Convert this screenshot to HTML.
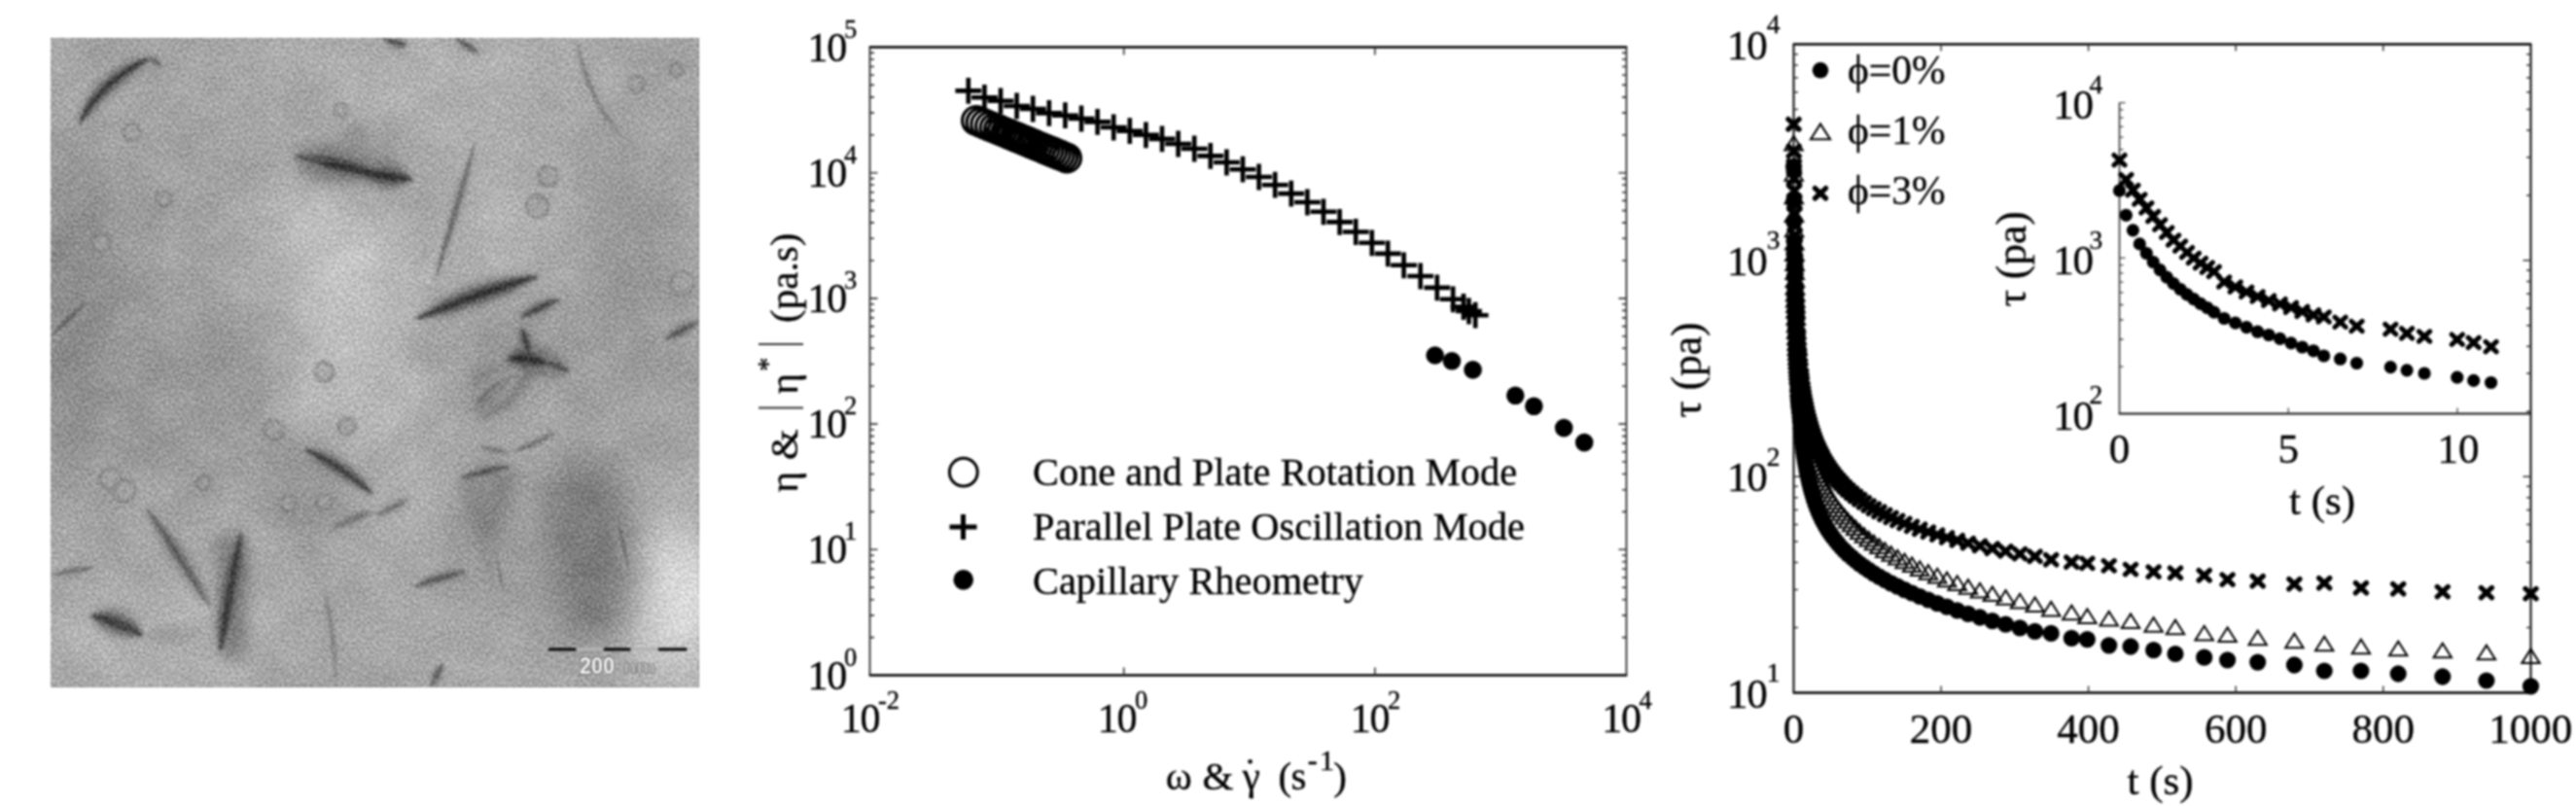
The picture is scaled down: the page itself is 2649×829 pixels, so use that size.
<!DOCTYPE html><html><head><meta charset="utf-8"><style>html,body{margin:0;padding:0;background:#fff;overflow:hidden}svg{display:block}text{font-family:"Liberation Serif",serif;fill:#000;stroke:#000;stroke-width:0.35px}</style></head><body><svg width="2649" height="829" viewBox="0 0 2649 829"><defs><filter id="soft" x="0" y="0" width="100%" height="100%" color-interpolation-filters="sRGB"><feGaussianBlur stdDeviation="0.85"/></filter></defs><rect width="100%" height="100%" fill="#fff"/><g filter="url(#soft)"><defs><clipPath id="temclip"><rect x="0" y="0" width="666" height="667"/></clipPath><filter id="b40" x="-50%" y="-50%" width="200%" height="200%"><feGaussianBlur stdDeviation="30"/></filter><filter id="b20" x="-50%" y="-50%" width="200%" height="200%"><feGaussianBlur stdDeviation="16"/></filter><filter id="b8" x="-50%" y="-50%" width="200%" height="200%"><feGaussianBlur stdDeviation="7"/></filter><filter id="b3" x="-50%" y="-50%" width="200%" height="200%"><feGaussianBlur stdDeviation="3"/></filter><filter id="b15" x="-50%" y="-50%" width="200%" height="200%"><feGaussianBlur stdDeviation="1.2"/></filter><filter id="temf" x="0" y="0" width="100%" height="100%" color-interpolation-filters="sRGB"><feTurbulence type="fractalNoise" baseFrequency="0.42" numOctaves="2" seed="7" result="n1"/><feColorMatrix in="n1" type="matrix" values="1 0 0 0 0  1 0 0 0 0  1 0 0 0 0  0 0 0 0 1" result="g1"/><feTurbulence type="fractalNoise" baseFrequency="0.025" numOctaves="2" seed="11" result="n2"/><feColorMatrix in="n2" type="matrix" values="1 0 0 0 0  1 0 0 0 0  1 0 0 0 0  0 0 0 0 1" result="g2"/><feComposite in="SourceGraphic" in2="g1" operator="arithmetic" k1="0" k2="1" k3="0.52" k4="-0.26" result="s1"/><feComposite in="s1" in2="g2" operator="arithmetic" k1="0" k2="1" k3="0.09" k4="-0.045" result="s2"/><feGaussianBlur in="s2" stdDeviation="0.45"/></filter></defs>
<g transform="translate(52.3,39.1) scale(1.0005,1.0012)"><g clip-path="url(#temclip)"><g filter="url(#temf)">
<rect x="0" y="0" width="666" height="667" fill="rgb(165,165,165)"/>
<ellipse cx="290" cy="235" rx="65" ry="100" transform="rotate(-15 290 235)" fill="rgb(205,205,205)" opacity="0.95" filter="url(#b40)"/>
<ellipse cx="330" cy="360" rx="70" ry="60" transform="rotate(0 330 360)" fill="rgb(188,188,188)" opacity="0.7" filter="url(#b40)"/>
<ellipse cx="290" cy="300" rx="90" ry="120" transform="rotate(0 290 300)" fill="rgb(190,190,190)" opacity="0.6" filter="url(#b40)"/>
<ellipse cx="640" cy="575" rx="55" ry="80" transform="rotate(0 640 575)" fill="rgb(222,222,222)" opacity="1.0" filter="url(#b40)"/>
<ellipse cx="110" cy="620" rx="130" ry="60" transform="rotate(0 110 620)" fill="rgb(182,182,182)" opacity="0.7" filter="url(#b40)"/>
<ellipse cx="380" cy="30" rx="220" ry="40" transform="rotate(0 380 30)" fill="rgb(180,180,180)" opacity="0.7" filter="url(#b40)"/>
<ellipse cx="470" cy="180" rx="70" ry="110" transform="rotate(0 470 180)" fill="rgb(182,182,182)" opacity="0.6" filter="url(#b40)"/>
<ellipse cx="370" cy="470" rx="60" ry="60" transform="rotate(0 370 470)" fill="rgb(180,180,180)" opacity="0.6" filter="url(#b40)"/>
<ellipse cx="400" cy="620" rx="90" ry="50" transform="rotate(0 400 620)" fill="rgb(176,176,176)" opacity="0.5" filter="url(#b40)"/>
<ellipse cx="640" cy="160" rx="40" ry="80" transform="rotate(0 640 160)" fill="rgb(176,176,176)" opacity="0.5" filter="url(#b40)"/>
<ellipse cx="200" cy="560" rx="60" ry="60" transform="rotate(0 200 560)" fill="rgb(178,178,178)" opacity="0.5" filter="url(#b40)"/>
<ellipse cx="25" cy="280" rx="45" ry="160" transform="rotate(0 25 280)" fill="rgb(132,132,132)" opacity="0.9" filter="url(#b40)"/>
<ellipse cx="170" cy="330" rx="60" ry="60" transform="rotate(0 170 330)" fill="rgb(142,142,142)" opacity="0.7" filter="url(#b40)"/>
<ellipse cx="120" cy="420" rx="90" ry="40" transform="rotate(0 120 420)" fill="rgb(150,150,150)" opacity="0.6" filter="url(#b40)"/>
<ellipse cx="555" cy="528" rx="46" ry="98" transform="rotate(-6 555 528)" fill="rgb(118,118,118)" opacity="0.9" filter="url(#b20)"/>
<ellipse cx="452" cy="510" rx="32" ry="75" transform="rotate(0 452 510)" fill="rgb(142,142,142)" opacity="0.7" filter="url(#b40)"/>
<ellipse cx="600" cy="250" rx="40" ry="150" transform="rotate(0 600 250)" fill="rgb(150,150,150)" opacity="0.6" filter="url(#b40)"/>
<ellipse cx="262" cy="465" rx="35" ry="40" transform="rotate(0 262 465)" fill="rgb(145,145,145)" opacity="0.7" filter="url(#b20)"/>
<ellipse cx="300" cy="150" rx="55" ry="35" transform="rotate(0 300 150)" fill="rgb(155,155,155)" opacity="0.5" filter="url(#b40)"/>
<ellipse cx="150" cy="160" rx="60" ry="50" transform="rotate(0 150 160)" fill="rgb(157,157,157)" opacity="0.4" filter="url(#b40)"/>
<ellipse cx="240" cy="250" rx="20" ry="60" transform="rotate(0 240 250)" fill="rgb(157,157,157)" opacity="0.5" filter="url(#b20)"/>
<ellipse cx="490" cy="320" rx="40" ry="40" transform="rotate(0 490 320)" fill="rgb(140,140,140)" opacity="0.6" filter="url(#b20)"/>
<ellipse cx="150" cy="20" rx="80" ry="25" transform="rotate(0 150 20)" fill="rgb(160,160,160)" opacity="0.5" filter="url(#b40)"/>
<ellipse cx="600" cy="220" rx="30" ry="130" transform="rotate(0 600 220)" fill="rgb(146,146,146)" opacity="0.6" filter="url(#b40)"/>
<ellipse cx="400" cy="50" rx="70" ry="50" transform="rotate(0 400 50)" fill="rgb(184,184,184)" opacity="0.6" filter="url(#b40)"/>
<ellipse cx="260" cy="455" rx="40" ry="45" transform="rotate(0 260 455)" fill="rgb(150,150,150)" opacity="0.6" filter="url(#b20)"/>
<ellipse cx="140" cy="370" rx="80" ry="40" transform="rotate(0 140 370)" fill="rgb(152,152,152)" opacity="0.5" filter="url(#b40)"/>
<ellipse cx="420" cy="320" rx="60" ry="30" transform="rotate(0 420 320)" fill="rgb(150,150,150)" opacity="0.5" filter="url(#b20)"/>
<path d="M250,112 C285,100 325,112 333,128 C325,150 290,150 255,135 Z" fill="rgb(140,140,140)" opacity="0.8" filter="url(#b3)"/>
<path d="M296,96 C305,88 322,88 328,100 C322,116 302,116 296,96 Z" fill="rgb(150,150,150)" opacity="0.8" filter="url(#b3)"/>
<path d="M378,250 L405,186 L418,190 L392,255 Z" fill="rgb(190,190,190)" opacity="0.6" filter="url(#b3)"/>
<path d="M97,482 C120,505 150,545 165,585 C150,580 120,540 97,482 Z" fill="rgb(150,150,150)" opacity="0.8" filter="url(#b3)"/>
<path d="M174,631 C180,590 185,550 196,507 C205,550 198,600 185,645 Z" fill="rgb(150,150,150)" opacity="0.8" filter="url(#b3)"/>
<path d="M95,614 C115,600 140,598 160,606 C140,625 115,628 95,614 Z" fill="rgb(160,160,160)" opacity="0.8" filter="url(#b3)"/>
<path d="M231,428 L289,430 L292,498 L235,494 Z" fill="rgb(150,150,150)" opacity="0.7" filter="url(#b8)"/>
<path d="M418,451 L476,442 L462,520 L455,571 L440,520 Z" fill="rgb(128,128,128)" opacity="0.8" filter="url(#b8)"/>
<path d="M430,335 L500,330 L480,360 L440,392 Z" fill="rgb(125,125,125)" opacity="0.8" filter="url(#b8)"/>
<path d="M168,515 L200,505 L205,560 L200,640 L180,640 Z" fill="rgb(125,125,125)" opacity="0.8" filter="url(#b8)"/>
<path d="M255,118 C290,100 340,110 372,138 C350,158 300,158 255,140 Z" fill="rgb(130,130,130)" opacity="0.7" filter="url(#b8)"/>
<path d="M470,470 C480,500 490,540 495,580 C485,560 472,520 470,470 Z" fill="rgb(150,150,150)" opacity="0.6" filter="url(#b8)"/>
<path d="M468,330 C478,318 495,312 512,318 C525,330 530,340 520,346 C500,350 485,348 468,330 Z" fill="rgb(95,95,95)" opacity="0.5" filter="url(#b3)"/>
<path d="M478,342 L505,338 L470,380 L440,392 Z" fill="rgb(115,115,115)" opacity="0.6" filter="url(#b3)"/>
<circle cx="52" cy="211" r="9" fill="rgb(160,160,160)" stroke="rgb(112,112,112)" stroke-width="2.3" opacity="0.7" filter="url(#b15)"/>
<circle cx="281" cy="343" r="10" fill="rgb(160,160,160)" stroke="rgb(112,112,112)" stroke-width="2.3" opacity="0.7" filter="url(#b15)"/>
<circle cx="304" cy="399" r="9" fill="rgb(160,160,160)" stroke="rgb(112,112,112)" stroke-width="2.3" opacity="0.7" filter="url(#b15)"/>
<circle cx="229" cy="403" r="10" fill="rgb(160,160,160)" stroke="rgb(112,112,112)" stroke-width="2.3" opacity="0.7" filter="url(#b15)"/>
<circle cx="62" cy="453" r="11" fill="rgb(160,160,160)" stroke="rgb(112,112,112)" stroke-width="2.3" opacity="0.7" filter="url(#b15)"/>
<circle cx="76" cy="465" r="11" fill="rgb(160,160,160)" stroke="rgb(112,112,112)" stroke-width="2.3" opacity="0.7" filter="url(#b15)"/>
<circle cx="157" cy="457" r="7" fill="rgb(160,160,160)" stroke="rgb(112,112,112)" stroke-width="2.3" opacity="0.7" filter="url(#b15)"/>
<circle cx="511" cy="142" r="10" fill="rgb(160,160,160)" stroke="rgb(112,112,112)" stroke-width="2.3" opacity="0.7" filter="url(#b15)"/>
<circle cx="500" cy="173" r="11.5" fill="rgb(160,160,160)" stroke="rgb(112,112,112)" stroke-width="2.3" opacity="0.7" filter="url(#b15)"/>
<circle cx="649" cy="252" r="12" fill="rgb(160,160,160)" stroke="rgb(112,112,112)" stroke-width="2.3" opacity="0.7" filter="url(#b15)"/>
<circle cx="83" cy="97" r="9" fill="rgb(160,160,160)" stroke="rgb(112,112,112)" stroke-width="2.3" opacity="0.7" filter="url(#b15)"/>
<circle cx="298" cy="74" r="7" fill="rgb(160,160,160)" stroke="rgb(112,112,112)" stroke-width="2.3" opacity="0.7" filter="url(#b15)"/>
<circle cx="602" cy="47" r="8" fill="rgb(160,160,160)" stroke="rgb(112,112,112)" stroke-width="2.3" opacity="0.7" filter="url(#b15)"/>
<circle cx="643" cy="33" r="7" fill="rgb(160,160,160)" stroke="rgb(112,112,112)" stroke-width="2.3" opacity="0.7" filter="url(#b15)"/>
<circle cx="244" cy="478" r="8" fill="rgb(160,160,160)" stroke="rgb(112,112,112)" stroke-width="2.3" opacity="0.7" filter="url(#b15)"/>
<circle cx="281" cy="476" r="8" fill="rgb(160,160,160)" stroke="rgb(112,112,112)" stroke-width="2.3" opacity="0.7" filter="url(#b15)"/>
<circle cx="116" cy="165" r="8" fill="rgb(160,160,160)" stroke="rgb(112,112,112)" stroke-width="2.3" opacity="0.7" filter="url(#b15)"/>
<path d="M29.0,89.0 L33.8,86.9 L37.2,84.3 L40.3,81.7 L43.3,79.0 L46.2,76.4 L49.1,73.8 L51.9,71.2 L54.7,68.6 L57.5,66.0 L60.3,63.5 L63.1,60.9 L65.9,58.2 L68.8,55.6 L71.6,52.9 L74.6,50.1 L77.6,47.3 L80.6,44.5 L83.7,41.5 L86.9,38.5 L90.1,35.4 L93.4,32.2 L96.8,28.9 L100.2,25.2 L103.0,20.0 L103.0,20.0 L97.1,19.1 L92.0,19.7 L87.1,20.9 L82.3,22.3 L77.7,23.9 L73.3,25.8 L69.0,27.9 L64.9,30.2 L60.9,32.7 L57.1,35.4 L53.5,38.2 L50.1,41.3 L46.9,44.5 L43.8,47.8 L41.0,51.3 L38.4,54.9 L36.0,58.7 L33.9,62.6 L32.1,66.6 L30.5,70.7 L29.2,74.9 L28.2,79.3 L27.8,83.8 L29.0,89.0 Z" fill="rgb(115,115,115)" opacity="0.5" filter="url(#b3)"/>
<path d="M100.0,21.0 L100.4,23.0 L100.8,24.0 L101.1,24.9 L101.5,25.6 L101.8,26.2 L102.1,26.8 L102.4,27.3 L102.7,27.8 L103.0,28.2 L103.3,28.5 L103.7,28.9 L104.0,29.1 L104.5,29.4 L104.9,29.6 L105.4,29.8 L106.0,29.9 L106.6,30.1 L107.3,30.2 L108.0,30.3 L108.8,30.4 L109.8,30.5 L110.8,30.5 L112.0,30.5 L114.0,30.0 L114.0,30.0 L115.0,28.2 L115.2,26.9 L115.2,25.7 L115.0,24.7 L114.8,23.6 L114.5,22.7 L114.1,21.8 L113.6,21.0 L113.0,20.2 L112.4,19.5 L111.7,18.9 L111.0,18.4 L110.2,17.9 L109.3,17.5 L108.4,17.3 L107.5,17.1 L106.6,17.0 L105.7,17.1 L104.7,17.2 L103.8,17.5 L102.8,17.9 L101.9,18.4 L101.0,19.2 L100.0,21.0 Z" fill="rgb(150,150,150)" opacity="0.5" filter="url(#b3)"/>
<path d="M250.0,122.0 L252.8,128.0 L255.8,131.2 L258.8,133.8 L261.8,136.0 L264.9,138.0 L267.9,139.8 L270.9,141.4 L274.0,142.9 L277.1,144.1 L280.2,145.2 L283.4,146.2 L286.6,147.0 L289.9,147.6 L293.3,148.1 L296.7,148.4 L300.2,148.5 L303.7,148.6 L307.4,148.4 L311.1,148.1 L315.0,147.6 L319.0,146.8 L323.2,145.8 L327.6,144.2 L333.0,140.0 L333.0,140.0 L331.3,133.4 L328.5,129.4 L325.6,126.0 L322.5,123.1 L319.3,120.5 L316.0,118.1 L312.6,116.0 L309.2,114.1 L305.7,112.5 L302.1,111.1 L298.5,110.0 L294.9,109.0 L291.2,108.4 L287.5,107.9 L283.7,107.7 L280.0,107.8 L276.2,108.1 L272.5,108.7 L268.7,109.5 L265.0,110.6 L261.3,112.1 L257.5,114.0 L253.8,116.6 L250.0,122.0 Z" fill="rgb(140,140,140)" opacity="0.5" filter="url(#b3)"/>
<path d="M275.0,128.0 L277.4,131.8 L280.0,134.0 L282.6,135.7 L285.3,137.3 L287.9,138.7 L290.5,140.0 L293.2,141.2 L295.8,142.2 L298.4,143.2 L301.0,144.0 L303.7,144.7 L306.3,145.3 L308.9,145.9 L311.6,146.3 L314.3,146.6 L316.9,146.8 L319.6,146.9 L322.4,146.9 L325.1,146.8 L327.9,146.5 L330.7,146.1 L333.6,145.5 L336.5,144.5 L340.0,142.0 L340.0,142.0 L338.5,138.0 L336.4,135.6 L334.2,133.5 L331.9,131.7 L329.5,130.1 L327.0,128.6 L324.5,127.3 L321.9,126.1 L319.3,125.0 L316.7,124.1 L314.0,123.3 L311.2,122.7 L308.4,122.1 L305.6,121.7 L302.7,121.5 L299.8,121.3 L296.8,121.3 L293.8,121.5 L290.8,121.8 L287.8,122.2 L284.7,122.9 L281.6,123.8 L278.4,125.0 L275.0,128.0 Z" fill="rgb(105,105,105)" opacity="0.5" filter="url(#b3)"/>
<path d="M320.0,138.0 L321.3,142.5 L323.0,145.0 L324.8,147.1 L326.8,148.8 L328.7,150.3 L330.7,151.7 L332.8,152.9 L334.9,153.9 L337.0,154.7 L339.2,155.4 L341.4,155.9 L343.6,156.3 L345.9,156.5 L348.1,156.6 L350.4,156.5 L352.7,156.3 L355.1,155.9 L357.4,155.3 L359.8,154.5 L362.2,153.6 L364.6,152.4 L367.0,150.9 L369.4,149.0 L372.0,145.0 L372.0,145.0 L370.1,140.7 L368.0,138.4 L366.0,136.5 L363.9,134.9 L361.9,133.5 L359.8,132.3 L357.8,131.3 L355.7,130.4 L353.6,129.6 L351.6,129.0 L349.5,128.5 L347.4,128.2 L345.3,128.0 L343.2,127.9 L341.0,127.9 L338.9,128.1 L336.7,128.5 L334.5,128.9 L332.3,129.6 L330.0,130.4 L327.7,131.4 L325.4,132.6 L322.9,134.3 L320.0,138.0 Z" fill="rgb(105,105,105)" opacity="0.5" filter="url(#b3)"/>
<path d="M436.0,107.0 L432.1,112.3 L429.4,117.9 L426.8,123.6 L424.4,129.2 L422.1,135.0 L419.9,140.7 L417.8,146.5 L415.8,152.3 L413.8,158.1 L411.9,163.9 L410.1,169.7 L408.4,175.6 L406.7,181.5 L405.1,187.4 L403.6,193.3 L402.1,199.2 L400.7,205.2 L399.4,211.2 L398.2,217.2 L397.1,223.2 L396.1,229.2 L395.2,235.3 L394.6,241.5 L395.0,248.0 L395.0,248.0 L398.9,242.8 L401.8,237.3 L404.4,231.7 L406.8,226.1 L409.2,220.4 L411.4,214.7 L413.6,209.0 L415.7,203.2 L417.7,197.4 L419.6,191.6 L421.4,185.8 L423.1,179.9 L424.8,174.0 L426.4,168.1 L427.9,162.1 L429.3,156.2 L430.7,150.2 L432.0,144.2 L433.1,138.1 L434.2,132.0 L435.1,125.9 L436.0,119.8 L436.5,113.5 L436.0,107.0 Z" fill="rgb(155,155,155)" opacity="0.5" filter="url(#b3)"/>
<path d="M374.0,289.0 L381.1,290.6 L387.3,290.4 L393.4,289.8 L399.3,289.0 L405.1,288.0 L410.9,286.8 L416.5,285.6 L422.1,284.2 L427.6,282.7 L433.0,281.1 L438.4,279.4 L443.7,277.6 L449.0,275.7 L454.1,273.7 L459.3,271.6 L464.3,269.4 L469.3,267.0 L474.3,264.5 L479.2,261.9 L484.0,259.2 L488.8,256.3 L493.5,253.1 L498.0,249.5 L502.0,244.0 L502.0,244.0 L495.6,241.5 L489.8,241.0 L484.1,241.0 L478.4,241.3 L472.8,241.8 L467.2,242.6 L461.7,243.5 L456.1,244.6 L450.6,245.9 L445.1,247.4 L439.7,249.0 L434.3,250.9 L428.9,252.8 L423.6,255.0 L418.3,257.3 L413.0,259.8 L407.8,262.4 L402.6,265.3 L397.5,268.3 L392.5,271.5 L387.5,275.0 L382.6,278.7 L377.9,282.9 L374.0,289.0 Z" fill="rgb(115,115,115)" opacity="0.5" filter="url(#b3)"/>
<path d="M436.0,378.0 L439.2,378.2 L441.4,377.6 L443.4,376.9 L445.2,376.2 L447.0,375.4 L448.6,374.5 L450.2,373.7 L451.7,372.8 L453.1,371.9 L454.5,370.9 L455.8,369.9 L457.1,368.9 L458.3,367.8 L459.5,366.6 L460.6,365.5 L461.8,364.2 L462.8,362.9 L463.9,361.6 L464.9,360.1 L465.9,358.6 L466.9,357.0 L467.9,355.2 L468.7,353.2 L469.0,350.0 L469.0,350.0 L466.1,348.5 L463.9,348.3 L461.7,348.3 L459.7,348.5 L457.7,348.9 L455.7,349.4 L453.8,350.1 L452.0,350.9 L450.3,351.8 L448.6,352.8 L447.0,353.9 L445.4,355.1 L444.0,356.5 L442.6,357.9 L441.3,359.4 L440.1,361.0 L439.0,362.7 L438.0,364.5 L437.1,366.3 L436.4,368.3 L435.7,370.3 L435.3,372.5 L435.1,374.9 L436.0,378.0 Z" fill="rgb(160,160,160)" opacity="0.5" filter="url(#b3)"/>
<path d="M482.0,287.0 L484.8,288.5 L487.1,288.9 L489.2,289.1 L491.3,289.0 L493.3,288.9 L495.2,288.6 L497.1,288.3 L499.0,287.9 L500.8,287.4 L502.6,286.8 L504.3,286.2 L506.0,285.4 L507.7,284.6 L509.3,283.7 L510.9,282.7 L512.5,281.6 L514.0,280.5 L515.5,279.2 L517.0,277.9 L518.4,276.5 L519.8,274.9 L521.1,273.2 L522.3,271.2 L523.0,268.0 L523.0,268.0 L520.2,266.3 L517.9,265.8 L515.7,265.6 L513.6,265.6 L511.6,265.7 L509.6,265.9 L507.6,266.2 L505.7,266.6 L503.8,267.1 L502.0,267.7 L500.2,268.3 L498.5,269.1 L496.8,269.9 L495.1,270.9 L493.5,271.9 L491.9,273.0 L490.4,274.2 L488.9,275.5 L487.5,276.9 L486.1,278.4 L484.8,280.0 L483.6,281.8 L482.5,283.8 L482.0,287.0 Z" fill="rgb(125,125,125)" opacity="0.5" filter="url(#b3)"/>
<path d="M469.0,330.0 L471.3,333.9 L473.1,335.9 L474.9,337.4 L476.5,338.7 L478.1,339.8 L479.6,340.7 L481.1,341.5 L482.6,342.2 L484.0,342.8 L485.5,343.3 L486.9,343.6 L488.3,343.9 L489.8,344.0 L491.3,344.0 L492.8,343.9 L494.4,343.6 L496.0,343.3 L497.7,342.9 L499.5,342.3 L501.4,341.6 L503.3,340.8 L505.5,339.7 L507.8,338.3 L511.0,335.0 L511.0,335.0 L510.7,330.4 L509.5,327.8 L508.2,325.6 L506.6,323.6 L505.0,322.0 L503.3,320.5 L501.5,319.2 L499.6,318.1 L497.7,317.2 L495.7,316.5 L493.7,316.0 L491.7,315.6 L489.6,315.5 L487.5,315.5 L485.5,315.8 L483.4,316.2 L481.4,316.8 L479.4,317.7 L477.4,318.7 L475.5,320.0 L473.6,321.5 L471.9,323.3 L470.2,325.6 L469.0,330.0 Z" fill="rgb(105,105,105)" opacity="0.5" filter="url(#b3)"/>
<path d="M484.0,297.0 L481.8,298.9 L480.8,300.5 L480.1,302.0 L479.6,303.5 L479.2,305.0 L478.9,306.4 L478.8,307.7 L478.7,309.1 L478.7,310.4 L478.8,311.7 L479.0,312.9 L479.3,314.1 L479.7,315.3 L480.2,316.5 L480.7,317.7 L481.4,318.8 L482.1,319.9 L483.0,320.9 L483.9,321.9 L485.0,322.9 L486.1,323.9 L487.5,324.8 L489.1,325.6 L492.0,326.0 L492.0,326.0 L494.2,324.1 L495.2,322.6 L495.9,321.1 L496.4,319.7 L496.8,318.3 L497.0,317.0 L497.2,315.6 L497.3,314.3 L497.3,313.1 L497.2,311.8 L497.0,310.6 L496.7,309.4 L496.3,308.2 L495.8,307.0 L495.3,305.8 L494.6,304.7 L493.9,303.6 L493.1,302.5 L492.1,301.5 L491.1,300.4 L489.9,299.4 L488.5,298.5 L486.9,297.6 L484.0,297.0 Z" fill="rgb(120,120,120)" opacity="0.5" filter="url(#b3)"/>
<path d="M506.0,332.0 L506.5,334.5 L507.3,336.0 L508.2,337.2 L509.1,338.2 L510.0,339.2 L510.9,340.1 L511.8,340.9 L512.8,341.6 L513.8,342.3 L514.8,342.9 L515.8,343.4 L516.8,343.9 L517.9,344.3 L519.0,344.6 L520.2,344.9 L521.3,345.1 L522.5,345.3 L523.8,345.3 L525.1,345.4 L526.4,345.3 L527.8,345.2 L529.3,344.9 L530.9,344.4 L533.0,343.0 L533.0,343.0 L533.0,340.4 L532.4,338.8 L531.7,337.4 L530.9,336.2 L530.0,335.1 L529.1,334.0 L528.1,333.1 L527.1,332.2 L526.1,331.4 L525.0,330.8 L523.8,330.1 L522.7,329.6 L521.4,329.2 L520.2,328.8 L518.9,328.5 L517.6,328.4 L516.3,328.3 L515.0,328.3 L513.6,328.4 L512.2,328.6 L510.8,328.9 L509.3,329.4 L507.8,330.2 L506.0,332.0 Z" fill="rgb(130,130,130)" opacity="0.5" filter="url(#b3)"/>
<path d="M482.0,339.0 L477.3,337.7 L474.0,338.0 L470.9,338.5 L468.1,339.3 L465.4,340.3 L462.9,341.4 L460.4,342.6 L458.0,344.0 L455.8,345.5 L453.6,347.1 L451.5,348.8 L449.6,350.6 L447.7,352.5 L445.9,354.6 L444.2,356.8 L442.6,359.1 L441.1,361.5 L439.8,364.0 L438.5,366.6 L437.3,369.4 L436.3,372.4 L435.5,375.6 L435.0,379.0 L436.0,384.0 L436.0,384.0 L441.0,385.0 L444.4,384.5 L447.6,383.7 L450.5,382.7 L453.3,381.6 L456.0,380.4 L458.5,379.0 L460.9,377.6 L463.2,376.1 L465.4,374.4 L467.5,372.7 L469.4,370.9 L471.3,369.0 L473.0,367.0 L474.7,364.9 L476.2,362.7 L477.6,360.4 L478.9,358.0 L480.1,355.5 L481.1,352.8 L482.0,350.1 L482.7,347.1 L483.1,343.8 L482.0,339.0 Z" fill="rgb(165,165,165)" opacity="0.5" filter="url(#b3)"/>
<path d="M0.0,306.0 L3.3,306.6 L5.7,306.3 L7.9,305.6 L10.1,304.9 L12.1,304.0 L14.1,303.0 L16.0,301.9 L17.8,300.7 L19.6,299.4 L21.3,298.1 L23.0,296.6 L24.6,295.1 L26.2,293.5 L27.6,291.8 L29.0,290.0 L30.4,288.2 L31.7,286.2 L32.9,284.2 L34.0,282.1 L35.0,279.9 L36.0,277.6 L36.8,275.2 L37.4,272.5 L37.0,269.0 L37.0,269.0 L33.5,269.0 L30.9,269.8 L28.6,270.7 L26.4,271.8 L24.3,273.0 L22.3,274.2 L20.3,275.4 L18.5,276.7 L16.7,278.1 L15.1,279.5 L13.4,280.9 L11.9,282.4 L10.4,283.9 L9.0,285.5 L7.7,287.1 L6.4,288.8 L5.2,290.6 L4.0,292.4 L3.0,294.2 L2.0,296.2 L1.1,298.2 L0.3,300.3 L-0.3,302.7 L0.0,306.0 Z" fill="rgb(155,155,155)" opacity="0.5" filter="url(#b3)"/>
<path d="M37.0,269.0 L39.7,269.3 L41.8,268.9 L43.7,268.3 L45.6,267.6 L47.5,266.9 L49.3,266.0 L51.0,265.1 L52.7,264.2 L54.4,263.2 L56.0,262.1 L57.6,261.0 L59.2,259.8 L60.7,258.6 L62.2,257.3 L63.7,255.9 L65.1,254.5 L66.4,253.0 L67.8,251.5 L69.1,249.9 L70.3,248.3 L71.5,246.6 L72.6,244.7 L73.6,242.7 L74.0,240.0 L74.0,240.0 L71.3,239.8 L69.1,240.3 L67.0,240.9 L65.1,241.7 L63.2,242.5 L61.3,243.4 L59.6,244.3 L57.8,245.3 L56.1,246.3 L54.5,247.4 L52.9,248.5 L51.3,249.7 L49.8,250.9 L48.3,252.2 L46.9,253.6 L45.5,254.9 L44.2,256.4 L42.9,257.8 L41.6,259.4 L40.4,261.0 L39.3,262.6 L38.3,264.4 L37.3,266.3 L37.0,269.0 Z" fill="rgb(165,165,165)" opacity="0.5" filter="url(#b3)"/>
<path d="M631.0,310.0 L633.8,311.5 L635.8,311.8 L637.8,311.9 L639.6,311.8 L641.4,311.7 L643.2,311.4 L644.8,311.1 L646.5,310.7 L648.0,310.1 L649.6,309.6 L651.1,308.9 L652.5,308.2 L654.0,307.3 L655.3,306.4 L656.7,305.5 L658.0,304.4 L659.2,303.3 L660.4,302.0 L661.6,300.7 L662.7,299.3 L663.8,297.8 L664.8,296.1 L665.7,294.1 L666.0,291.0 L666.0,291.0 L663.3,289.4 L661.2,288.9 L659.2,288.8 L657.3,288.7 L655.5,288.9 L653.7,289.1 L651.9,289.4 L650.3,289.8 L648.6,290.3 L647.0,290.9 L645.5,291.6 L644.0,292.3 L642.5,293.2 L641.1,294.1 L639.7,295.1 L638.4,296.2 L637.2,297.4 L636.0,298.7 L634.8,300.1 L633.7,301.5 L632.7,303.1 L631.8,304.9 L631.1,306.9 L631.0,310.0 Z" fill="rgb(135,135,135)" opacity="0.5" filter="url(#b3)"/>
<path d="M540.0,0.0 L539.2,5.7 L539.4,11.3 L539.9,16.7 L540.6,22.0 L541.5,27.2 L542.6,32.4 L543.8,37.4 L545.3,42.3 L546.8,47.2 L548.6,51.9 L550.4,56.5 L552.5,61.0 L554.7,65.4 L557.0,69.6 L559.5,73.7 L562.1,77.7 L564.9,81.6 L567.8,85.3 L570.8,88.8 L574.0,92.2 L577.4,95.4 L580.9,98.3 L584.6,101.1 L589.0,103.0 L589.0,103.0 L587.3,98.5 L585.2,94.6 L582.9,90.8 L580.7,87.0 L578.5,83.2 L576.3,79.4 L574.2,75.5 L572.1,71.6 L570.1,67.7 L568.0,63.7 L566.0,59.6 L564.0,55.5 L562.1,51.3 L560.1,47.1 L558.2,42.7 L556.3,38.3 L554.4,33.8 L552.5,29.3 L550.6,24.6 L548.8,19.8 L546.9,15.0 L544.9,10.0 L542.9,5.0 L540.0,0.0 Z" fill="rgb(165,165,165)" opacity="0.5" filter="url(#b3)"/>
<path d="M341.0,0.0 L341.3,2.9 L342.0,4.6 L342.8,6.0 L343.6,7.2 L344.5,8.3 L345.5,9.3 L346.4,10.2 L347.4,10.9 L348.4,11.6 L349.4,12.2 L350.4,12.7 L351.5,13.1 L352.6,13.4 L353.7,13.6 L354.8,13.7 L355.9,13.7 L357.1,13.6 L358.2,13.4 L359.4,13.1 L360.6,12.6 L361.8,12.1 L363.1,11.3 L364.4,10.3 L366.0,8.0 L366.0,8.0 L365.8,5.2 L365.2,3.6 L364.6,2.4 L363.9,1.2 L363.2,0.3 L362.4,-0.6 L361.6,-1.4 L360.7,-2.1 L359.9,-2.7 L358.9,-3.3 L358.0,-3.7 L357.0,-4.1 L356.0,-4.4 L354.9,-4.6 L353.8,-4.7 L352.6,-4.7 L351.4,-4.7 L350.2,-4.5 L348.9,-4.3 L347.5,-4.0 L346.1,-3.6 L344.6,-3.0 L343.0,-2.1 L341.0,0.0 Z" fill="rgb(140,140,140)" opacity="0.5" filter="url(#b3)"/>
<path d="M416.0,0.0 L415.7,2.6 L416.1,4.2 L416.6,5.6 L417.2,6.9 L417.8,8.1 L418.5,9.2 L419.3,10.2 L420.1,11.2 L420.9,12.1 L421.8,12.9 L422.8,13.7 L423.7,14.4 L424.8,15.0 L425.8,15.6 L426.9,16.1 L428.1,16.5 L429.3,16.9 L430.5,17.2 L431.8,17.4 L433.2,17.6 L434.6,17.6 L436.1,17.5 L437.7,17.2 L440.0,16.0 L440.0,16.0 L440.3,13.4 L439.9,11.8 L439.4,10.4 L438.8,9.1 L438.2,7.9 L437.5,6.8 L436.7,5.8 L435.9,4.8 L435.1,3.9 L434.2,3.1 L433.2,2.3 L432.3,1.6 L431.2,1.0 L430.2,0.4 L429.1,-0.1 L427.9,-0.5 L426.7,-0.9 L425.5,-1.2 L424.2,-1.4 L422.8,-1.6 L421.4,-1.6 L419.9,-1.5 L418.3,-1.2 L416.0,0.0 Z" fill="rgb(150,150,150)" opacity="0.5" filter="url(#b3)"/>
<path d="M260.0,422.0 L261.9,426.6 L264.4,429.7 L267.0,432.5 L269.6,435.1 L272.2,437.6 L274.9,439.9 L277.6,442.2 L280.3,444.4 L283.0,446.5 L285.8,448.6 L288.5,450.5 L291.3,452.4 L294.2,454.3 L297.1,456.0 L300.0,457.8 L303.0,459.4 L306.0,461.0 L309.1,462.6 L312.3,464.1 L315.5,465.5 L318.9,466.9 L322.4,468.1 L326.1,469.1 L331.0,469.0 L331.0,469.0 L330.7,464.1 L329.2,460.4 L327.4,457.0 L325.3,453.8 L323.1,450.7 L320.8,447.8 L318.3,445.0 L315.7,442.4 L313.0,439.8 L310.1,437.4 L307.2,435.2 L304.2,433.1 L301.0,431.1 L297.8,429.3 L294.5,427.6 L291.0,426.0 L287.6,424.7 L284.0,423.4 L280.3,422.4 L276.6,421.5 L272.8,420.8 L268.8,420.4 L264.8,420.4 L260.0,422.0 Z" fill="rgb(120,120,120)" opacity="0.5" filter="url(#b3)"/>
<path d="M97.0,482.0 L95.3,489.4 L95.8,495.1 L96.8,500.4 L98.2,505.6 L99.7,510.6 L101.4,515.4 L103.3,520.2 L105.4,524.8 L107.6,529.4 L110.0,533.8 L112.6,538.2 L115.3,542.4 L118.2,546.6 L121.2,550.7 L124.4,554.8 L127.8,558.7 L131.3,562.6 L135.0,566.3 L138.9,570.0 L143.1,573.6 L147.4,577.1 L152.1,580.4 L157.4,583.4 L165.0,585.0 L165.0,585.0 L167.1,577.5 L166.8,571.4 L166.0,565.7 L164.8,560.1 L163.4,554.8 L161.7,549.5 L159.8,544.5 L157.8,539.5 L155.5,534.7 L153.1,530.0 L150.5,525.5 L147.7,521.1 L144.7,516.8 L141.6,512.6 L138.3,508.6 L134.8,504.7 L131.2,501.0 L127.3,497.5 L123.3,494.0 L119.1,490.8 L114.6,487.8 L109.8,485.0 L104.5,482.7 L97.0,482.0 Z" fill="rgb(165,165,165)" opacity="0.5" filter="url(#b3)"/>
<path d="M99.0,484.0 L99.7,489.0 L101.3,493.3 L103.2,497.6 L105.1,501.7 L107.1,505.9 L109.2,510.0 L111.4,514.0 L113.7,518.1 L116.0,522.1 L118.3,526.1 L120.8,530.1 L123.3,534.1 L125.8,538.1 L128.4,542.1 L131.1,546.0 L133.9,549.9 L136.7,553.8 L139.6,557.7 L142.6,561.6 L145.6,565.5 L148.8,569.3 L152.0,573.1 L155.5,576.8 L160.0,580.0 L160.0,580.0 L159.5,574.5 L157.9,569.7 L156.2,564.9 L154.3,560.3 L152.4,555.7 L150.3,551.3 L148.1,546.9 L145.9,542.5 L143.6,538.3 L141.2,534.1 L138.8,529.9 L136.2,525.9 L133.7,521.9 L131.0,518.0 L128.3,514.1 L125.5,510.3 L122.6,506.6 L119.6,503.0 L116.6,499.5 L113.5,496.0 L110.3,492.7 L107.0,489.4 L103.4,486.4 L99.0,484.0 Z" fill="rgb(140,140,140)" opacity="0.5" filter="url(#b3)"/>
<path d="M196.0,507.0 L190.8,511.4 L187.7,516.2 L185.0,521.2 L182.6,526.1 L180.4,531.2 L178.4,536.2 L176.6,541.3 L175.0,546.4 L173.5,551.5 L172.2,556.7 L171.0,561.8 L170.0,567.0 L169.2,572.2 L168.5,577.5 L168.0,582.7 L167.6,588.0 L167.4,593.2 L167.4,598.5 L167.5,603.8 L167.9,609.2 L168.4,614.5 L169.3,619.9 L170.6,625.3 L174.0,631.0 L174.0,631.0 L178.9,626.5 L181.8,621.8 L184.2,616.9 L186.4,612.1 L188.3,607.2 L190.1,602.2 L191.8,597.3 L193.3,592.3 L194.7,587.2 L195.9,582.2 L197.0,577.1 L198.0,572.0 L198.8,566.8 L199.5,561.6 L200.1,556.4 L200.6,551.2 L200.9,545.9 L201.1,540.5 L201.1,535.2 L201.0,529.8 L200.6,524.3 L200.0,518.7 L199.0,513.1 L196.0,507.0 Z" fill="rgb(120,120,120)" opacity="0.5" filter="url(#b3)"/>
<path d="M41.0,593.0 L42.2,598.4 L43.9,601.4 L45.7,604.0 L47.5,606.2 L49.3,608.2 L51.2,610.0 L53.1,611.6 L55.0,613.0 L56.9,614.4 L58.9,615.5 L60.9,616.5 L62.9,617.4 L65.0,618.1 L67.2,618.7 L69.4,619.2 L71.6,619.5 L74.0,619.7 L76.4,619.8 L79.0,619.7 L81.6,619.4 L84.4,619.0 L87.3,618.3 L90.5,617.2 L95.0,614.0 L95.0,614.0 L95.3,608.5 L94.3,605.1 L93.0,602.2 L91.5,599.6 L89.9,597.2 L88.1,595.1 L86.2,593.1 L84.1,591.4 L82.0,589.8 L79.8,588.4 L77.5,587.1 L75.1,586.1 L72.6,585.2 L70.1,584.6 L67.5,584.1 L64.8,583.8 L62.1,583.8 L59.3,583.9 L56.5,584.3 L53.6,584.9 L50.7,585.8 L47.7,587.0 L44.6,588.8 L41.0,593.0 Z" fill="rgb(125,125,125)" opacity="0.5" filter="url(#b3)"/>
<path d="M0.0,552.0 L2.5,554.5 L4.7,555.7 L6.7,556.4 L8.8,557.0 L10.8,557.5 L12.7,557.8 L14.7,558.0 L16.6,558.2 L18.5,558.2 L20.4,558.1 L22.2,557.9 L24.1,557.6 L25.9,557.3 L27.7,556.8 L29.5,556.2 L31.3,555.5 L33.1,554.8 L34.8,553.9 L36.6,552.9 L38.3,551.8 L40.1,550.5 L41.8,549.0 L43.5,547.3 L45.0,544.0 L45.0,544.0 L42.7,541.2 L40.5,540.0 L38.5,539.1 L36.4,538.3 L34.3,537.8 L32.3,537.4 L30.3,537.1 L28.3,536.9 L26.3,536.8 L24.3,536.9 L22.4,537.1 L20.4,537.4 L18.5,537.8 L16.7,538.3 L14.8,538.9 L13.0,539.6 L11.2,540.5 L9.4,541.4 L7.7,542.5 L6.0,543.7 L4.3,545.1 L2.7,546.7 L1.2,548.6 L0.0,552.0 Z" fill="rgb(165,165,165)" opacity="0.5" filter="url(#b3)"/>
<path d="M281.0,564.0 L280.0,568.2 L279.8,572.3 L279.8,576.3 L280.0,580.3 L280.1,584.3 L280.4,588.3 L280.7,592.3 L281.0,596.3 L281.3,600.4 L281.7,604.4 L282.2,608.4 L282.6,612.5 L283.2,616.6 L283.7,620.7 L284.3,624.8 L284.9,629.0 L285.6,633.2 L286.3,637.3 L287.1,641.6 L287.9,645.8 L288.8,650.1 L289.8,654.4 L290.9,658.7 L293.0,663.0 L293.0,663.0 L294.7,658.5 L295.5,654.1 L296.0,649.7 L296.3,645.3 L296.6,640.9 L296.7,636.5 L296.7,632.2 L296.6,627.9 L296.4,623.6 L296.2,619.4 L295.8,615.2 L295.4,611.0 L294.8,606.8 L294.2,602.7 L293.4,598.6 L292.6,594.6 L291.7,590.6 L290.6,586.6 L289.5,582.6 L288.3,578.8 L286.9,574.9 L285.4,571.2 L283.7,567.5 L281.0,564.0 Z" fill="rgb(165,165,165)" opacity="0.5" filter="url(#b3)"/>
<path d="M285.0,507.0 L288.7,508.8 L291.6,509.2 L294.3,509.4 L296.8,509.3 L299.2,509.1 L301.5,508.8 L303.8,508.5 L305.9,508.0 L308.0,507.4 L310.0,506.8 L311.9,506.1 L313.8,505.3 L315.6,504.4 L317.4,503.5 L319.0,502.4 L320.7,501.3 L322.2,500.0 L323.7,498.7 L325.2,497.3 L326.6,495.7 L327.9,494.0 L329.2,492.1 L330.4,489.8 L331.0,486.0 L331.0,486.0 L328.1,483.4 L325.7,482.4 L323.4,481.7 L321.2,481.4 L319.0,481.2 L316.8,481.2 L314.6,481.3 L312.5,481.6 L310.3,482.1 L308.3,482.6 L306.2,483.4 L304.2,484.2 L302.2,485.2 L300.3,486.3 L298.4,487.5 L296.5,488.9 L294.7,490.4 L293.0,492.0 L291.3,493.8 L289.7,495.8 L288.1,497.9 L286.7,500.2 L285.4,502.9 L285.0,507.0 Z" fill="rgb(165,165,165)" opacity="0.5" filter="url(#b3)"/>
<path d="M333.0,492.0 L336.2,494.0 L338.6,494.6 L340.6,494.9 L342.6,495.1 L344.4,495.1 L346.2,495.0 L347.9,494.8 L349.5,494.6 L351.0,494.2 L352.5,493.8 L353.9,493.3 L355.3,492.7 L356.6,492.0 L357.9,491.2 L359.2,490.3 L360.3,489.3 L361.5,488.2 L362.6,487.0 L363.7,485.7 L364.8,484.3 L365.8,482.7 L366.7,480.9 L367.6,478.7 L368.0,475.0 L368.0,475.0 L365.4,472.3 L363.3,471.2 L361.3,470.5 L359.3,470.0 L357.4,469.7 L355.5,469.6 L353.7,469.6 L351.9,469.8 L350.1,470.1 L348.4,470.5 L346.8,471.1 L345.2,471.8 L343.6,472.6 L342.2,473.6 L340.7,474.7 L339.4,475.9 L338.1,477.2 L336.9,478.6 L335.8,480.2 L334.8,481.9 L333.9,483.8 L333.1,485.8 L332.6,488.2 L333.0,492.0 Z" fill="rgb(165,165,165)" opacity="0.5" filter="url(#b3)"/>
<path d="M440.0,420.0 L440.8,422.5 L441.9,424.0 L443.0,425.2 L444.2,426.2 L445.5,427.2 L446.7,428.0 L448.0,428.7 L449.4,429.4 L450.7,429.9 L452.1,430.4 L453.5,430.8 L454.9,431.1 L456.3,431.3 L457.7,431.4 L459.2,431.5 L460.7,431.4 L462.1,431.3 L463.6,431.1 L465.1,430.7 L466.7,430.3 L468.2,429.8 L469.7,429.0 L471.3,428.1 L473.0,426.0 L473.0,426.0 L471.9,423.6 L470.6,422.3 L469.3,421.2 L468.1,420.2 L466.8,419.4 L465.5,418.7 L464.2,418.0 L462.9,417.5 L461.6,417.0 L460.3,416.6 L459.0,416.2 L457.6,415.9 L456.3,415.7 L454.9,415.6 L453.6,415.5 L452.2,415.5 L450.8,415.6 L449.4,415.8 L447.9,416.0 L446.5,416.3 L445.0,416.8 L443.5,417.3 L441.9,418.1 L440.0,420.0 Z" fill="rgb(165,165,165)" opacity="0.5" filter="url(#b3)"/>
<path d="M473.0,426.0 L475.9,427.5 L478.3,427.9 L480.7,428.1 L483.0,428.0 L485.3,427.9 L487.5,427.6 L489.7,427.2 L491.8,426.7 L493.9,426.1 L496.0,425.5 L498.0,424.7 L500.0,423.8 L501.9,422.9 L503.8,421.9 L505.7,420.8 L507.5,419.6 L509.2,418.3 L510.9,416.9 L512.6,415.4 L514.1,413.8 L515.6,412.1 L517.1,410.3 L518.3,408.2 L519.0,405.0 L519.0,405.0 L516.0,403.8 L513.6,403.7 L511.3,403.8 L509.1,404.0 L506.9,404.3 L504.8,404.7 L502.8,405.2 L500.8,405.8 L498.8,406.4 L496.8,407.1 L494.9,407.8 L493.0,408.7 L491.2,409.5 L489.3,410.5 L487.5,411.5 L485.8,412.6 L484.0,413.8 L482.3,415.0 L480.6,416.4 L478.9,417.8 L477.2,419.3 L475.6,421.0 L474.1,422.9 L473.0,426.0 Z" fill="rgb(165,165,165)" opacity="0.5" filter="url(#b3)"/>
<path d="M420.0,453.0 L422.9,454.9 L425.4,455.5 L427.8,455.9 L430.1,456.1 L432.4,456.2 L434.7,456.2 L436.9,456.1 L439.1,456.0 L441.4,455.7 L443.5,455.4 L445.7,455.0 L447.9,454.5 L450.0,453.9 L452.2,453.3 L454.3,452.5 L456.5,451.7 L458.6,450.8 L460.7,449.8 L462.8,448.8 L464.9,447.6 L467.0,446.3 L469.1,444.8 L471.2,443.0 L473.0,440.0 L473.0,440.0 L470.2,437.8 L467.6,436.9 L465.1,436.3 L462.6,435.9 L460.1,435.7 L457.7,435.5 L455.3,435.5 L452.9,435.6 L450.5,435.8 L448.2,436.1 L445.9,436.5 L443.6,437.0 L441.4,437.6 L439.2,438.3 L437.0,439.1 L434.9,440.0 L432.8,441.0 L430.7,442.2 L428.7,443.4 L426.7,444.7 L424.8,446.2 L423.0,447.9 L421.3,449.8 L420.0,453.0 Z" fill="rgb(140,140,140)" opacity="0.5" filter="url(#b3)"/>
<path d="M374.0,564.0 L377.2,565.5 L379.8,565.9 L382.4,566.1 L384.8,566.1 L387.2,565.9 L389.6,565.8 L391.9,565.5 L394.2,565.2 L396.4,564.8 L398.7,564.3 L400.9,563.7 L403.1,563.1 L405.2,562.5 L407.4,561.7 L409.5,560.9 L411.6,560.0 L413.7,559.0 L415.8,558.0 L417.9,556.9 L420.0,555.6 L422.1,554.3 L424.1,552.8 L426.2,551.0 L428.0,548.0 L428.0,548.0 L425.2,545.8 L422.6,545.0 L420.0,544.4 L417.5,544.0 L414.9,543.8 L412.4,543.8 L410.0,543.8 L407.5,544.0 L405.1,544.3 L402.7,544.7 L400.3,545.2 L397.9,545.9 L395.6,546.6 L393.4,547.5 L391.1,548.4 L388.9,549.5 L386.8,550.7 L384.7,552.0 L382.6,553.4 L380.6,554.9 L378.7,556.6 L376.9,558.5 L375.2,560.6 L374.0,564.0 Z" fill="rgb(140,140,140)" opacity="0.5" filter="url(#b3)"/>
<path d="M453.0,511.0 L451.7,513.9 L451.4,516.5 L451.2,519.1 L451.2,521.6 L451.2,524.1 L451.3,526.6 L451.5,529.1 L451.7,531.6 L452.0,534.0 L452.4,536.5 L452.8,538.9 L453.2,541.3 L453.8,543.7 L454.3,546.1 L455.0,548.4 L455.7,550.8 L456.4,553.1 L457.3,555.5 L458.2,557.8 L459.1,560.1 L460.2,562.4 L461.4,564.7 L462.7,566.9 L465.0,569.0 L465.0,569.0 L466.4,566.3 L467.0,563.7 L467.3,561.1 L467.4,558.6 L467.5,556.0 L467.5,553.5 L467.4,551.0 L467.2,548.5 L467.0,546.1 L466.6,543.6 L466.2,541.1 L465.8,538.7 L465.2,536.3 L464.6,533.9 L463.9,531.5 L463.2,529.1 L462.4,526.7 L461.4,524.4 L460.5,522.0 L459.4,519.7 L458.2,517.4 L456.9,515.2 L455.4,513.0 L453.0,511.0 Z" fill="rgb(165,165,165)" opacity="0.5" filter="url(#b3)"/>
<path d="M581.0,490.0 L579.6,493.1 L579.2,495.9 L579.0,498.6 L578.9,501.3 L579.0,503.9 L579.1,506.4 L579.2,508.9 L579.5,511.4 L579.8,513.9 L580.1,516.3 L580.5,518.7 L581.0,521.1 L581.5,523.4 L582.1,525.7 L582.7,528.0 L583.4,530.3 L584.1,532.6 L584.9,534.9 L585.8,537.1 L586.8,539.3 L587.9,541.5 L589.1,543.7 L590.5,545.9 L593.0,548.0 L593.0,548.0 L595.0,545.4 L595.9,542.9 L596.4,540.4 L596.9,537.9 L597.1,535.4 L597.3,532.9 L597.4,530.4 L597.3,527.9 L597.1,525.4 L596.9,522.9 L596.5,520.4 L596.0,517.9 L595.5,515.5 L594.8,513.0 L594.1,510.6 L593.2,508.1 L592.2,505.7 L591.2,503.3 L590.0,501.0 L588.7,498.6 L587.3,496.3 L585.7,494.0 L583.9,491.9 L581.0,490.0 Z" fill="rgb(165,165,165)" opacity="0.5" filter="url(#b3)"/>
<path d="M391.0,667.0 L393.9,667.0 L395.5,666.6 L396.9,666.0 L398.1,665.4 L399.3,664.7 L400.3,664.0 L401.2,663.3 L402.0,662.5 L402.8,661.7 L403.4,660.9 L404.0,660.0 L404.5,659.0 L405.0,658.0 L405.4,657.0 L405.6,656.0 L405.9,654.9 L406.0,653.7 L406.1,652.5 L406.0,651.2 L405.9,649.9 L405.7,648.5 L405.3,647.0 L404.7,645.3 L403.0,643.0 L403.0,643.0 L400.1,642.7 L398.4,643.0 L396.9,643.5 L395.5,644.1 L394.3,644.8 L393.2,645.5 L392.2,646.3 L391.3,647.1 L390.4,648.0 L389.7,649.0 L389.0,650.0 L388.5,651.0 L388.0,652.0 L387.6,653.1 L387.3,654.3 L387.1,655.5 L387.0,656.7 L387.0,658.0 L387.1,659.3 L387.3,660.6 L387.6,662.0 L388.2,663.4 L389.0,665.0 L391.0,667.0 Z" fill="rgb(150,150,150)" opacity="0.5" filter="url(#b3)"/>
<path d="M29.0,89.0 L32.3,86.2 L35.2,83.2 L37.9,80.2 L40.6,77.3 L43.3,74.4 L46.0,71.5 L48.8,68.7 L51.5,66.0 L54.3,63.2 L57.1,60.5 L60.0,57.7 L62.9,55.0 L65.9,52.3 L68.9,49.5 L72.0,46.8 L75.1,44.0 L78.3,41.2 L81.6,38.4 L85.0,35.6 L88.5,32.7 L92.0,29.8 L95.7,26.8 L99.4,23.7 L103.0,20.0 L103.0,20.0 L97.9,20.6 L93.1,21.8 L88.5,23.3 L84.0,25.0 L79.6,26.9 L75.4,29.0 L71.3,31.2 L67.3,33.5 L63.5,36.1 L59.9,38.7 L56.4,41.5 L53.1,44.5 L49.9,47.6 L47.0,50.8 L44.2,54.1 L41.6,57.6 L39.2,61.2 L37.0,64.8 L35.0,68.6 L33.2,72.5 L31.6,76.4 L30.3,80.4 L29.3,84.6 L29.0,89.0 Z" fill="rgb(95,95,95)" opacity="0.75" filter="url(#b15)"/>
<path d="M100.0,21.0 L100.5,22.0 L101.0,22.7 L101.5,23.2 L102.0,23.8 L102.4,24.3 L102.8,24.7 L103.3,25.2 L103.7,25.6 L104.1,25.9 L104.5,26.3 L105.0,26.6 L105.4,26.9 L105.9,27.2 L106.4,27.5 L107.0,27.8 L107.6,28.1 L108.2,28.3 L108.8,28.6 L109.5,28.9 L110.2,29.1 L111.0,29.4 L111.9,29.7 L112.8,29.9 L114.0,30.0 L114.0,30.0 L114.2,28.8 L114.1,27.8 L113.9,26.8 L113.7,25.9 L113.3,25.1 L112.9,24.3 L112.5,23.5 L112.0,22.8 L111.5,22.2 L110.9,21.6 L110.2,21.0 L109.6,20.6 L108.8,20.1 L108.1,19.8 L107.3,19.5 L106.5,19.3 L105.7,19.2 L104.9,19.1 L104.1,19.2 L103.2,19.3 L102.4,19.5 L101.6,19.8 L100.8,20.2 L100.0,21.0 Z" fill="rgb(130,130,130)" opacity="0.75" filter="url(#b15)"/>
<path d="M250.0,122.0 L253.1,125.2 L256.2,127.3 L259.4,129.2 L262.5,130.8 L265.6,132.4 L268.8,133.8 L271.9,135.1 L275.1,136.3 L278.3,137.4 L281.6,138.4 L284.8,139.2 L288.1,140.0 L291.5,140.7 L294.9,141.3 L298.3,141.7 L301.8,142.1 L305.4,142.4 L309.1,142.5 L312.8,142.6 L316.5,142.6 L320.4,142.4 L324.4,142.1 L328.5,141.6 L333.0,140.0 L333.0,140.0 L330.4,136.0 L327.3,133.0 L324.2,130.5 L321.0,128.1 L317.7,125.9 L314.3,124.0 L310.9,122.2 L307.5,120.6 L304.0,119.2 L300.5,117.9 L296.9,116.9 L293.4,116.0 L289.8,115.3 L286.1,114.8 L282.5,114.5 L278.9,114.4 L275.2,114.4 L271.6,114.7 L268.0,115.2 L264.3,115.8 L260.7,116.7 L257.2,117.8 L253.6,119.3 L250.0,122.0 Z" fill="rgb(120,120,120)" opacity="0.75" filter="url(#b15)"/>
<path d="M275.0,128.0 L277.7,130.1 L280.4,131.6 L283.1,132.9 L285.8,134.2 L288.5,135.3 L291.2,136.3 L293.9,137.3 L296.6,138.2 L299.2,139.0 L301.9,139.7 L304.6,140.4 L307.2,141.0 L309.9,141.6 L312.6,142.0 L315.2,142.4 L317.9,142.8 L320.6,143.0 L323.3,143.2 L326.0,143.3 L328.7,143.4 L331.4,143.4 L334.2,143.2 L337.0,142.9 L340.0,142.0 L340.0,142.0 L338.0,139.6 L335.7,137.8 L333.4,136.3 L331.0,134.8 L328.6,133.5 L326.1,132.3 L323.6,131.1 L321.0,130.1 L318.4,129.2 L315.7,128.3 L313.0,127.6 L310.3,127.0 L307.5,126.4 L304.7,126.0 L301.9,125.6 L299.0,125.4 L296.1,125.2 L293.2,125.2 L290.2,125.2 L287.3,125.4 L284.3,125.7 L281.2,126.1 L278.2,126.7 L275.0,128.0 Z" fill="rgb(85,85,85)" opacity="0.75" filter="url(#b15)"/>
<path d="M320.0,138.0 L321.7,140.5 L323.5,142.2 L325.5,143.7 L327.4,145.0 L329.4,146.1 L331.5,147.2 L333.5,148.1 L335.6,149.0 L337.8,149.7 L339.9,150.2 L342.1,150.7 L344.3,151.1 L346.5,151.3 L348.8,151.4 L351.0,151.4 L353.3,151.3 L355.6,151.1 L357.9,150.8 L360.2,150.3 L362.5,149.7 L364.9,149.0 L367.2,148.1 L369.6,147.0 L372.0,145.0 L372.0,145.0 L369.9,142.7 L367.8,141.2 L365.7,139.9 L363.6,138.8 L361.5,137.8 L359.3,136.9 L357.2,136.1 L355.1,135.3 L353.0,134.7 L350.9,134.2 L348.8,133.8 L346.7,133.4 L344.6,133.2 L342.4,133.0 L340.3,133.0 L338.1,133.0 L336.0,133.2 L333.8,133.4 L331.6,133.8 L329.3,134.2 L327.1,134.7 L324.8,135.4 L322.5,136.3 L320.0,138.0 Z" fill="rgb(85,85,85)" opacity="0.75" filter="url(#b15)"/>
<path d="M436.0,107.0 L433.3,112.6 L430.9,118.3 L428.7,124.1 L426.6,129.9 L424.5,135.6 L422.4,141.4 L420.4,147.2 L418.5,153.1 L416.6,158.9 L414.8,164.7 L413.0,170.6 L411.3,176.5 L409.6,182.3 L408.0,188.2 L406.4,194.1 L404.9,200.0 L403.4,206.0 L401.9,211.9 L400.6,217.9 L399.2,223.8 L398.0,229.8 L396.8,235.8 L395.7,241.8 L395.0,248.0 L395.0,248.0 L397.8,242.5 L400.2,236.8 L402.5,231.2 L404.7,225.5 L406.9,219.7 L408.9,214.0 L411.0,208.2 L412.9,202.4 L414.8,196.6 L416.7,190.8 L418.5,184.9 L420.2,179.0 L421.9,173.2 L423.5,167.3 L425.1,161.3 L426.6,155.4 L428.0,149.4 L429.4,143.4 L430.8,137.4 L432.1,131.4 L433.3,125.4 L434.4,119.3 L435.4,113.2 L436.0,107.0 Z" fill="rgb(135,135,135)" opacity="0.75" filter="url(#b15)"/>
<path d="M374.0,289.0 L380.3,288.7 L386.3,287.8 L392.1,286.6 L397.9,285.4 L403.6,284.0 L409.2,282.6 L414.8,281.1 L420.4,279.5 L425.8,277.9 L431.3,276.2 L436.6,274.5 L442.0,272.6 L447.2,270.7 L452.4,268.8 L457.6,266.7 L462.8,264.6 L467.8,262.5 L472.9,260.2 L477.9,257.9 L482.9,255.5 L487.8,253.0 L492.6,250.4 L497.4,247.6 L502.0,244.0 L502.0,244.0 L496.2,243.5 L490.6,243.8 L485.1,244.3 L479.6,245.0 L474.1,245.9 L468.6,246.9 L463.1,248.1 L457.7,249.4 L452.3,250.8 L446.8,252.3 L441.4,254.0 L436.0,255.9 L430.7,257.8 L425.4,259.9 L420.0,262.1 L414.8,264.5 L409.5,266.9 L404.3,269.5 L399.1,272.3 L393.9,275.1 L388.8,278.2 L383.7,281.4 L378.7,284.8 L374.0,289.0 Z" fill="rgb(95,95,95)" opacity="0.75" filter="url(#b15)"/>
<path d="M436.0,378.0 L438.2,377.3 L440.0,376.4 L441.7,375.5 L443.3,374.5 L444.9,373.5 L446.4,372.5 L447.9,371.5 L449.4,370.4 L450.8,369.4 L452.2,368.4 L453.5,367.3 L454.8,366.2 L456.1,365.1 L457.4,363.9 L458.6,362.8 L459.8,361.6 L461.0,360.3 L462.2,359.1 L463.4,357.8 L464.6,356.4 L465.8,355.0 L466.9,353.6 L468.1,352.0 L469.0,350.0 L469.0,350.0 L466.8,349.7 L464.8,349.9 L462.9,350.2 L461.0,350.7 L459.2,351.3 L457.4,351.9 L455.7,352.7 L454.0,353.5 L452.3,354.5 L450.7,355.5 L449.2,356.6 L447.7,357.8 L446.3,359.1 L444.9,360.4 L443.6,361.8 L442.4,363.3 L441.3,364.9 L440.2,366.5 L439.2,368.2 L438.3,370.0 L437.4,371.8 L436.7,373.7 L436.1,375.7 L436.0,378.0 Z" fill="rgb(140,140,140)" opacity="0.75" filter="url(#b15)"/>
<path d="M482.0,287.0 L484.3,287.4 L486.3,287.3 L488.3,287.0 L490.2,286.7 L492.1,286.4 L493.9,286.0 L495.8,285.5 L497.6,284.9 L499.4,284.3 L501.1,283.7 L502.9,283.0 L504.6,282.2 L506.2,281.4 L507.9,280.6 L509.5,279.6 L511.2,278.6 L512.7,277.6 L514.3,276.5 L515.9,275.3 L517.4,274.1 L518.9,272.8 L520.4,271.5 L521.8,270.0 L523.0,268.0 L523.0,268.0 L520.7,267.5 L518.7,267.5 L516.6,267.7 L514.7,267.9 L512.7,268.2 L510.8,268.6 L508.9,269.1 L507.1,269.6 L505.2,270.2 L503.4,270.8 L501.7,271.5 L499.9,272.3 L498.2,273.1 L496.6,274.0 L494.9,274.9 L493.3,276.0 L491.7,277.0 L490.2,278.2 L488.7,279.4 L487.2,280.7 L485.8,282.0 L484.4,283.4 L483.1,285.0 L482.0,287.0 Z" fill="rgb(105,105,105)" opacity="0.75" filter="url(#b15)"/>
<path d="M469.0,330.0 L471.0,331.9 L472.8,333.0 L474.6,334.0 L476.3,334.8 L478.0,335.5 L479.6,336.2 L481.2,336.8 L482.7,337.3 L484.3,337.7 L485.8,338.1 L487.4,338.4 L488.9,338.6 L490.5,338.7 L492.1,338.8 L493.7,338.8 L495.4,338.8 L497.1,338.6 L498.8,338.5 L500.6,338.2 L502.5,337.9 L504.4,337.5 L506.4,337.0 L508.5,336.4 L511.0,335.0 L511.0,335.0 L510.0,332.3 L508.6,330.5 L507.1,328.8 L505.5,327.4 L503.9,326.1 L502.2,324.9 L500.4,323.9 L498.6,323.0 L496.8,322.3 L494.9,321.7 L493.0,321.2 L491.1,320.9 L489.1,320.8 L487.2,320.7 L485.2,320.9 L483.3,321.2 L481.3,321.6 L479.4,322.2 L477.5,322.9 L475.7,323.8 L473.9,324.9 L472.2,326.1 L470.5,327.6 L469.0,330.0 Z" fill="rgb(85,85,85)" opacity="0.75" filter="url(#b15)"/>
<path d="M484.0,297.0 L483.1,298.6 L482.6,300.0 L482.3,301.5 L482.1,302.9 L481.9,304.2 L481.8,305.6 L481.8,306.9 L481.9,308.2 L482.0,309.5 L482.2,310.7 L482.4,312.0 L482.7,313.2 L483.1,314.4 L483.5,315.6 L484.0,316.8 L484.5,317.9 L485.2,319.0 L485.8,320.1 L486.6,321.2 L487.4,322.2 L488.3,323.2 L489.3,324.2 L490.4,325.2 L492.0,326.0 L492.0,326.0 L492.9,324.5 L493.4,323.1 L493.7,321.7 L493.9,320.4 L494.1,319.1 L494.2,317.8 L494.2,316.5 L494.1,315.2 L494.0,314.0 L493.8,312.7 L493.6,311.5 L493.3,310.3 L492.9,309.1 L492.5,307.9 L492.0,306.7 L491.5,305.6 L490.8,304.4 L490.2,303.3 L489.4,302.2 L488.6,301.1 L487.7,300.0 L486.7,298.9 L485.6,297.9 L484.0,297.0 Z" fill="rgb(100,100,100)" opacity="0.75" filter="url(#b15)"/>
<path d="M506.0,332.0 L506.8,333.4 L507.8,334.4 L508.8,335.3 L509.8,336.1 L510.7,336.9 L511.7,337.6 L512.8,338.3 L513.8,338.9 L514.8,339.5 L515.9,340.1 L516.9,340.6 L518.0,341.1 L519.1,341.5 L520.2,341.9 L521.3,342.2 L522.5,342.5 L523.7,342.8 L524.9,343.0 L526.1,343.2 L527.4,343.3 L528.7,343.4 L530.0,343.5 L531.4,343.4 L533.0,343.0 L533.0,343.0 L532.4,341.4 L531.7,340.2 L530.8,339.2 L529.9,338.2 L529.0,337.3 L528.0,336.4 L527.0,335.6 L525.9,334.8 L524.9,334.1 L523.8,333.5 L522.7,332.9 L521.5,332.4 L520.3,332.0 L519.1,331.6 L517.9,331.3 L516.7,331.1 L515.4,330.9 L514.1,330.7 L512.8,330.7 L511.5,330.7 L510.2,330.8 L508.9,331.0 L507.5,331.3 L506.0,332.0 Z" fill="rgb(110,110,110)" opacity="0.75" filter="url(#b15)"/>
<path d="M482.0,339.0 L478.7,339.2 L475.9,340.0 L473.3,341.0 L470.8,342.1 L468.4,343.4 L466.0,344.7 L463.7,346.1 L461.5,347.6 L459.3,349.1 L457.3,350.8 L455.2,352.6 L453.3,354.4 L451.4,356.3 L449.6,358.3 L447.8,360.4 L446.1,362.6 L444.5,364.9 L443.0,367.2 L441.5,369.7 L440.1,372.2 L438.8,374.8 L437.5,377.6 L436.5,380.5 L436.0,384.0 L436.0,384.0 L439.5,383.5 L442.4,382.5 L445.2,381.3 L447.8,380.0 L450.3,378.6 L452.8,377.2 L455.1,375.6 L457.4,374.1 L459.6,372.4 L461.7,370.7 L463.8,368.9 L465.7,367.1 L467.6,365.2 L469.4,363.2 L471.1,361.2 L472.7,359.1 L474.3,356.9 L475.7,354.7 L477.1,352.4 L478.4,350.0 L479.6,347.6 L480.7,345.0 L481.6,342.3 L482.0,339.0 Z" fill="rgb(150,150,150)" opacity="0.75" filter="url(#b15)"/>
<path d="M0.0,306.0 L2.4,305.6 L4.4,304.9 L6.4,304.0 L8.3,303.0 L10.2,302.0 L12.0,300.8 L13.8,299.6 L15.6,298.4 L17.3,297.0 L18.9,295.6 L20.6,294.2 L22.1,292.6 L23.7,291.0 L25.2,289.4 L26.6,287.7 L28.0,285.9 L29.4,284.1 L30.7,282.2 L32.0,280.2 L33.2,278.2 L34.3,276.1 L35.4,273.9 L36.4,271.6 L37.0,269.0 L37.0,269.0 L34.4,269.9 L32.3,271.0 L30.2,272.3 L28.2,273.6 L26.3,274.9 L24.4,276.2 L22.6,277.6 L20.9,279.0 L19.2,280.4 L17.5,281.9 L15.9,283.4 L14.4,284.9 L12.9,286.4 L11.4,288.0 L10.0,289.6 L8.7,291.2 L7.4,292.9 L6.1,294.6 L4.9,296.3 L3.7,298.0 L2.6,299.9 L1.6,301.7 L0.6,303.7 L0.0,306.0 Z" fill="rgb(135,135,135)" opacity="0.75" filter="url(#b15)"/>
<path d="M37.0,269.0 L39.1,268.6 L40.9,267.8 L42.7,267.0 L44.5,266.2 L46.2,265.2 L47.9,264.3 L49.6,263.3 L51.2,262.3 L52.9,261.2 L54.5,260.1 L56.0,258.9 L57.6,257.7 L59.1,256.5 L60.6,255.2 L62.1,253.9 L63.6,252.6 L65.0,251.2 L66.4,249.8 L67.8,248.3 L69.1,246.8 L70.5,245.3 L71.8,243.7 L73.0,242.0 L74.0,240.0 L74.0,240.0 L71.9,240.5 L69.9,241.3 L68.1,242.2 L66.2,243.1 L64.5,244.1 L62.7,245.1 L61.0,246.1 L59.3,247.2 L57.7,248.3 L56.1,249.4 L54.5,250.6 L52.9,251.8 L51.4,253.0 L49.9,254.2 L48.4,255.5 L47.0,256.8 L45.6,258.2 L44.2,259.6 L42.9,261.0 L41.6,262.5 L40.3,264.0 L39.1,265.5 L37.9,267.1 L37.0,269.0 Z" fill="rgb(150,150,150)" opacity="0.75" filter="url(#b15)"/>
<path d="M631.0,310.0 L633.1,310.3 L634.9,310.2 L636.7,309.9 L638.4,309.6 L640.0,309.3 L641.7,308.8 L643.3,308.3 L644.9,307.8 L646.4,307.2 L647.9,306.5 L649.4,305.8 L650.9,305.1 L652.3,304.3 L653.7,303.4 L655.1,302.5 L656.4,301.5 L657.8,300.5 L659.1,299.4 L660.3,298.2 L661.6,297.0 L662.8,295.8 L664.0,294.4 L665.1,292.9 L666.0,291.0 L666.0,291.0 L663.9,290.6 L662.0,290.6 L660.2,290.8 L658.5,291.0 L656.8,291.3 L655.1,291.7 L653.4,292.2 L651.8,292.7 L650.2,293.3 L648.6,293.9 L647.1,294.6 L645.6,295.4 L644.2,296.2 L642.8,297.1 L641.4,298.1 L640.0,299.1 L638.7,300.2 L637.4,301.3 L636.2,302.5 L635.0,303.8 L633.9,305.1 L632.8,306.5 L631.8,308.0 L631.0,310.0 Z" fill="rgb(115,115,115)" opacity="0.75" filter="url(#b15)"/>
<path d="M540.0,0.0 L540.1,5.6 L540.7,11.0 L541.5,16.3 L542.4,21.5 L543.5,26.7 L544.7,31.7 L546.1,36.7 L547.5,41.5 L549.2,46.3 L550.9,50.9 L552.8,55.4 L554.8,59.9 L557.0,64.2 L559.2,68.4 L561.6,72.5 L564.2,76.5 L566.8,80.3 L569.6,84.0 L572.5,87.6 L575.5,91.0 L578.6,94.3 L581.9,97.4 L585.3,100.4 L589.0,103.0 L589.0,103.0 L586.6,99.2 L584.1,95.5 L581.6,91.8 L579.2,88.2 L576.8,84.4 L574.5,80.6 L572.3,76.8 L570.0,72.9 L567.9,68.9 L565.8,64.9 L563.7,60.8 L561.7,56.6 L559.7,52.4 L557.8,48.1 L555.9,43.6 L554.0,39.2 L552.2,34.6 L550.4,29.9 L548.7,25.2 L547.0,20.3 L545.3,15.4 L543.6,10.3 L541.9,5.2 L540.0,0.0 Z" fill="rgb(150,150,150)" opacity="0.75" filter="url(#b15)"/>
<path d="M341.0,0.0 L341.7,1.7 L342.6,2.8 L343.5,3.9 L344.5,4.8 L345.4,5.7 L346.4,6.5 L347.4,7.2 L348.4,7.8 L349.4,8.4 L350.5,8.9 L351.5,9.4 L352.6,9.7 L353.6,10.0 L354.7,10.3 L355.8,10.4 L356.9,10.5 L358.0,10.6 L359.1,10.5 L360.2,10.4 L361.3,10.2 L362.4,9.9 L363.6,9.5 L364.7,9.0 L366.0,8.0 L366.0,8.0 L365.4,6.5 L364.7,5.4 L364.0,4.5 L363.2,3.7 L362.4,2.9 L361.5,2.2 L360.7,1.6 L359.8,1.0 L358.9,0.5 L357.9,0.0 L356.9,-0.4 L355.9,-0.7 L354.9,-1.0 L353.8,-1.3 L352.7,-1.5 L351.6,-1.6 L350.4,-1.7 L349.2,-1.7 L348.0,-1.7 L346.7,-1.6 L345.4,-1.4 L344.0,-1.2 L342.6,-0.8 L341.0,0.0 Z" fill="rgb(120,120,120)" opacity="0.75" filter="url(#b15)"/>
<path d="M416.0,0.0 L416.4,1.6 L417.0,2.8 L417.7,4.0 L418.4,5.0 L419.2,6.1 L420.0,7.0 L420.8,8.0 L421.7,8.8 L422.6,9.7 L423.5,10.4 L424.4,11.2 L425.4,11.9 L426.4,12.5 L427.5,13.1 L428.6,13.7 L429.7,14.2 L430.8,14.6 L432.0,15.0 L433.2,15.4 L434.4,15.7 L435.7,16.0 L437.0,16.2 L438.4,16.3 L440.0,16.0 L440.0,16.0 L439.6,14.4 L439.0,13.2 L438.3,12.0 L437.6,11.0 L436.8,9.9 L436.0,9.0 L435.2,8.0 L434.3,7.2 L433.4,6.3 L432.5,5.6 L431.6,4.8 L430.6,4.1 L429.6,3.5 L428.5,2.9 L427.4,2.3 L426.3,1.8 L425.2,1.4 L424.0,1.0 L422.8,0.6 L421.6,0.3 L420.3,0.0 L419.0,-0.2 L417.6,-0.3 L416.0,0.0 Z" fill="rgb(130,130,130)" opacity="0.75" filter="url(#b15)"/>
<path d="M260.0,422.0 L262.6,425.1 L265.4,427.6 L268.2,430.0 L271.1,432.2 L273.9,434.5 L276.7,436.6 L279.5,438.8 L282.4,440.8 L285.2,442.9 L288.1,444.9 L290.9,446.8 L293.8,448.8 L296.7,450.6 L299.6,452.5 L302.5,454.3 L305.4,456.1 L308.4,457.9 L311.4,459.6 L314.5,461.3 L317.6,463.0 L320.7,464.7 L323.9,466.3 L327.2,467.9 L331.0,469.0 L331.0,469.0 L329.6,465.3 L327.6,462.1 L325.5,459.1 L323.3,456.2 L320.9,453.4 L318.4,450.8 L315.9,448.2 L313.2,445.7 L310.5,443.3 L307.6,441.0 L304.7,438.8 L301.7,436.7 L298.6,434.8 L295.5,432.9 L292.3,431.2 L289.0,429.6 L285.6,428.1 L282.2,426.7 L278.7,425.5 L275.1,424.4 L271.5,423.4 L267.8,422.6 L264.0,421.9 L260.0,422.0 Z" fill="rgb(100,100,100)" opacity="0.75" filter="url(#b15)"/>
<path d="M97.0,482.0 L97.5,487.7 L98.9,492.8 L100.6,497.7 L102.4,502.6 L104.4,507.3 L106.4,511.9 L108.6,516.5 L110.9,521.0 L113.3,525.5 L115.9,529.9 L118.5,534.2 L121.2,538.5 L124.1,542.8 L127.1,546.9 L130.2,551.0 L133.4,555.1 L136.7,559.1 L140.2,563.1 L143.8,567.0 L147.5,570.8 L151.4,574.6 L155.4,578.4 L159.7,582.0 L165.0,585.0 L165.0,585.0 L164.8,578.9 L163.6,573.4 L162.1,568.1 L160.4,562.9 L158.5,557.8 L156.5,552.8 L154.4,547.9 L152.1,543.1 L149.8,538.4 L147.2,533.8 L144.6,529.4 L141.8,525.0 L138.8,520.7 L135.8,516.5 L132.6,512.5 L129.3,508.5 L125.9,504.7 L122.3,500.9 L118.6,497.3 L114.8,493.8 L110.8,490.5 L106.7,487.3 L102.3,484.3 L97.0,482.0 Z" fill="rgb(150,150,150)" opacity="0.75" filter="url(#b15)"/>
<path d="M99.0,484.0 L100.7,488.3 L102.7,492.4 L104.8,496.5 L106.9,500.5 L109.1,504.5 L111.4,508.5 L113.7,512.5 L116.0,516.5 L118.4,520.5 L120.8,524.5 L123.3,528.5 L125.8,532.5 L128.4,536.5 L131.0,540.5 L133.6,544.4 L136.3,548.4 L139.0,552.4 L141.8,556.4 L144.6,560.4 L147.5,564.4 L150.4,568.3 L153.4,572.3 L156.5,576.2 L160.0,580.0 L160.0,580.0 L158.5,575.1 L156.6,570.5 L154.5,565.9 L152.4,561.4 L150.3,557.0 L148.1,552.6 L145.8,548.3 L143.5,544.0 L141.1,539.8 L138.7,535.7 L136.2,531.5 L133.7,527.5 L131.1,523.5 L128.5,519.6 L125.8,515.7 L123.1,511.9 L120.3,508.2 L117.5,504.5 L114.6,500.8 L111.7,497.3 L108.7,493.8 L105.6,490.4 L102.5,487.0 L99.0,484.0 Z" fill="rgb(120,120,120)" opacity="0.75" filter="url(#b15)"/>
<path d="M196.0,507.0 L192.8,511.8 L190.5,516.8 L188.4,521.8 L186.4,526.9 L184.6,532.0 L182.9,537.1 L181.3,542.2 L179.9,547.3 L178.5,552.4 L177.3,557.6 L176.2,562.8 L175.2,567.9 L174.4,573.1 L173.6,578.3 L173.0,583.6 L172.5,588.8 L172.1,594.0 L171.9,599.3 L171.7,604.5 L171.7,609.8 L171.8,615.0 L172.1,620.3 L172.6,625.6 L174.0,631.0 L174.0,631.0 L176.9,626.2 L178.9,621.3 L180.8,616.4 L182.5,611.5 L184.1,606.5 L185.6,601.5 L187.1,596.5 L188.4,591.4 L189.6,586.4 L190.8,581.3 L191.8,576.2 L192.8,571.1 L193.6,565.9 L194.4,560.7 L195.1,555.5 L195.7,550.3 L196.2,545.0 L196.6,539.7 L196.9,534.4 L197.2,529.0 L197.3,523.6 L197.2,518.2 L197.0,512.7 L196.0,507.0 Z" fill="rgb(100,100,100)" opacity="0.75" filter="url(#b15)"/>
<path d="M41.0,593.0 L42.8,596.1 L44.8,598.2 L46.7,600.1 L48.7,601.8 L50.8,603.4 L52.8,604.9 L54.8,606.3 L56.8,607.5 L58.9,608.7 L60.9,609.8 L63.0,610.8 L65.2,611.6 L67.3,612.4 L69.5,613.1 L71.7,613.7 L74.0,614.2 L76.3,614.6 L78.7,615.0 L81.1,615.2 L83.6,615.4 L86.2,615.4 L88.9,615.4 L91.7,615.1 L95.0,614.0 L95.0,614.0 L94.1,610.6 L92.7,608.1 L91.2,605.8 L89.5,603.7 L87.7,601.7 L85.8,599.9 L83.8,598.2 L81.8,596.7 L79.6,595.3 L77.4,594.0 L75.2,592.9 L72.8,591.9 L70.4,591.0 L68.0,590.3 L65.5,589.8 L63.0,589.4 L60.4,589.1 L57.7,589.0 L55.1,589.0 L52.4,589.3 L49.6,589.6 L46.9,590.2 L44.0,591.1 L41.0,593.0 Z" fill="rgb(105,105,105)" opacity="0.75" filter="url(#b15)"/>
<path d="M0.0,552.0 L2.2,553.1 L4.2,553.6 L6.2,554.0 L8.2,554.2 L10.1,554.4 L12.1,554.5 L14.0,554.6 L15.9,554.5 L17.8,554.4 L19.6,554.3 L21.5,554.0 L23.4,553.8 L25.2,553.4 L27.0,553.0 L28.9,552.5 L30.7,551.9 L32.5,551.3 L34.3,550.5 L36.1,549.8 L37.9,548.9 L39.7,548.0 L41.5,547.0 L43.3,545.8 L45.0,544.0 L45.0,544.0 L42.9,542.7 L40.8,542.1 L38.8,541.6 L36.8,541.2 L34.8,540.9 L32.8,540.7 L30.8,540.6 L28.9,540.6 L26.9,540.6 L25.0,540.7 L23.0,541.0 L21.1,541.2 L19.2,541.6 L17.4,542.1 L15.5,542.6 L13.7,543.3 L11.9,544.0 L10.1,544.7 L8.3,545.6 L6.6,546.6 L4.8,547.6 L3.1,548.8 L1.5,550.1 L0.0,552.0 Z" fill="rgb(150,150,150)" opacity="0.75" filter="url(#b15)"/>
<path d="M281.0,564.0 L280.9,568.0 L281.2,572.0 L281.5,576.0 L281.8,580.0 L282.2,583.9 L282.6,587.9 L283.0,591.9 L283.4,596.0 L283.8,600.0 L284.3,604.0 L284.7,608.1 L285.2,612.2 L285.7,616.3 L286.3,620.4 L286.8,624.6 L287.4,628.8 L287.9,633.0 L288.5,637.2 L289.1,641.4 L289.8,645.7 L290.4,650.0 L291.1,654.3 L291.9,658.6 L293.0,663.0 L293.0,663.0 L293.7,658.6 L294.1,654.1 L294.3,649.7 L294.4,645.4 L294.5,641.0 L294.5,636.7 L294.4,632.4 L294.2,628.1 L294.0,623.9 L293.6,619.7 L293.2,615.5 L292.8,611.3 L292.2,607.2 L291.6,603.0 L290.9,599.0 L290.2,594.9 L289.3,590.9 L288.4,586.9 L287.5,583.0 L286.4,579.1 L285.3,575.2 L284.1,571.4 L282.7,567.7 L281.0,564.0 Z" fill="rgb(150,150,150)" opacity="0.75" filter="url(#b15)"/>
<path d="M285.0,507.0 L287.9,507.4 L290.5,507.2 L292.9,506.8 L295.3,506.4 L297.6,506.0 L299.8,505.5 L302.0,504.9 L304.1,504.3 L306.2,503.6 L308.2,502.9 L310.1,502.1 L312.0,501.3 L313.8,500.4 L315.6,499.5 L317.4,498.5 L319.1,497.5 L320.7,496.3 L322.3,495.2 L323.9,494.0 L325.5,492.7 L327.0,491.3 L328.4,489.8 L329.8,488.2 L331.0,486.0 L331.0,486.0 L328.7,485.0 L326.5,484.6 L324.4,484.4 L322.3,484.4 L320.2,484.5 L318.2,484.7 L316.1,485.0 L314.0,485.4 L312.0,486.0 L310.0,486.6 L308.0,487.4 L306.0,488.2 L304.1,489.1 L302.1,490.2 L300.2,491.4 L298.3,492.6 L296.5,494.0 L294.7,495.4 L292.9,497.0 L291.2,498.6 L289.5,500.4 L287.8,502.3 L286.2,504.3 L285.0,507.0 Z" fill="rgb(150,150,150)" opacity="0.75" filter="url(#b15)"/>
<path d="M333.0,492.0 L335.3,492.6 L337.3,492.6 L339.2,492.5 L341.0,492.3 L342.7,492.0 L344.3,491.7 L346.0,491.4 L347.5,491.0 L349.1,490.5 L350.5,490.0 L352.0,489.4 L353.4,488.7 L354.8,488.0 L356.1,487.3 L357.4,486.4 L358.7,485.5 L360.0,484.6 L361.2,483.5 L362.4,482.4 L363.6,481.3 L364.8,480.0 L365.9,478.7 L367.1,477.1 L368.0,475.0 L368.0,475.0 L365.9,473.9 L364.1,473.4 L362.2,473.1 L360.4,473.0 L358.7,473.0 L356.9,473.1 L355.2,473.3 L353.5,473.6 L351.9,474.0 L350.2,474.5 L348.7,475.1 L347.1,475.8 L345.6,476.6 L344.1,477.4 L342.7,478.4 L341.4,479.5 L340.0,480.6 L338.8,481.9 L337.6,483.2 L336.4,484.7 L335.4,486.2 L334.4,487.8 L333.5,489.6 L333.0,492.0 Z" fill="rgb(150,150,150)" opacity="0.75" filter="url(#b15)"/>
<path d="M440.0,420.0 L441.1,421.4 L442.3,422.4 L443.5,423.3 L444.7,424.1 L446.0,424.8 L447.3,425.4 L448.6,426.0 L449.9,426.6 L451.3,427.0 L452.6,427.4 L454.0,427.8 L455.4,428.1 L456.8,428.3 L458.2,428.5 L459.7,428.6 L461.1,428.6 L462.6,428.6 L464.0,428.5 L465.5,428.3 L467.0,428.1 L468.5,427.8 L469.9,427.4 L471.4,426.9 L473.0,426.0 L473.0,426.0 L471.7,424.7 L470.4,423.9 L469.1,423.1 L467.8,422.4 L466.4,421.8 L465.1,421.3 L463.8,420.8 L462.4,420.3 L461.1,419.9 L459.8,419.5 L458.4,419.2 L457.1,418.9 L455.7,418.7 L454.4,418.5 L453.0,418.4 L451.6,418.3 L450.2,418.3 L448.8,418.3 L447.4,418.4 L446.0,418.5 L444.6,418.7 L443.1,418.9 L441.6,419.2 L440.0,420.0 Z" fill="rgb(150,150,150)" opacity="0.75" filter="url(#b15)"/>
<path d="M473.0,426.0 L475.4,426.4 L477.7,426.3 L479.9,426.1 L482.1,425.8 L484.3,425.4 L486.4,425.0 L488.5,424.5 L490.6,423.9 L492.6,423.2 L494.7,422.5 L496.6,421.7 L498.6,420.9 L500.5,419.9 L502.4,419.0 L504.3,417.9 L506.1,416.8 L507.9,415.6 L509.7,414.4 L511.4,413.1 L513.0,411.7 L514.7,410.2 L516.2,408.7 L517.7,407.1 L519.0,405.0 L519.0,405.0 L516.6,404.9 L514.4,405.2 L512.3,405.7 L510.2,406.1 L508.1,406.7 L506.1,407.3 L504.1,407.9 L502.1,408.5 L500.1,409.2 L498.2,410.0 L496.3,410.8 L494.4,411.6 L492.5,412.5 L490.6,413.4 L488.8,414.4 L487.0,415.4 L485.2,416.5 L483.3,417.6 L481.6,418.8 L479.8,420.0 L478.0,421.3 L476.3,422.6 L474.6,424.1 L473.0,426.0 Z" fill="rgb(145,145,145)" opacity="0.75" filter="url(#b15)"/>
<path d="M420.0,453.0 L422.5,453.6 L424.8,453.7 L427.1,453.7 L429.4,453.7 L431.6,453.5 L433.9,453.3 L436.1,453.1 L438.3,452.8 L440.5,452.5 L442.7,452.1 L444.9,451.6 L447.1,451.1 L449.2,450.5 L451.4,449.9 L453.6,449.2 L455.7,448.5 L457.9,447.7 L460.1,446.9 L462.2,446.0 L464.4,445.1 L466.6,444.1 L468.8,443.0 L470.9,441.7 L473.0,440.0 L473.0,440.0 L470.4,439.1 L468.0,438.8 L465.5,438.5 L463.1,438.4 L460.7,438.4 L458.3,438.5 L455.9,438.6 L453.6,438.8 L451.3,439.1 L449.0,439.5 L446.7,439.9 L444.4,440.4 L442.2,441.0 L440.0,441.7 L437.8,442.4 L435.7,443.2 L433.6,444.1 L431.5,445.0 L429.5,446.1 L427.5,447.2 L425.5,448.4 L423.6,449.6 L421.7,451.1 L420.0,453.0 Z" fill="rgb(120,120,120)" opacity="0.75" filter="url(#b15)"/>
<path d="M374.0,564.0 L376.7,564.3 L379.1,564.2 L381.6,564.0 L383.9,563.7 L386.3,563.3 L388.6,562.9 L390.9,562.5 L393.1,562.0 L395.4,561.5 L397.6,561.0 L399.9,560.4 L402.1,559.8 L404.3,559.1 L406.4,558.4 L408.6,557.6 L410.8,556.8 L413.0,556.0 L415.1,555.1 L417.3,554.1 L419.4,553.1 L421.6,552.1 L423.8,551.0 L425.9,549.7 L428.0,548.0 L428.0,548.0 L425.4,547.1 L422.9,546.8 L420.5,546.6 L418.0,546.5 L415.6,546.6 L413.1,546.7 L410.7,546.9 L408.3,547.2 L405.9,547.6 L403.6,548.0 L401.2,548.6 L398.9,549.2 L396.7,550.0 L394.4,550.8 L392.2,551.6 L390.0,552.6 L387.8,553.7 L385.7,554.8 L383.6,556.0 L381.5,557.3 L379.5,558.7 L377.6,560.2 L375.7,561.9 L374.0,564.0 Z" fill="rgb(120,120,120)" opacity="0.75" filter="url(#b15)"/>
<path d="M453.0,511.0 L452.7,513.6 L452.7,516.2 L452.8,518.7 L453.0,521.2 L453.2,523.7 L453.5,526.2 L453.8,528.6 L454.1,531.1 L454.5,533.5 L454.9,535.9 L455.3,538.4 L455.8,540.8 L456.3,543.2 L456.9,545.6 L457.4,547.9 L458.1,550.3 L458.7,552.7 L459.4,555.1 L460.2,557.4 L461.0,559.8 L461.8,562.1 L462.7,564.4 L463.7,566.7 L465.0,569.0 L465.0,569.0 L465.5,566.4 L465.6,563.9 L465.6,561.4 L465.6,558.9 L465.5,556.4 L465.3,553.9 L465.1,551.5 L464.8,549.0 L464.5,546.6 L464.1,544.1 L463.7,541.7 L463.2,539.2 L462.7,536.8 L462.1,534.4 L461.5,532.0 L460.8,529.6 L460.1,527.2 L459.3,524.8 L458.4,522.5 L457.6,520.1 L456.6,517.8 L455.6,515.5 L454.5,513.2 L453.0,511.0 Z" fill="rgb(150,150,150)" opacity="0.75" filter="url(#b15)"/>
<path d="M581.0,490.0 L580.7,492.8 L580.7,495.5 L580.9,498.1 L581.1,500.7 L581.3,503.2 L581.6,505.8 L581.9,508.3 L582.2,510.8 L582.6,513.2 L583.0,515.6 L583.5,518.1 L583.9,520.4 L584.5,522.8 L585.0,525.2 L585.6,527.5 L586.2,529.8 L586.8,532.1 L587.5,534.4 L588.2,536.7 L589.0,539.0 L589.8,541.3 L590.7,543.5 L591.6,545.8 L593.0,548.0 L593.0,548.0 L593.9,545.5 L594.2,543.1 L594.5,540.7 L594.7,538.2 L594.7,535.8 L594.7,533.3 L594.6,530.8 L594.5,528.4 L594.2,525.9 L593.9,523.5 L593.5,521.0 L593.1,518.6 L592.5,516.1 L591.9,513.7 L591.2,511.2 L590.4,508.8 L589.6,506.4 L588.7,504.0 L587.7,501.6 L586.6,499.2 L585.4,496.8 L584.2,494.5 L582.8,492.2 L581.0,490.0 Z" fill="rgb(145,145,145)" opacity="0.75" filter="url(#b15)"/>
<path d="M391.0,667.0 L392.6,666.5 L393.8,665.8 L394.9,665.1 L395.8,664.4 L396.7,663.6 L397.5,662.8 L398.3,662.0 L399.1,661.1 L399.7,660.2 L400.3,659.3 L400.9,658.4 L401.4,657.5 L401.9,656.5 L402.3,655.5 L402.6,654.4 L403.0,653.3 L403.2,652.2 L403.4,651.1 L403.6,649.9 L403.7,648.6 L403.7,647.4 L403.7,646.1 L403.6,644.7 L403.0,643.0 L403.0,643.0 L401.3,643.3 L400.0,643.9 L398.8,644.6 L397.8,645.4 L396.8,646.1 L395.8,646.9 L395.0,647.8 L394.2,648.7 L393.4,649.6 L392.7,650.5 L392.1,651.5 L391.6,652.5 L391.1,653.6 L390.7,654.7 L390.3,655.8 L390.1,656.9 L389.8,658.0 L389.7,659.2 L389.6,660.4 L389.6,661.6 L389.7,662.9 L389.9,664.2 L390.2,665.5 L391.0,667.0 Z" fill="rgb(130,130,130)" opacity="0.75" filter="url(#b15)"/>
<path d="M29.0,89.0 L31.3,85.6 L33.6,82.3 L35.9,79.0 L38.3,75.8 L40.8,72.6 L43.3,69.5 L45.9,66.5 L48.6,63.5 L51.3,60.5 L54.2,57.6 L57.1,54.8 L60.0,51.9 L63.1,49.1 L66.2,46.4 L69.5,43.6 L72.8,40.9 L76.2,38.2 L79.7,35.6 L83.4,32.9 L87.1,30.3 L90.9,27.8 L94.9,25.2 L98.9,22.6 L103.0,20.0 L103.0,20.0 L98.4,21.6 L93.9,23.4 L89.6,25.3 L85.4,27.4 L81.2,29.5 L77.3,31.8 L73.4,34.2 L69.6,36.6 L66.0,39.2 L62.5,41.9 L59.2,44.7 L56.0,47.6 L52.9,50.6 L50.0,53.6 L47.2,56.8 L44.5,60.1 L42.0,63.4 L39.7,66.8 L37.5,70.4 L35.5,73.9 L33.6,77.6 L31.8,81.3 L30.3,85.1 L29.0,89.0 Z" fill="rgb(57,57,57)" filter="url(#b15)"/>
<path d="M100.0,21.0 L100.6,21.3 L101.2,21.6 L101.8,21.9 L102.4,22.2 L103.0,22.5 L103.5,22.8 L104.1,23.2 L104.6,23.5 L105.2,23.8 L105.7,24.1 L106.3,24.5 L106.8,24.8 L107.4,25.2 L107.9,25.5 L108.5,25.9 L109.0,26.3 L109.6,26.7 L110.2,27.1 L110.8,27.6 L111.4,28.0 L112.0,28.5 L112.7,29.0 L113.3,29.5 L114.0,30.0 L114.0,30.0 L113.7,29.2 L113.3,28.4 L112.9,27.7 L112.5,27.0 L112.0,26.4 L111.5,25.7 L111.0,25.1 L110.5,24.6 L110.0,24.0 L109.4,23.6 L108.8,23.1 L108.2,22.7 L107.6,22.3 L106.9,22.0 L106.3,21.7 L105.6,21.4 L104.9,21.2 L104.2,21.0 L103.5,20.9 L102.8,20.8 L102.1,20.8 L101.4,20.8 L100.7,20.8 L100.0,21.0 Z" fill="rgb(92,92,92)" filter="url(#b15)"/>
<path d="M250.0,122.0 L253.2,123.4 L256.5,124.4 L259.8,125.5 L263.0,126.5 L266.3,127.5 L269.6,128.4 L272.9,129.3 L276.2,130.2 L279.5,131.0 L282.8,131.9 L286.2,132.6 L289.6,133.4 L293.0,134.1 L296.4,134.8 L299.9,135.5 L303.4,136.1 L307.0,136.7 L310.5,137.3 L314.2,137.8 L317.8,138.4 L321.5,138.9 L325.3,139.4 L329.1,139.8 L333.0,140.0 L333.0,140.0 L329.8,137.7 L326.4,135.8 L323.1,134.0 L319.7,132.3 L316.3,130.7 L312.8,129.2 L309.4,127.8 L305.9,126.6 L302.4,125.4 L298.9,124.4 L295.4,123.4 L291.9,122.6 L288.4,121.9 L284.9,121.3 L281.4,120.8 L277.8,120.5 L274.3,120.2 L270.8,120.1 L267.3,120.1 L263.8,120.2 L260.3,120.4 L256.9,120.7 L253.4,121.2 L250.0,122.0 Z" fill="rgb(82,82,82)" filter="url(#b15)"/>
<path d="M275.0,128.0 L277.8,129.0 L280.6,129.9 L283.5,130.7 L286.2,131.5 L289.0,132.2 L291.8,133.0 L294.5,133.7 L297.3,134.4 L300.0,135.1 L302.7,135.7 L305.4,136.3 L308.1,136.9 L310.8,137.5 L313.5,138.0 L316.2,138.5 L318.8,139.0 L321.5,139.5 L324.1,139.9 L326.8,140.4 L329.4,140.8 L332.1,141.1 L334.7,141.5 L337.3,141.8 L340.0,142.0 L340.0,142.0 L337.7,140.7 L335.2,139.6 L332.8,138.5 L330.3,137.5 L327.8,136.5 L325.2,135.6 L322.7,134.7 L320.1,133.9 L317.4,133.1 L314.8,132.4 L312.1,131.7 L309.4,131.1 L306.6,130.5 L303.9,130.0 L301.1,129.6 L298.3,129.2 L295.4,128.8 L292.6,128.5 L289.7,128.3 L286.8,128.1 L283.9,128.0 L281.0,127.9 L278.0,127.8 L275.0,128.0 Z" fill="rgb(47,47,47)" filter="url(#b15)"/>
<path d="M320.0,138.0 L321.9,139.1 L323.9,140.1 L326.0,140.9 L328.0,141.7 L330.1,142.5 L332.1,143.2 L334.2,143.8 L336.4,144.4 L338.5,144.9 L340.6,145.3 L342.8,145.7 L345.0,146.0 L347.2,146.3 L349.4,146.5 L351.6,146.6 L353.8,146.7 L356.1,146.7 L358.3,146.7 L360.6,146.6 L362.9,146.4 L365.1,146.2 L367.4,145.9 L369.7,145.6 L372.0,145.0 L372.0,145.0 L369.8,144.1 L367.6,143.4 L365.4,142.7 L363.3,142.1 L361.1,141.5 L358.9,140.9 L356.8,140.4 L354.6,139.9 L352.5,139.5 L350.3,139.1 L348.2,138.8 L346.0,138.5 L343.9,138.2 L341.7,138.0 L339.6,137.8 L337.4,137.6 L335.3,137.5 L333.1,137.5 L330.9,137.4 L328.8,137.4 L326.6,137.5 L324.4,137.5 L322.2,137.7 L320.0,138.0 Z" fill="rgb(47,47,47)" filter="url(#b15)"/>
<path d="M436.0,107.0 L434.0,112.8 L432.1,118.7 L430.2,124.5 L428.4,130.4 L426.5,136.2 L424.7,142.1 L422.9,147.9 L421.1,153.8 L419.3,159.7 L417.6,165.5 L415.8,171.4 L414.1,177.3 L412.4,183.2 L410.7,189.0 L409.1,194.9 L407.4,200.8 L405.8,206.7 L404.2,212.6 L402.6,218.5 L401.0,224.4 L399.5,230.3 L397.9,236.2 L396.4,242.1 L395.0,248.0 L395.0,248.0 L397.1,242.3 L399.0,236.5 L401.0,230.7 L402.9,224.9 L404.8,219.1 L406.7,213.3 L408.5,207.5 L410.3,201.6 L412.1,195.8 L413.9,190.0 L415.7,184.1 L417.4,178.2 L419.1,172.3 L420.7,166.5 L422.4,160.6 L424.0,154.6 L425.6,148.7 L427.2,142.8 L428.7,136.9 L430.2,130.9 L431.7,124.9 L433.2,119.0 L434.7,113.0 L436.0,107.0 Z" fill="rgb(97,97,97)" filter="url(#b15)"/>
<path d="M374.0,289.0 L379.8,287.5 L385.5,285.8 L391.1,284.0 L396.7,282.3 L402.3,280.5 L407.8,278.8 L413.3,277.0 L418.7,275.2 L424.2,273.4 L429.6,271.6 L434.9,269.7 L440.3,267.9 L445.6,266.0 L450.8,264.1 L456.1,262.2 L461.3,260.2 L466.5,258.3 L471.6,256.3 L476.8,254.3 L481.9,252.3 L487.0,250.3 L492.0,248.3 L497.0,246.2 L502.0,244.0 L502.0,244.0 L496.6,244.8 L491.3,245.8 L485.9,246.9 L480.6,248.2 L475.2,249.4 L469.9,250.8 L464.5,252.2 L459.1,253.8 L453.8,255.4 L448.4,257.0 L443.1,258.8 L437.7,260.6 L432.4,262.6 L427.0,264.6 L421.7,266.6 L416.4,268.8 L411.0,271.0 L405.7,273.4 L400.4,275.7 L395.1,278.2 L389.8,280.7 L384.5,283.4 L379.2,286.1 L374.0,289.0 Z" fill="rgb(57,57,57)" filter="url(#b15)"/>
<path d="M436.0,378.0 L437.5,376.8 L438.9,375.5 L440.3,374.3 L441.7,373.0 L443.1,371.8 L444.5,370.6 L445.8,369.4 L447.2,368.2 L448.6,367.1 L449.9,365.9 L451.3,364.8 L452.6,363.6 L454.0,362.5 L455.3,361.3 L456.7,360.2 L458.0,359.1 L459.4,358.0 L460.7,356.8 L462.1,355.7 L463.5,354.6 L464.8,353.5 L466.2,352.3 L467.6,351.2 L469.0,350.0 L469.0,350.0 L467.2,350.5 L465.5,351.1 L463.8,351.8 L462.2,352.5 L460.5,353.3 L458.9,354.2 L457.3,355.1 L455.8,356.0 L454.2,357.0 L452.8,358.1 L451.3,359.2 L449.9,360.4 L448.5,361.6 L447.1,362.9 L445.8,364.2 L444.6,365.5 L443.3,366.9 L442.1,368.4 L441.0,369.9 L439.9,371.4 L438.8,373.0 L437.8,374.6 L436.9,376.3 L436.0,378.0 Z" fill="rgb(102,102,102)" filter="url(#b15)"/>
<path d="M482.0,287.0 L483.9,286.5 L485.7,286.0 L487.4,285.4 L489.2,284.8 L491.0,284.2 L492.8,283.5 L494.5,282.8 L496.3,282.2 L498.0,281.4 L499.7,280.7 L501.4,280.0 L503.1,279.2 L504.8,278.4 L506.5,277.6 L508.2,276.7 L509.9,275.8 L511.6,274.9 L513.2,274.0 L514.9,273.1 L516.5,272.1 L518.2,271.2 L519.8,270.2 L521.4,269.1 L523.0,268.0 L523.0,268.0 L521.1,268.4 L519.2,268.8 L517.4,269.4 L515.5,269.9 L513.7,270.5 L511.9,271.1 L510.1,271.7 L508.3,272.4 L506.6,273.1 L504.8,273.8 L503.1,274.5 L501.4,275.3 L499.7,276.1 L498.0,277.0 L496.3,277.8 L494.6,278.7 L493.0,279.7 L491.4,280.6 L489.8,281.6 L488.2,282.6 L486.6,283.6 L485.0,284.7 L483.5,285.8 L482.0,287.0 Z" fill="rgb(67,67,67)" filter="url(#b15)"/>
<path d="M469.0,330.0 L470.8,330.5 L472.6,330.9 L474.4,331.2 L476.1,331.5 L477.8,331.8 L479.5,332.1 L481.2,332.4 L482.9,332.6 L484.6,332.9 L486.2,333.1 L487.9,333.3 L489.5,333.5 L491.2,333.7 L492.9,333.9 L494.6,334.1 L496.3,334.2 L498.0,334.4 L499.8,334.5 L501.6,334.6 L503.4,334.7 L505.2,334.9 L507.1,335.0 L509.0,335.1 L511.0,335.0 L511.0,335.0 L509.5,333.6 L507.9,332.5 L506.3,331.5 L504.6,330.5 L502.9,329.7 L501.2,328.9 L499.5,328.2 L497.7,327.6 L495.9,327.0 L494.1,326.6 L492.3,326.2 L490.5,326.0 L488.6,325.8 L486.8,325.7 L484.9,325.7 L483.1,325.8 L481.3,326.0 L479.5,326.3 L477.7,326.7 L475.9,327.1 L474.1,327.7 L472.4,328.3 L470.7,329.0 L469.0,330.0 Z" fill="rgb(47,47,47)" filter="url(#b15)"/>
<path d="M484.0,297.0 L483.9,298.4 L484.0,299.7 L484.0,301.0 L484.2,302.3 L484.3,303.6 L484.4,304.9 L484.6,306.1 L484.8,307.4 L485.1,308.6 L485.3,309.9 L485.6,311.1 L486.0,312.3 L486.3,313.5 L486.7,314.7 L487.1,315.9 L487.5,317.1 L488.0,318.2 L488.4,319.4 L489.0,320.5 L489.5,321.6 L490.1,322.8 L490.6,323.9 L491.3,324.9 L492.0,326.0 L492.0,326.0 L492.1,324.7 L492.0,323.5 L491.9,322.2 L491.8,321.0 L491.7,319.7 L491.6,318.5 L491.4,317.3 L491.2,316.0 L490.9,314.8 L490.7,313.6 L490.4,312.4 L490.0,311.2 L489.7,310.0 L489.3,308.8 L488.9,307.6 L488.5,306.4 L488.0,305.2 L487.6,304.0 L487.0,302.8 L486.5,301.7 L486.0,300.5 L485.4,299.3 L484.7,298.1 L484.0,297.0 Z" fill="rgb(62,62,62)" filter="url(#b15)"/>
<path d="M506.0,332.0 L507.1,332.7 L508.2,333.2 L509.2,333.8 L510.3,334.3 L511.4,334.9 L512.5,335.4 L513.6,335.9 L514.7,336.4 L515.8,336.9 L516.9,337.4 L518.0,337.9 L519.1,338.3 L520.2,338.8 L521.3,339.2 L522.5,339.6 L523.6,340.0 L524.7,340.5 L525.9,340.9 L527.0,341.2 L528.2,341.6 L529.4,342.0 L530.6,342.4 L531.8,342.7 L533.0,343.0 L533.0,343.0 L532.1,342.1 L531.1,341.3 L530.1,340.6 L529.1,339.9 L528.0,339.2 L527.0,338.5 L525.9,337.9 L524.8,337.3 L523.8,336.7 L522.6,336.2 L521.5,335.7 L520.4,335.2 L519.2,334.7 L518.1,334.3 L516.9,333.9 L515.7,333.6 L514.6,333.3 L513.4,333.0 L512.2,332.7 L510.9,332.5 L509.7,332.3 L508.5,332.1 L507.3,332.0 L506.0,332.0 Z" fill="rgb(72,72,72)" filter="url(#b15)"/>
<path d="M482.0,339.0 L479.6,340.2 L477.4,341.6 L475.2,343.0 L473.1,344.5 L471.0,346.0 L468.9,347.6 L466.8,349.2 L464.7,350.9 L462.7,352.6 L460.7,354.4 L458.8,356.2 L456.8,358.0 L454.9,359.9 L453.0,361.9 L451.2,363.9 L449.4,365.9 L447.6,368.0 L445.8,370.1 L444.1,372.3 L442.4,374.5 L440.7,376.8 L439.1,379.1 L437.5,381.5 L436.0,384.0 L436.0,384.0 L438.5,382.5 L440.9,380.9 L443.2,379.3 L445.5,377.6 L447.7,376.0 L449.9,374.2 L452.1,372.5 L454.2,370.8 L456.2,369.0 L458.3,367.2 L460.2,365.3 L462.2,363.5 L464.1,361.6 L465.9,359.7 L467.7,357.7 L469.5,355.8 L471.2,353.8 L472.9,351.8 L474.5,349.7 L476.1,347.7 L477.7,345.6 L479.2,343.5 L480.7,341.3 L482.0,339.0 Z" fill="rgb(132,132,132)" filter="url(#b15)"/>
<path d="M0.0,306.0 L1.8,305.0 L3.5,303.8 L5.2,302.6 L6.9,301.4 L8.5,300.2 L10.2,298.9 L11.8,297.5 L13.4,296.1 L15.0,294.7 L16.6,293.3 L18.2,291.8 L19.8,290.3 L21.3,288.7 L22.8,287.1 L24.3,285.4 L25.8,283.8 L27.3,282.0 L28.7,280.3 L30.2,278.5 L31.6,276.7 L33.0,274.8 L34.4,273.0 L35.7,271.0 L37.0,269.0 L37.0,269.0 L35.1,270.5 L33.3,272.0 L31.5,273.5 L29.8,275.0 L28.1,276.6 L26.4,278.1 L24.7,279.6 L23.1,281.1 L21.5,282.7 L19.9,284.2 L18.3,285.7 L16.7,287.2 L15.2,288.8 L13.7,290.3 L12.2,291.9 L10.8,293.4 L9.4,295.0 L8.0,296.5 L6.6,298.1 L5.2,299.6 L3.8,301.2 L2.5,302.8 L1.2,304.3 L0.0,306.0 Z" fill="rgb(97,97,97)" filter="url(#b15)"/>
<path d="M37.0,269.0 L38.7,268.0 L40.3,267.0 L41.9,266.0 L43.5,264.9 L45.1,263.8 L46.7,262.7 L48.2,261.6 L49.8,260.5 L51.4,259.3 L52.9,258.1 L54.5,257.0 L56.0,255.8 L57.6,254.5 L59.1,253.3 L60.6,252.1 L62.1,250.8 L63.7,249.5 L65.2,248.2 L66.7,246.9 L68.1,245.5 L69.6,244.2 L71.1,242.8 L72.6,241.4 L74.0,240.0 L74.0,240.0 L72.3,241.1 L70.6,242.2 L68.9,243.3 L67.2,244.4 L65.6,245.5 L64.0,246.7 L62.3,247.8 L60.7,249.0 L59.2,250.2 L57.6,251.4 L56.0,252.5 L54.5,253.7 L52.9,255.0 L51.4,256.2 L49.9,257.4 L48.4,258.7 L46.9,259.9 L45.5,261.2 L44.0,262.4 L42.6,263.7 L41.2,265.0 L39.7,266.3 L38.3,267.6 L37.0,269.0 Z" fill="rgb(137,137,137)" filter="url(#b15)"/>
<path d="M631.0,310.0 L632.6,309.5 L634.2,309.0 L635.8,308.4 L637.3,307.8 L638.8,307.1 L640.4,306.5 L641.9,305.8 L643.4,305.1 L644.9,304.4 L646.3,303.7 L647.8,302.9 L649.3,302.1 L650.7,301.3 L652.1,300.5 L653.6,299.7 L655.0,298.8 L656.4,297.9 L657.8,297.0 L659.2,296.1 L660.6,295.1 L662.0,294.1 L663.3,293.1 L664.7,292.1 L666.0,291.0 L666.0,291.0 L664.3,291.4 L662.7,291.9 L661.1,292.4 L659.5,292.9 L657.9,293.5 L656.3,294.1 L654.8,294.8 L653.2,295.4 L651.7,296.1 L650.2,296.9 L648.7,297.6 L647.2,298.4 L645.8,299.2 L644.3,300.0 L642.9,300.9 L641.5,301.8 L640.1,302.7 L638.8,303.7 L637.4,304.6 L636.1,305.6 L634.8,306.7 L633.5,307.7 L632.2,308.8 L631.0,310.0 Z" fill="rgb(77,77,77)" filter="url(#b15)"/>
<path d="M540.0,0.0 L540.8,5.4 L541.8,10.7 L542.8,16.0 L544.0,21.1 L545.3,26.2 L546.6,31.1 L548.1,36.0 L549.7,40.7 L551.4,45.4 L553.2,50.0 L555.1,54.4 L557.1,58.8 L559.2,63.1 L561.4,67.2 L563.7,71.3 L566.1,75.3 L568.7,79.1 L571.3,82.9 L574.0,86.5 L576.8,90.0 L579.7,93.5 L582.7,96.8 L585.8,100.0 L589.0,103.0 L589.0,103.0 L586.1,99.6 L583.3,96.2 L580.6,92.7 L577.9,89.1 L575.4,85.5 L572.9,81.8 L570.4,78.0 L568.1,74.1 L565.8,70.1 L563.6,66.1 L561.5,61.9 L559.4,57.7 L557.4,53.4 L555.5,49.0 L553.6,44.5 L551.8,39.9 L550.1,35.3 L548.5,30.5 L546.9,25.7 L545.4,20.7 L544.0,15.7 L542.6,10.6 L541.3,5.3 L540.0,0.0 Z" fill="rgb(117,117,117)" filter="url(#b15)"/>
<path d="M341.0,0.0 L342.0,0.8 L343.1,1.5 L344.1,2.1 L345.2,2.8 L346.2,3.3 L347.3,3.9 L348.3,4.4 L349.4,4.9 L350.5,5.4 L351.5,5.8 L352.6,6.2 L353.6,6.5 L354.6,6.8 L355.7,7.1 L356.7,7.4 L357.8,7.6 L358.8,7.8 L359.9,7.9 L360.9,8.0 L361.9,8.1 L362.9,8.2 L364.0,8.2 L365.0,8.1 L366.0,8.0 L366.0,8.0 L365.2,7.3 L364.3,6.8 L363.5,6.3 L362.6,5.8 L361.7,5.3 L360.8,4.8 L359.8,4.4 L358.9,4.0 L357.9,3.6 L356.9,3.2 L355.9,2.8 L354.9,2.5 L353.9,2.2 L352.8,1.9 L351.7,1.6 L350.6,1.3 L349.5,1.1 L348.3,0.9 L347.2,0.6 L346.0,0.5 L344.8,0.3 L343.6,0.1 L342.3,0.0 L341.0,0.0 Z" fill="rgb(82,82,82)" filter="url(#b15)"/>
<path d="M416.0,0.0 L416.8,0.9 L417.7,1.8 L418.6,2.7 L419.5,3.5 L420.4,4.3 L421.3,5.1 L422.2,5.8 L423.2,6.6 L424.1,7.3 L425.1,8.0 L426.1,8.7 L427.1,9.4 L428.1,10.1 L429.1,10.7 L430.1,11.3 L431.2,11.9 L432.2,12.5 L433.3,13.1 L434.4,13.6 L435.5,14.1 L436.6,14.7 L437.7,15.1 L438.8,15.6 L440.0,16.0 L440.0,16.0 L439.2,15.1 L438.3,14.2 L437.4,13.3 L436.5,12.5 L435.6,11.7 L434.7,10.9 L433.8,10.2 L432.8,9.4 L431.9,8.7 L430.9,8.0 L429.9,7.3 L428.9,6.6 L427.9,5.9 L426.9,5.3 L425.9,4.7 L424.8,4.1 L423.8,3.5 L422.7,2.9 L421.6,2.4 L420.5,1.9 L419.4,1.3 L418.3,0.9 L417.2,0.4 L416.0,0.0 Z" fill="rgb(92,92,92)" filter="url(#b15)"/>
<path d="M260.0,422.0 L263.1,424.0 L266.2,426.0 L269.2,427.9 L272.3,429.8 L275.3,431.7 L278.4,433.7 L281.3,435.6 L284.3,437.5 L287.3,439.4 L290.2,441.4 L293.2,443.3 L296.1,445.2 L299.0,447.2 L301.9,449.1 L304.8,451.1 L307.7,453.0 L310.6,455.0 L313.5,457.0 L316.4,458.9 L319.3,460.9 L322.2,463.0 L325.1,465.0 L328.0,467.0 L331.0,469.0 L331.0,469.0 L328.8,466.2 L326.4,463.5 L324.0,460.9 L321.5,458.3 L319.0,455.8 L316.3,453.4 L313.7,451.1 L310.9,448.8 L308.1,446.5 L305.3,444.4 L302.4,442.3 L299.4,440.3 L296.4,438.3 L293.3,436.5 L290.2,434.7 L287.0,432.9 L283.8,431.3 L280.5,429.7 L277.2,428.2 L273.9,426.8 L270.5,425.4 L267.0,424.2 L263.6,423.0 L260.0,422.0 Z" fill="rgb(62,62,62)" filter="url(#b15)"/>
<path d="M97.0,482.0 L99.0,486.6 L101.3,491.1 L103.6,495.6 L106.0,500.0 L108.5,504.4 L110.9,508.8 L113.5,513.2 L116.0,517.6 L118.7,521.9 L121.4,526.2 L124.1,530.5 L126.9,534.8 L129.7,539.1 L132.6,543.3 L135.6,547.5 L138.6,551.8 L141.7,556.0 L144.8,560.2 L148.0,564.4 L151.2,568.5 L154.5,572.7 L157.9,576.9 L161.3,581.0 L165.0,585.0 L165.0,585.0 L163.2,579.9 L161.1,574.9 L158.9,570.0 L156.6,565.2 L154.3,560.4 L151.9,555.7 L149.5,551.1 L146.9,546.5 L144.3,541.9 L141.7,537.5 L138.9,533.0 L136.1,528.7 L133.2,524.4 L130.3,520.2 L127.3,516.1 L124.2,512.0 L121.0,508.0 L117.8,504.1 L114.5,500.2 L111.2,496.4 L107.8,492.6 L104.3,489.0 L100.8,485.4 L97.0,482.0 Z" fill="rgb(122,122,122)" filter="url(#b15)"/>
<path d="M99.0,484.0 L101.3,487.9 L103.7,491.7 L106.1,495.6 L108.5,499.4 L110.9,503.3 L113.4,507.2 L115.8,511.1 L118.3,515.1 L120.8,519.0 L123.3,523.0 L125.8,526.9 L128.3,530.9 L130.9,534.9 L133.4,538.9 L136.0,543.0 L138.6,547.0 L141.2,551.1 L143.8,555.2 L146.5,559.3 L149.1,563.4 L151.8,567.5 L154.5,571.7 L157.2,575.8 L160.0,580.0 L160.0,580.0 L157.8,575.5 L155.5,571.1 L153.2,566.7 L150.8,562.4 L148.4,558.1 L146.0,553.8 L143.6,549.6 L141.2,545.4 L138.7,541.3 L136.2,537.2 L133.7,533.1 L131.2,529.1 L128.6,525.1 L126.0,521.2 L123.4,517.3 L120.8,513.4 L118.2,509.6 L115.5,505.8 L112.8,502.0 L110.1,498.3 L107.4,494.7 L104.6,491.1 L101.9,487.5 L99.0,484.0 Z" fill="rgb(82,82,82)" filter="url(#b15)"/>
<path d="M196.0,507.0 L194.2,512.1 L192.6,517.2 L191.1,522.4 L189.6,527.5 L188.2,532.7 L186.9,537.8 L185.6,543.0 L184.4,548.2 L183.3,553.3 L182.2,558.5 L181.2,563.7 L180.2,568.8 L179.3,574.0 L178.5,579.2 L177.8,584.4 L177.1,589.5 L176.5,594.7 L175.9,599.9 L175.4,605.1 L174.9,610.3 L174.6,615.4 L174.2,620.6 L174.0,625.8 L174.0,631.0 L174.0,631.0 L175.5,626.0 L176.8,621.0 L178.1,616.0 L179.3,611.0 L180.5,605.9 L181.6,600.8 L182.7,595.8 L183.8,590.7 L184.9,585.6 L185.9,580.5 L186.8,575.3 L187.8,570.2 L188.7,565.0 L189.5,559.8 L190.3,554.6 L191.1,549.4 L191.9,544.2 L192.6,538.9 L193.3,533.7 L193.9,528.4 L194.6,523.1 L195.1,517.7 L195.7,512.4 L196.0,507.0 Z" fill="rgb(62,62,62)" filter="url(#b15)"/>
<path d="M41.0,593.0 L43.2,594.5 L45.4,595.7 L47.6,596.9 L49.8,598.1 L52.0,599.2 L54.2,600.3 L56.4,601.4 L58.6,602.4 L60.7,603.4 L62.9,604.3 L65.1,605.2 L67.3,606.1 L69.5,606.9 L71.7,607.7 L74.0,608.5 L76.2,609.3 L78.5,610.0 L80.7,610.6 L83.0,611.3 L85.4,611.9 L87.7,612.5 L90.1,613.1 L92.5,613.7 L95.0,614.0 L95.0,614.0 L93.3,612.0 L91.5,610.3 L89.7,608.7 L87.8,607.1 L85.8,605.6 L83.8,604.2 L81.7,602.9 L79.6,601.6 L77.4,600.5 L75.2,599.3 L73.0,598.3 L70.7,597.4 L68.4,596.5 L66.0,595.8 L63.6,595.1 L61.2,594.5 L58.8,594.0 L56.3,593.6 L53.8,593.2 L51.3,592.9 L48.8,592.8 L46.2,592.7 L43.6,592.7 L41.0,593.0 Z" fill="rgb(67,67,67)" filter="url(#b15)"/>
<path d="M0.0,552.0 L1.9,552.1 L3.9,552.0 L5.8,551.9 L7.7,551.8 L9.6,551.7 L11.4,551.5 L13.3,551.3 L15.2,551.1 L17.1,550.9 L19.0,550.6 L20.8,550.3 L22.7,550.0 L24.6,549.7 L26.4,549.3 L28.3,548.9 L30.1,548.5 L32.0,548.0 L33.9,547.5 L35.7,547.0 L37.6,546.5 L39.4,546.0 L41.3,545.4 L43.2,544.7 L45.0,544.0 L45.0,544.0 L43.0,543.8 L41.1,543.7 L39.1,543.6 L37.1,543.6 L35.2,543.6 L33.3,543.7 L31.3,543.8 L29.4,544.0 L27.5,544.2 L25.6,544.4 L23.7,544.7 L21.8,545.0 L19.9,545.3 L18.1,545.7 L16.2,546.2 L14.3,546.7 L12.5,547.2 L10.7,547.7 L8.9,548.3 L7.1,549.0 L5.3,549.6 L3.5,550.3 L1.7,551.1 L0.0,552.0 Z" fill="rgb(117,117,117)" filter="url(#b15)"/>
<path d="M281.0,564.0 L281.6,567.9 L282.2,571.8 L282.8,575.7 L283.4,579.7 L284.0,583.6 L284.5,587.6 L285.1,591.6 L285.7,595.6 L286.2,599.7 L286.7,603.7 L287.2,607.8 L287.7,611.9 L288.2,616.0 L288.7,620.2 L289.2,624.4 L289.6,628.5 L290.1,632.8 L290.5,637.0 L291.0,641.3 L291.4,645.6 L291.8,649.9 L292.2,654.2 L292.6,658.6 L293.0,663.0 L293.0,663.0 L293.1,658.6 L293.0,654.2 L293.0,649.8 L292.8,645.5 L292.7,641.2 L292.5,636.9 L292.2,632.6 L291.9,628.3 L291.6,624.1 L291.2,619.9 L290.7,615.7 L290.3,611.6 L289.7,607.5 L289.2,603.4 L288.6,599.3 L287.9,595.3 L287.2,591.3 L286.5,587.3 L285.7,583.3 L284.8,579.4 L284.0,575.5 L283.0,571.6 L282.1,567.8 L281.0,564.0 Z" fill="rgb(122,122,122)" filter="url(#b15)"/>
<path d="M285.0,507.0 L287.4,506.4 L289.6,505.6 L291.8,504.8 L294.0,504.0 L296.2,503.2 L298.3,502.4 L300.4,501.6 L302.4,500.8 L304.4,500.0 L306.4,499.2 L308.3,498.3 L310.2,497.5 L312.1,496.6 L314.0,495.7 L315.8,494.8 L317.6,493.9 L319.3,493.0 L321.1,492.0 L322.8,491.1 L324.5,490.1 L326.2,489.2 L327.8,488.2 L329.4,487.1 L331.0,486.0 L331.0,486.0 L329.1,486.0 L327.1,486.3 L325.2,486.6 L323.3,486.9 L321.4,487.4 L319.4,487.8 L317.5,488.4 L315.5,489.0 L313.6,489.7 L311.6,490.4 L309.7,491.2 L307.8,492.0 L305.8,493.0 L303.9,493.9 L302.0,495.0 L300.0,496.1 L298.1,497.2 L296.2,498.4 L294.3,499.7 L292.4,501.0 L290.5,502.4 L288.7,503.8 L286.8,505.3 L285.0,507.0 Z" fill="rgb(122,122,122)" filter="url(#b15)"/>
<path d="M333.0,492.0 L334.7,491.6 L336.4,491.1 L338.0,490.5 L339.6,489.9 L341.1,489.4 L342.7,488.8 L344.2,488.2 L345.7,487.6 L347.2,486.9 L348.7,486.3 L350.1,485.6 L351.5,484.9 L353.0,484.2 L354.4,483.5 L355.8,482.8 L357.2,482.0 L358.5,481.2 L359.9,480.4 L361.3,479.6 L362.6,478.7 L364.0,477.9 L365.3,477.0 L366.7,476.1 L368.0,475.0 L368.0,475.0 L366.3,475.0 L364.7,475.1 L363.0,475.3 L361.4,475.5 L359.8,475.9 L358.2,476.2 L356.6,476.6 L355.1,477.1 L353.5,477.7 L352.0,478.2 L350.4,478.9 L349.0,479.6 L347.5,480.3 L346.0,481.1 L344.6,482.0 L343.2,482.9 L341.8,483.8 L340.5,484.8 L339.1,485.9 L337.8,487.0 L336.6,488.1 L335.3,489.3 L334.1,490.6 L333.0,492.0 Z" fill="rgb(117,117,117)" filter="url(#b15)"/>
<path d="M440.0,420.0 L441.3,420.7 L442.5,421.2 L443.8,421.7 L445.1,422.2 L446.5,422.7 L447.8,423.1 L449.1,423.5 L450.5,423.9 L451.8,424.3 L453.2,424.6 L454.6,424.9 L455.9,425.2 L457.3,425.4 L458.7,425.6 L460.1,425.8 L461.5,425.9 L463.0,426.1 L464.4,426.1 L465.8,426.2 L467.2,426.2 L468.7,426.3 L470.1,426.2 L471.5,426.2 L473.0,426.0 L473.0,426.0 L471.6,425.5 L470.2,425.1 L468.9,424.7 L467.5,424.3 L466.1,423.9 L464.8,423.6 L463.4,423.3 L462.0,422.9 L460.7,422.6 L459.3,422.4 L457.9,422.1 L456.6,421.8 L455.2,421.6 L453.8,421.4 L452.5,421.2 L451.1,421.0 L449.7,420.8 L448.3,420.6 L447.0,420.5 L445.6,420.3 L444.2,420.2 L442.8,420.1 L441.4,420.0 L440.0,420.0 Z" fill="rgb(112,112,112)" filter="url(#b15)"/>
<path d="M473.0,426.0 L475.1,425.6 L477.2,425.1 L479.3,424.5 L481.4,423.9 L483.4,423.3 L485.4,422.7 L487.4,422.0 L489.4,421.2 L491.4,420.5 L493.4,419.7 L495.4,418.9 L497.3,418.0 L499.2,417.1 L501.1,416.2 L503.0,415.2 L504.9,414.2 L506.7,413.2 L508.5,412.1 L510.3,411.0 L512.1,409.9 L513.9,408.7 L515.6,407.6 L517.3,406.3 L519.0,405.0 L519.0,405.0 L517.0,405.7 L515.0,406.4 L513.1,407.2 L511.1,407.9 L509.2,408.7 L507.2,409.5 L505.3,410.3 L503.4,411.1 L501.4,412.0 L499.5,412.8 L497.6,413.6 L495.7,414.5 L493.8,415.4 L491.9,416.3 L490.0,417.2 L488.1,418.1 L486.2,419.0 L484.3,420.0 L482.4,420.9 L480.5,421.9 L478.6,422.9 L476.8,423.9 L474.9,424.9 L473.0,426.0 Z" fill="rgb(107,107,107)" filter="url(#b15)"/>
<path d="M420.0,453.0 L422.2,452.7 L424.4,452.4 L426.6,452.0 L428.8,451.6 L430.9,451.2 L433.1,450.7 L435.3,450.3 L437.5,449.8 L439.7,449.4 L441.9,448.9 L444.1,448.3 L446.3,447.8 L448.5,447.3 L450.7,446.7 L452.9,446.1 L455.1,445.5 L457.3,444.9 L459.5,444.3 L461.8,443.6 L464.0,442.9 L466.2,442.3 L468.5,441.6 L470.7,440.8 L473.0,440.0 L473.0,440.0 L470.6,440.0 L468.2,440.1 L465.9,440.3 L463.5,440.6 L461.2,440.8 L458.9,441.1 L456.5,441.4 L454.3,441.8 L452.0,442.2 L449.7,442.7 L447.5,443.2 L445.2,443.7 L443.0,444.3 L440.8,444.9 L438.7,445.5 L436.5,446.2 L434.4,446.9 L432.3,447.6 L430.2,448.4 L428.1,449.2 L426.0,450.1 L424.0,451.0 L422.0,451.9 L420.0,453.0 Z" fill="rgb(82,82,82)" filter="url(#b15)"/>
<path d="M374.0,564.0 L376.3,563.5 L378.6,562.9 L380.9,562.3 L383.2,561.6 L385.4,561.0 L387.7,560.4 L389.9,559.8 L392.2,559.1 L394.4,558.5 L396.6,557.8 L398.9,557.2 L401.1,556.5 L403.3,555.9 L405.6,555.2 L407.8,554.5 L410.0,553.8 L412.3,553.1 L414.5,552.4 L416.7,551.7 L419.0,551.0 L421.2,550.3 L423.5,549.6 L425.7,548.8 L428.0,548.0 L428.0,548.0 L425.6,548.0 L423.2,548.2 L420.8,548.4 L418.5,548.6 L416.1,549.0 L413.8,549.3 L411.4,549.7 L409.1,550.2 L406.8,550.7 L404.5,551.2 L402.2,551.8 L399.9,552.5 L397.6,553.2 L395.4,553.9 L393.2,554.7 L390.9,555.5 L388.8,556.4 L386.6,557.4 L384.4,558.3 L382.3,559.4 L380.2,560.4 L378.1,561.5 L376.0,562.7 L374.0,564.0 Z" fill="rgb(82,82,82)" filter="url(#b15)"/>
<path d="M453.0,511.0 L453.3,513.5 L453.7,515.9 L454.1,518.4 L454.6,520.8 L455.0,523.3 L455.4,525.7 L455.9,528.1 L456.3,530.6 L456.8,533.0 L457.3,535.4 L457.8,537.8 L458.3,540.3 L458.8,542.7 L459.3,545.1 L459.8,547.5 L460.3,549.9 L460.9,552.3 L461.4,554.7 L462.0,557.1 L462.6,559.5 L463.1,561.9 L463.7,564.2 L464.3,566.6 L465.0,569.0 L465.0,569.0 L464.8,566.5 L464.6,564.1 L464.3,561.6 L464.0,559.2 L463.7,556.8 L463.3,554.3 L463.0,551.9 L462.6,549.4 L462.1,547.0 L461.7,544.6 L461.2,542.2 L460.7,539.7 L460.2,537.3 L459.7,534.9 L459.1,532.5 L458.6,530.1 L457.9,527.7 L457.3,525.3 L456.7,522.9 L456.0,520.5 L455.3,518.1 L454.6,515.7 L453.8,513.4 L453.0,511.0 Z" fill="rgb(117,117,117)" filter="url(#b15)"/>
<path d="M581.0,490.0 L581.4,492.6 L581.9,495.1 L582.4,497.7 L582.9,500.2 L583.4,502.7 L583.9,505.2 L584.4,507.7 L584.9,510.1 L585.4,512.6 L585.8,515.0 L586.3,517.4 L586.8,519.8 L587.3,522.2 L587.8,524.6 L588.3,527.0 L588.8,529.4 L589.3,531.7 L589.9,534.1 L590.4,536.4 L590.9,538.7 L591.4,541.1 L591.9,543.4 L592.4,545.7 L593.0,548.0 L593.0,548.0 L593.1,545.6 L593.0,543.2 L592.9,540.9 L592.8,538.5 L592.6,536.1 L592.4,533.7 L592.1,531.3 L591.8,528.9 L591.5,526.4 L591.1,524.0 L590.6,521.6 L590.2,519.2 L589.6,516.7 L589.1,514.3 L588.5,511.9 L587.8,509.4 L587.1,507.0 L586.4,504.6 L585.6,502.1 L584.8,499.7 L583.9,497.3 L583.0,494.8 L582.1,492.4 L581.0,490.0 Z" fill="rgb(107,107,107)" filter="url(#b15)"/>
<path d="M391.0,667.0 L391.8,666.2 L392.5,665.3 L393.2,664.4 L393.8,663.5 L394.5,662.6 L395.1,661.7 L395.7,660.7 L396.3,659.8 L396.8,658.9 L397.4,657.9 L397.9,656.9 L398.4,656.0 L398.9,655.0 L399.4,653.9 L399.8,652.9 L400.2,651.9 L400.6,650.8 L401.0,649.8 L401.4,648.7 L401.8,647.6 L402.1,646.5 L402.5,645.4 L402.8,644.2 L403.0,643.0 L403.0,643.0 L402.1,643.8 L401.2,644.6 L400.4,645.5 L399.7,646.4 L398.9,647.3 L398.2,648.2 L397.5,649.2 L396.9,650.1 L396.3,651.1 L395.7,652.1 L395.1,653.0 L394.6,654.0 L394.1,655.1 L393.7,656.1 L393.2,657.1 L392.8,658.2 L392.5,659.3 L392.2,660.3 L391.9,661.4 L391.6,662.5 L391.4,663.6 L391.2,664.7 L391.0,665.8 L391.0,667.0 Z" fill="rgb(92,92,92)" filter="url(#b15)"/>
</g>
<rect x="540" y="626.1" width="28" height="3.6" fill="rgb(178,178,178)"/>
<rect x="596" y="626.1" width="28" height="3.6" fill="rgb(178,178,178)"/>
<rect x="511" y="626.3" width="29" height="3.4" fill="#111" rx="1.5"/>
<rect x="568" y="626.3" width="28" height="3.4" fill="#111" rx="1.5"/>
<rect x="624" y="626.3" width="30" height="3.4" fill="#111" rx="1.5"/>
<text x="543.5" y="652.8" style="font-family:'Liberation Sans',sans-serif;font-weight:bold;fill:#f6f6f6;stroke:#505050;stroke-width:1.3px;paint-order:stroke" font-size="24" textLength="36" lengthAdjust="spacingAndGlyphs">200</text>
<text x="588.5" y="652.5" style="font-family:'Liberation Sans',sans-serif;font-weight:bold;fill:#bdbdbd;stroke:#5a5a5a;stroke-width:1.2px;paint-order:stroke" font-size="18" textLength="33" lengthAdjust="spacingAndGlyphs">nm</text>
</g></g>
<path d="M893.7,48.5H1673.3M893.7,694.5H1673.3" fill="none" stroke="#000" stroke-width="2.5"/>
<path d="M894.5,48.5V694.5M1672.5,48.5V694.5" fill="none" stroke="#222" stroke-width="1.7"/>
<path d="M894.5,655.6h4.5M1672.5,655.6h-4.5M894.5,632.9h4.5M1672.5,632.9h-4.5M894.5,616.7h4.5M1672.5,616.7h-4.5M894.5,604.2h4.5M1672.5,604.2h-4.5M894.5,594.0h4.5M1672.5,594.0h-4.5M894.5,585.3h4.5M1672.5,585.3h-4.5M894.5,577.8h4.5M1672.5,577.8h-4.5M894.5,571.2h4.5M1672.5,571.2h-4.5M894.5,565.3h8M1672.5,565.3h-8M894.5,526.4h4.5M1672.5,526.4h-4.5M894.5,503.7h4.5M1672.5,503.7h-4.5M894.5,487.5h4.5M1672.5,487.5h-4.5M894.5,475.0h4.5M1672.5,475.0h-4.5M894.5,464.8h4.5M1672.5,464.8h-4.5M894.5,456.1h4.5M1672.5,456.1h-4.5M894.5,448.6h4.5M1672.5,448.6h-4.5M894.5,442.0h4.5M1672.5,442.0h-4.5M894.5,436.1h8M1672.5,436.1h-8M894.5,397.2h4.5M1672.5,397.2h-4.5M894.5,374.5h4.5M1672.5,374.5h-4.5M894.5,358.3h4.5M1672.5,358.3h-4.5M894.5,345.8h4.5M1672.5,345.8h-4.5M894.5,335.6h4.5M1672.5,335.6h-4.5M894.5,326.9h4.5M1672.5,326.9h-4.5M894.5,319.4h4.5M1672.5,319.4h-4.5M894.5,312.8h4.5M1672.5,312.8h-4.5M894.5,306.9h8M1672.5,306.9h-8M894.5,268.0h4.5M1672.5,268.0h-4.5M894.5,245.3h4.5M1672.5,245.3h-4.5M894.5,229.1h4.5M1672.5,229.1h-4.5M894.5,216.6h4.5M1672.5,216.6h-4.5M894.5,206.4h4.5M1672.5,206.4h-4.5M894.5,197.7h4.5M1672.5,197.7h-4.5M894.5,190.2h4.5M1672.5,190.2h-4.5M894.5,183.6h4.5M1672.5,183.6h-4.5M894.5,177.7h8M1672.5,177.7h-8M894.5,138.8h4.5M1672.5,138.8h-4.5M894.5,116.1h4.5M1672.5,116.1h-4.5M894.5,99.9h4.5M1672.5,99.9h-4.5M894.5,87.4h4.5M1672.5,87.4h-4.5M894.5,77.2h4.5M1672.5,77.2h-4.5M894.5,68.5h4.5M1672.5,68.5h-4.5M894.5,61.0h4.5M1672.5,61.0h-4.5M894.5,54.4h4.5M1672.5,54.4h-4.5M1155.7,694.5v-8M1155.7,48.5v8M1413.9,694.5v-8M1413.9,48.5v8" stroke="#333" stroke-width="1.6" fill="none"/>
<text x="830.5" y="708.5" font-size="42" letter-spacing="-1.3" >10</text>
<text x="868.1" y="684.5" font-size="26.5" >0</text>
<text x="830.5" y="579.3" font-size="42" letter-spacing="-1.3" >10</text>
<text x="868.1" y="555.3" font-size="26.5" >1</text>
<text x="830.5" y="450.1" font-size="42" letter-spacing="-1.3" >10</text>
<text x="868.1" y="426.1" font-size="26.5" >2</text>
<text x="830.5" y="320.9" font-size="42" letter-spacing="-1.3" >10</text>
<text x="868.1" y="296.9" font-size="26.5" >3</text>
<text x="830.5" y="191.7" font-size="42" letter-spacing="-1.3" >10</text>
<text x="868.1" y="167.7" font-size="26.5" >4</text>
<text x="830.5" y="62.5" font-size="42" letter-spacing="-1.3" >10</text>
<text x="868.1" y="38.5" font-size="26.5" >5</text>
<text x="864.8" y="753.3" font-size="42" letter-spacing="-1.3" >10</text>
<text x="903.0" y="729.3" font-size="26.5" >-2</text>
<text x="1128.8" y="753.3" font-size="42" letter-spacing="-1.3" >10</text>
<text x="1167.0" y="729.3" font-size="26.5" >0</text>
<text x="1388.8" y="753.3" font-size="42" letter-spacing="-1.3" >10</text>
<text x="1427.0" y="729.3" font-size="26.5" >2</text>
<text x="1647.2" y="753.3" font-size="42" letter-spacing="-1.3" >10</text>
<text x="1685.4" y="729.3" font-size="26.5" >4</text>
<text x="1198.7" y="812" font-size="41">ω</text>
<text x="1236.4" y="812" font-size="41">&amp;</text>
<text x="1277.7" y="812" font-size="41">γ</text>
<text x="1314.4" y="812" font-size="41">(</text>
<text x="1327.6" y="812" font-size="41">s</text>
<text x="1371.2" y="812" font-size="41">)</text>
<circle cx="1285.6" cy="783.3" r="2.4" fill="#111"/>
<text x="1344.8" y="792.3" font-size="30">-</text>
<text x="1356.9" y="792.3" font-size="30">1</text>
<text transform="translate(820,506.5) rotate(-90)" x="0" y="0" font-size="41">η</text>
<text transform="translate(820,473.3) rotate(-90)" x="0" y="0" font-size="41">&amp;</text>
<text transform="translate(820,405.5) rotate(-90)" x="0" y="0" font-size="41">η</text>
<text transform="translate(798.8,381.9) rotate(-90)" x="0" y="0" font-size="29">*</text>
<path d="M780,419.4H826M780,354.1H826" stroke="#333" stroke-width="2"/>
<text transform="translate(820,331.9) rotate(-90)" x="0" y="0" font-size="41">(pa.s)</text>
<path d="M1018.4,124.0a14.4,14.4 0 1,0 -28.8,0a14.4,14.4 0 1,0 28.8,0M1023.0,125.9a14.4,14.4 0 1,0 -28.8,0a14.4,14.4 0 1,0 28.8,0M1027.7,127.8a14.4,14.4 0 1,0 -28.8,0a14.4,14.4 0 1,0 28.8,0M1032.4,129.8a14.4,14.4 0 1,0 -28.8,0a14.4,14.4 0 1,0 28.8,0M1037.0,131.7a14.4,14.4 0 1,0 -28.8,0a14.4,14.4 0 1,0 28.8,0M1041.2,133.4a14.4,14.4 0 1,0 -28.8,0a14.4,14.4 0 1,0 28.8,0M1044.9,135.0a14.4,14.4 0 1,0 -28.8,0a14.4,14.4 0 1,0 28.8,0M1048.6,136.5a14.4,14.4 0 1,0 -28.8,0a14.4,14.4 0 1,0 28.8,0M1051.9,137.9a14.4,14.4 0 1,0 -28.8,0a14.4,14.4 0 1,0 28.8,0M1055.1,139.2a14.4,14.4 0 1,0 -28.8,0a14.4,14.4 0 1,0 28.8,0M1058.4,140.6a14.4,14.4 0 1,0 -28.8,0a14.4,14.4 0 1,0 28.8,0M1061.6,141.9a14.4,14.4 0 1,0 -28.8,0a14.4,14.4 0 1,0 28.8,0M1064.9,143.2a14.4,14.4 0 1,0 -28.8,0a14.4,14.4 0 1,0 28.8,0M1068.2,144.6a14.4,14.4 0 1,0 -28.8,0a14.4,14.4 0 1,0 28.8,0M1071.4,145.9a14.4,14.4 0 1,0 -28.8,0a14.4,14.4 0 1,0 28.8,0M1074.7,147.3a14.4,14.4 0 1,0 -28.8,0a14.4,14.4 0 1,0 28.8,0M1077.9,148.6a14.4,14.4 0 1,0 -28.8,0a14.4,14.4 0 1,0 28.8,0M1081.6,150.2a14.4,14.4 0 1,0 -28.8,0a14.4,14.4 0 1,0 28.8,0M1085.4,151.7a14.4,14.4 0 1,0 -28.8,0a14.4,14.4 0 1,0 28.8,0M1089.1,153.3a14.4,14.4 0 1,0 -28.8,0a14.4,14.4 0 1,0 28.8,0M1092.8,154.8a14.4,14.4 0 1,0 -28.8,0a14.4,14.4 0 1,0 28.8,0M1096.5,156.3a14.4,14.4 0 1,0 -28.8,0a14.4,14.4 0 1,0 28.8,0M1100.2,157.9a14.4,14.4 0 1,0 -28.8,0a14.4,14.4 0 1,0 28.8,0M1104.0,159.4a14.4,14.4 0 1,0 -28.8,0a14.4,14.4 0 1,0 28.8,0M1107.7,161.0a14.4,14.4 0 1,0 -28.8,0a14.4,14.4 0 1,0 28.8,0M1111.4,162.5a14.4,14.4 0 1,0 -28.8,0a14.4,14.4 0 1,0 28.8,0" fill="none" stroke="#000" stroke-width="3.3"/>
<path d="M982.4,93.4h26.8M995.8,80.0v26.8M999.0,100.3h26.8M1012.4,86.9v26.8M1015.6,103.8h26.8M1029.0,90.4v26.8M1032.2,109.0h26.8M1045.6,95.6v26.8M1048.8,112.0h26.8M1062.2,98.6v26.8M1065.4,116.4h26.8M1078.8,103.0v26.8M1082.0,118.7h26.8M1095.4,105.3v26.8M1098.6,122.0h26.8M1112.0,108.6v26.8M1115.2,125.4h26.8M1128.6,112.0v26.8M1131.8,131.0h26.8M1145.2,117.6v26.8M1148.4,134.7h26.8M1161.8,121.3v26.8M1165.0,138.8h26.8M1178.4,125.4v26.8M1181.6,142.9h26.8M1195.0,129.5v26.8M1198.2,148.0h26.8M1211.6,134.6v26.8M1214.8,153.0h26.8M1228.2,139.6v26.8M1231.4,160.4h26.8M1244.8,147.0v26.8M1248.0,167.0h26.8M1261.4,153.6v26.8M1264.6,174.2h26.8M1278.0,160.8v26.8M1281.2,182.0h26.8M1294.6,168.6v26.8M1297.8,190.2h26.8M1311.2,176.8v26.8M1314.4,199.1h26.8M1327.8,185.7v26.8M1331.0,208.0h26.8M1344.4,194.6v26.8M1347.6,217.8h26.8M1361.0,204.4v26.8M1364.2,228.4h26.8M1377.6,215.0v26.8M1380.8,238.5h26.8M1394.2,225.1v26.8M1397.4,249.8h26.8M1410.8,236.4v26.8M1413.8,260.9h26.8M1427.2,247.5v26.8M1430.2,272.8h26.8M1443.6,259.4v26.8M1447.3,284.0h26.8M1460.7,270.6v26.8M1464.4,295.9h26.8M1477.8,282.5v26.8M1480.8,307.8h26.8M1494.2,294.4v26.8M1491.6,315.5h26.8M1505.0,302.1v26.8M1497.1,320.0h26.8M1510.5,306.6v26.8M1503.8,324.2h26.8M1517.2,310.8v26.8" fill="none" stroke="#000" stroke-width="4.6"/>
<circle cx="1475.7" cy="365.5" r="9.3" fill="#000"/>
<circle cx="1493" cy="371.3" r="9.3" fill="#000"/>
<circle cx="1514.6" cy="380.4" r="9.3" fill="#000"/>
<circle cx="1558.3" cy="406.8" r="9.3" fill="#000"/>
<circle cx="1577.4" cy="417.8" r="9.3" fill="#000"/>
<circle cx="1608.2" cy="440.1" r="9.3" fill="#000"/>
<circle cx="1629.2" cy="455.1" r="9.3" fill="#000"/>
<circle cx="990.8" cy="485.7" r="14.4" fill="none" stroke="#000" stroke-width="3.0"/>
<path d="M976.5,542h28M990.5,529v26" stroke="#000" stroke-width="5"/>
<circle cx="990.7" cy="596.4" r="10.3" fill="#000"/>
<text x="1062" y="499" font-size="40.4">Cone and Plate Rotation Mode</text>
<text x="1062" y="555" font-size="40.4">Parallel Plate Oscillation Mode</text>
<text x="1062" y="611" font-size="40.4">Capillary Rheometry</text>
<path d="M1843.7,45.5H2603.3M1843.7,712.5H2603.3" fill="none" stroke="#000" stroke-width="2.5"/>
<path d="M1844.5,45.5V712.5M2602.5,45.5V712.5" fill="none" stroke="#111" stroke-width="2.1"/>
<path d="M1844.5,645.6h4.5M2602.5,645.6h-4.5M1844.5,606.4h4.5M2602.5,606.4h-4.5M1844.5,578.6h4.5M2602.5,578.6h-4.5M1844.5,557.1h4.5M2602.5,557.1h-4.5M1844.5,539.5h4.5M2602.5,539.5h-4.5M1844.5,524.6h4.5M2602.5,524.6h-4.5M1844.5,511.7h4.5M2602.5,511.7h-4.5M1844.5,500.3h4.5M2602.5,500.3h-4.5M1844.5,490.2h8M2602.5,490.2h-8M1844.5,423.2h4.5M2602.5,423.2h-4.5M1844.5,384.1h4.5M2602.5,384.1h-4.5M1844.5,356.3h4.5M2602.5,356.3h-4.5M1844.5,334.8h4.5M2602.5,334.8h-4.5M1844.5,317.2h4.5M2602.5,317.2h-4.5M1844.5,302.3h4.5M2602.5,302.3h-4.5M1844.5,289.4h4.5M2602.5,289.4h-4.5M1844.5,278.0h4.5M2602.5,278.0h-4.5M1844.5,267.8h8M2602.5,267.8h-8M1844.5,200.9h4.5M2602.5,200.9h-4.5M1844.5,161.8h4.5M2602.5,161.8h-4.5M1844.5,134.0h4.5M2602.5,134.0h-4.5M1844.5,112.4h4.5M2602.5,112.4h-4.5M1844.5,94.8h4.5M2602.5,94.8h-4.5M1844.5,79.9h4.5M2602.5,79.9h-4.5M1844.5,67.0h4.5M2602.5,67.0h-4.5M1844.5,55.7h4.5M2602.5,55.7h-4.5M1996.1,712.5v-7M1996.1,45.5v7M2147.6,712.5v-7M2147.6,45.5v7M2299.2,712.5v-7M2299.2,45.5v7M2450.7,712.5v-7M2450.7,45.5v7" stroke="#333" stroke-width="1.5" fill="none"/>
<text x="1776.1" y="727.5" font-size="43" letter-spacing="-1.3" >10</text>
<text x="1816.8" y="701.0" font-size="27.5" >1</text>
<text x="1776.1" y="505.2" font-size="43" letter-spacing="-1.3" >10</text>
<text x="1816.8" y="478.7" font-size="27.5" >2</text>
<text x="1776.1" y="282.8" font-size="43" letter-spacing="-1.3" >10</text>
<text x="1816.8" y="256.3" font-size="27.5" >3</text>
<text x="1776.1" y="60.5" font-size="43" letter-spacing="-1.3" >10</text>
<text x="1816.8" y="34.0" font-size="27.5" >4</text>
<text x="1844.5" y="763.8" font-size="43" text-anchor="middle">0</text>
<text x="1996.1" y="763.8" font-size="43" text-anchor="middle">200</text>
<text x="2147.6" y="763.8" font-size="43" text-anchor="middle">400</text>
<text x="2299.2" y="763.8" font-size="43" text-anchor="middle">600</text>
<text x="2450.7" y="763.8" font-size="43" text-anchor="middle">800</text>
<text x="2602.3" y="763.8" font-size="43" text-anchor="middle">1000</text>
<text x="2187.5" y="817.2" font-size="43">t (s)</text>
<text transform="translate(1749,429.8) rotate(-90)" font-size="43.5">τ (pa)</text>
<circle cx="1872" cy="72.3" r="8.3" fill="#000"/>
<path d="M1862,143.2 L1872,127.4 L1882,143.2 Z" fill="none" stroke="#000" stroke-width="2.1" stroke-linejoin="miter"/>
<path d="M1866.4,193.6l11.2,10.4M1877.6,193.6l-11.2,10.4" stroke="#000" stroke-width="5.2" stroke-linecap="round"/>
<text x="1900" y="86" font-size="41.5">ϕ=0%</text>
<text x="1900" y="148" font-size="41.5">ϕ=1%</text>
<text x="1900" y="210" font-size="41.5">ϕ=3%</text>
<path d="M1853.1,171.3a8.6,8.6 0 1,0 -17.2,0a8.6,8.6 0 1,0 17.2,0M1853.3,206.5a8.6,8.6 0 1,0 -17.2,0a8.6,8.6 0 1,0 17.2,0M1853.4,228.0a8.6,8.6 0 1,0 -17.2,0a8.6,8.6 0 1,0 17.2,0M1853.6,247.7a8.6,8.6 0 1,0 -17.2,0a8.6,8.6 0 1,0 17.2,0M1853.7,261.0a8.6,8.6 0 1,0 -17.2,0a8.6,8.6 0 1,0 17.2,0M1853.9,273.5a8.6,8.6 0 1,0 -17.2,0a8.6,8.6 0 1,0 17.2,0M1854.0,284.8a8.6,8.6 0 1,0 -17.2,0a8.6,8.6 0 1,0 17.2,0M1854.2,295.5a8.6,8.6 0 1,0 -17.2,0a8.6,8.6 0 1,0 17.2,0M1854.3,304.4a8.6,8.6 0 1,0 -17.2,0a8.6,8.6 0 1,0 17.2,0M1854.5,312.5a8.6,8.6 0 1,0 -17.2,0a8.6,8.6 0 1,0 17.2,0M1854.6,319.9a8.6,8.6 0 1,0 -17.2,0a8.6,8.6 0 1,0 17.2,0M1854.8,326.7a8.6,8.6 0 1,0 -17.2,0a8.6,8.6 0 1,0 17.2,0M1854.9,333.0a8.6,8.6 0 1,0 -17.2,0a8.6,8.6 0 1,0 17.2,0M1855.1,338.9a8.6,8.6 0 1,0 -17.2,0a8.6,8.6 0 1,0 17.2,0M1855.2,345.5a8.6,8.6 0 1,0 -17.2,0a8.6,8.6 0 1,0 17.2,0M1855.4,354.2a8.6,8.6 0 1,0 -17.2,0a8.6,8.6 0 1,0 17.2,0M1855.7,360.8a8.6,8.6 0 1,0 -17.2,0a8.6,8.6 0 1,0 17.2,0M1855.9,366.9a8.6,8.6 0 1,0 -17.2,0a8.6,8.6 0 1,0 17.2,0M1856.2,373.2a8.6,8.6 0 1,0 -17.2,0a8.6,8.6 0 1,0 17.2,0M1856.4,377.9a8.6,8.6 0 1,0 -17.2,0a8.6,8.6 0 1,0 17.2,0M1856.7,383.3a8.6,8.6 0 1,0 -17.2,0a8.6,8.6 0 1,0 17.2,0M1856.9,389.5a8.6,8.6 0 1,0 -17.2,0a8.6,8.6 0 1,0 17.2,0M1857.2,395.2a8.6,8.6 0 1,0 -17.2,0a8.6,8.6 0 1,0 17.2,0M1857.4,400.5a8.6,8.6 0 1,0 -17.2,0a8.6,8.6 0 1,0 17.2,0M1857.7,407.2a8.6,8.6 0 1,0 -17.2,0a8.6,8.6 0 1,0 17.2,0M1857.9,411.1a8.6,8.6 0 1,0 -17.2,0a8.6,8.6 0 1,0 17.2,0M1858.2,414.8a8.6,8.6 0 1,0 -17.2,0a8.6,8.6 0 1,0 17.2,0M1858.5,418.2a8.6,8.6 0 1,0 -17.2,0a8.6,8.6 0 1,0 17.2,0M1859.2,424.1a8.6,8.6 0 1,0 -17.2,0a8.6,8.6 0 1,0 17.2,0M1859.6,428.4a8.6,8.6 0 1,0 -17.2,0a8.6,8.6 0 1,0 17.2,0M1860.0,433.0a8.6,8.6 0 1,0 -17.2,0a8.6,8.6 0 1,0 17.2,0M1860.7,440.3a8.6,8.6 0 1,0 -17.2,0a8.6,8.6 0 1,0 17.2,0M1861.1,444.8a8.6,8.6 0 1,0 -17.2,0a8.6,8.6 0 1,0 17.2,0M1861.5,449.0a8.6,8.6 0 1,0 -17.2,0a8.6,8.6 0 1,0 17.2,0M1862.2,455.2a8.6,8.6 0 1,0 -17.2,0a8.6,8.6 0 1,0 17.2,0M1862.8,460.0a8.6,8.6 0 1,0 -17.2,0a8.6,8.6 0 1,0 17.2,0M1863.4,464.7a8.6,8.6 0 1,0 -17.2,0a8.6,8.6 0 1,0 17.2,0M1864.1,469.5a8.6,8.6 0 1,0 -17.2,0a8.6,8.6 0 1,0 17.2,0M1864.9,474.2a8.6,8.6 0 1,0 -17.2,0a8.6,8.6 0 1,0 17.2,0M1865.7,478.8a8.6,8.6 0 1,0 -17.2,0a8.6,8.6 0 1,0 17.2,0M1866.5,483.4a8.6,8.6 0 1,0 -17.2,0a8.6,8.6 0 1,0 17.2,0M1867.4,488.0a8.6,8.6 0 1,0 -17.2,0a8.6,8.6 0 1,0 17.2,0M1868.4,492.5a8.6,8.6 0 1,0 -17.2,0a8.6,8.6 0 1,0 17.2,0M1869.4,496.9a8.6,8.6 0 1,0 -17.2,0a8.6,8.6 0 1,0 17.2,0M1870.5,501.3a8.6,8.6 0 1,0 -17.2,0a8.6,8.6 0 1,0 17.2,0M1871.6,505.6a8.6,8.6 0 1,0 -17.2,0a8.6,8.6 0 1,0 17.2,0M1872.9,509.9a8.6,8.6 0 1,0 -17.2,0a8.6,8.6 0 1,0 17.2,0M1874.2,514.1a8.6,8.6 0 1,0 -17.2,0a8.6,8.6 0 1,0 17.2,0M1875.6,518.3a8.6,8.6 0 1,0 -17.2,0a8.6,8.6 0 1,0 17.2,0M1877.1,522.3a8.6,8.6 0 1,0 -17.2,0a8.6,8.6 0 1,0 17.2,0M1878.7,526.3a8.6,8.6 0 1,0 -17.2,0a8.6,8.6 0 1,0 17.2,0M1880.5,530.3a8.6,8.6 0 1,0 -17.2,0a8.6,8.6 0 1,0 17.2,0M1882.3,534.1a8.6,8.6 0 1,0 -17.2,0a8.6,8.6 0 1,0 17.2,0M1884.2,537.9a8.6,8.6 0 1,0 -17.2,0a8.6,8.6 0 1,0 17.2,0M1886.3,541.7a8.6,8.6 0 1,0 -17.2,0a8.6,8.6 0 1,0 17.2,0M1888.6,545.3a8.6,8.6 0 1,0 -17.2,0a8.6,8.6 0 1,0 17.2,0M1890.9,548.9a8.6,8.6 0 1,0 -17.2,0a8.6,8.6 0 1,0 17.2,0M1893.5,552.5a8.6,8.6 0 1,0 -17.2,0a8.6,8.6 0 1,0 17.2,0M1896.2,556.0a8.6,8.6 0 1,0 -17.2,0a8.6,8.6 0 1,0 17.2,0M1899.1,559.5a8.6,8.6 0 1,0 -17.2,0a8.6,8.6 0 1,0 17.2,0M1902.1,563.0a8.6,8.6 0 1,0 -17.2,0a8.6,8.6 0 1,0 17.2,0M1905.4,566.4a8.6,8.6 0 1,0 -17.2,0a8.6,8.6 0 1,0 17.2,0M1908.9,569.8a8.6,8.6 0 1,0 -17.2,0a8.6,8.6 0 1,0 17.2,0M1912.7,573.1a8.6,8.6 0 1,0 -17.2,0a8.6,8.6 0 1,0 17.2,0M1916.7,576.5a8.6,8.6 0 1,0 -17.2,0a8.6,8.6 0 1,0 17.2,0M1920.9,579.8a8.6,8.6 0 1,0 -17.2,0a8.6,8.6 0 1,0 17.2,0M1925.5,583.1a8.6,8.6 0 1,0 -17.2,0a8.6,8.6 0 1,0 17.2,0M1930.3,586.4a8.6,8.6 0 1,0 -17.2,0a8.6,8.6 0 1,0 17.2,0M1935.5,589.8a8.6,8.6 0 1,0 -17.2,0a8.6,8.6 0 1,0 17.2,0M1941.0,593.1a8.6,8.6 0 1,0 -17.2,0a8.6,8.6 0 1,0 17.2,0M1946.9,596.5a8.6,8.6 0 1,0 -17.2,0a8.6,8.6 0 1,0 17.2,0M1953.2,599.8a8.6,8.6 0 1,0 -17.2,0a8.6,8.6 0 1,0 17.2,0M1959.9,603.2a8.6,8.6 0 1,0 -17.2,0a8.6,8.6 0 1,0 17.2,0M1967.1,606.6a8.6,8.6 0 1,0 -17.2,0a8.6,8.6 0 1,0 17.2,0M1974.7,610.0a8.6,8.6 0 1,0 -17.2,0a8.6,8.6 0 1,0 17.2,0M1982.8,613.5a8.6,8.6 0 1,0 -17.2,0a8.6,8.6 0 1,0 17.2,0M1991.5,617.0a8.6,8.6 0 1,0 -17.2,0a8.6,8.6 0 1,0 17.2,0M2000.8,620.6a8.6,8.6 0 1,0 -17.2,0a8.6,8.6 0 1,0 17.2,0M2010.7,624.2a8.6,8.6 0 1,0 -17.2,0a8.6,8.6 0 1,0 17.2,0M2021.3,627.8a8.6,8.6 0 1,0 -17.2,0a8.6,8.6 0 1,0 17.2,0M2032.5,631.4a8.6,8.6 0 1,0 -17.2,0a8.6,8.6 0 1,0 17.2,0M2044.6,635.0a8.6,8.6 0 1,0 -17.2,0a8.6,8.6 0 1,0 17.2,0M2057.4,638.6a8.6,8.6 0 1,0 -17.2,0a8.6,8.6 0 1,0 17.2,0M2071.1,642.2a8.6,8.6 0 1,0 -17.2,0a8.6,8.6 0 1,0 17.2,0M2085.7,645.8a8.6,8.6 0 1,0 -17.2,0a8.6,8.6 0 1,0 17.2,0M2101.2,649.3a8.6,8.6 0 1,0 -17.2,0a8.6,8.6 0 1,0 17.2,0M2117.8,651.4a8.6,8.6 0 1,0 -17.2,0a8.6,8.6 0 1,0 17.2,0M2138.9,656.3a8.6,8.6 0 1,0 -17.2,0a8.6,8.6 0 1,0 17.2,0M2155.0,657.6a8.6,8.6 0 1,0 -17.2,0a8.6,8.6 0 1,0 17.2,0M2177.3,663.8a8.6,8.6 0 1,0 -17.2,0a8.6,8.6 0 1,0 17.2,0M2199.6,665.0a8.6,8.6 0 1,0 -17.2,0a8.6,8.6 0 1,0 17.2,0M2223.2,668.7a8.6,8.6 0 1,0 -17.2,0a8.6,8.6 0 1,0 17.2,0M2245.6,672.5a8.6,8.6 0 1,0 -17.2,0a8.6,8.6 0 1,0 17.2,0M2275.3,676.2a8.6,8.6 0 1,0 -17.2,0a8.6,8.6 0 1,0 17.2,0M2299.2,678.9a8.6,8.6 0 1,0 -17.2,0a8.6,8.6 0 1,0 17.2,0M2330.3,681.1a8.6,8.6 0 1,0 -17.2,0a8.6,8.6 0 1,0 17.2,0M2368.0,684.0a8.6,8.6 0 1,0 -17.2,0a8.6,8.6 0 1,0 17.2,0M2398.8,690.0a8.6,8.6 0 1,0 -17.2,0a8.6,8.6 0 1,0 17.2,0M2436.5,690.0a8.6,8.6 0 1,0 -17.2,0a8.6,8.6 0 1,0 17.2,0M2474.8,693.0a8.6,8.6 0 1,0 -17.2,0a8.6,8.6 0 1,0 17.2,0M2520.4,696.0a8.6,8.6 0 1,0 -17.2,0a8.6,8.6 0 1,0 17.2,0M2565.5,700.0a8.6,8.6 0 1,0 -17.2,0a8.6,8.6 0 1,0 17.2,0M2611.1,705.9a8.6,8.6 0 1,0 -17.2,0a8.6,8.6 0 1,0 17.2,0" fill="#000"/>
<path d="M1835.3,154.5L1844.5,139.9L1853.7,154.5Z" fill="none" stroke="#000" stroke-width="2.0"/>
<path d="M1835.5,185.7L1844.7,171.1L1853.9,185.7Z" fill="none" stroke="#000" stroke-width="2.0"/>
<path d="M1835.6,209.2L1844.8,194.6L1854.0,209.2Z" fill="none" stroke="#000" stroke-width="2.0"/>
<path d="M1835.8,227.9L1845.0,213.3L1854.2,227.9Z" fill="none" stroke="#000" stroke-width="2.0"/>
<path d="M1835.9,243.3L1845.1,228.7L1854.3,243.3Z" fill="none" stroke="#000" stroke-width="2.0"/>
<path d="M1836.1,256.5L1845.3,241.9L1854.5,256.5Z" fill="none" stroke="#000" stroke-width="2.0"/>
<path d="M1836.2,267.9L1845.4,253.3L1854.6,267.9Z" fill="none" stroke="#000" stroke-width="2.0"/>
<path d="M1836.4,278.0L1845.6,263.4L1854.8,278.0Z" fill="none" stroke="#000" stroke-width="2.0"/>
<path d="M1836.5,287.0L1845.7,272.4L1854.9,287.0Z" fill="none" stroke="#000" stroke-width="2.0"/>
<path d="M1836.7,295.1L1845.9,280.5L1855.1,295.1Z" fill="none" stroke="#000" stroke-width="2.0"/>
<path d="M1836.8,302.4L1846.0,287.8L1855.2,302.4Z" fill="none" stroke="#000" stroke-width="2.0"/>
<path d="M1837.0,309.2L1846.2,294.6L1855.4,309.2Z" fill="none" stroke="#000" stroke-width="2.0"/>
<path d="M1837.1,315.4L1846.3,300.8L1855.5,315.4Z" fill="none" stroke="#000" stroke-width="2.0"/>
<path d="M1837.3,321.1L1846.5,306.5L1855.7,321.1Z" fill="none" stroke="#000" stroke-width="2.0"/>
<path d="M1837.4,326.5L1846.6,311.9L1855.8,326.5Z" fill="none" stroke="#000" stroke-width="2.0"/>
<path d="M1837.6,333.8L1846.8,319.2L1856.0,333.8Z" fill="none" stroke="#000" stroke-width="2.0"/>
<path d="M1837.9,341.2L1847.1,326.6L1856.3,341.2Z" fill="none" stroke="#000" stroke-width="2.0"/>
<path d="M1838.1,347.9L1847.3,333.3L1856.5,347.9Z" fill="none" stroke="#000" stroke-width="2.0"/>
<path d="M1838.4,354.0L1847.6,339.4L1856.8,354.0Z" fill="none" stroke="#000" stroke-width="2.0"/>
<path d="M1838.6,359.7L1847.8,345.1L1857.0,359.7Z" fill="none" stroke="#000" stroke-width="2.0"/>
<path d="M1838.9,364.9L1848.1,350.3L1857.3,364.9Z" fill="none" stroke="#000" stroke-width="2.0"/>
<path d="M1839.1,369.8L1848.3,355.2L1857.5,369.8Z" fill="none" stroke="#000" stroke-width="2.0"/>
<path d="M1839.4,374.4L1848.6,359.8L1857.8,374.4Z" fill="none" stroke="#000" stroke-width="2.0"/>
<path d="M1839.6,378.7L1848.8,364.1L1858.0,378.7Z" fill="none" stroke="#000" stroke-width="2.0"/>
<path d="M1839.9,382.7L1849.1,368.1L1858.3,382.7Z" fill="none" stroke="#000" stroke-width="2.0"/>
<path d="M1840.1,386.5L1849.3,371.9L1858.5,386.5Z" fill="none" stroke="#000" stroke-width="2.0"/>
<path d="M1840.4,390.1L1849.6,375.5L1858.8,390.1Z" fill="none" stroke="#000" stroke-width="2.0"/>
<path d="M1840.7,393.5L1849.9,378.9L1859.1,393.5Z" fill="none" stroke="#000" stroke-width="2.0"/>
<path d="M1841.4,402.8L1850.6,388.2L1859.8,402.8Z" fill="none" stroke="#000" stroke-width="2.0"/>
<path d="M1841.8,406.9L1851.0,392.3L1860.2,406.9Z" fill="none" stroke="#000" stroke-width="2.0"/>
<path d="M1842.2,411.0L1851.4,396.4L1860.6,411.0Z" fill="none" stroke="#000" stroke-width="2.0"/>
<path d="M1842.9,418.1L1852.1,403.5L1861.3,418.1Z" fill="none" stroke="#000" stroke-width="2.0"/>
<path d="M1843.3,421.3L1852.5,406.7L1861.7,421.3Z" fill="none" stroke="#000" stroke-width="2.0"/>
<path d="M1843.7,424.5L1852.9,409.9L1862.1,424.5Z" fill="none" stroke="#000" stroke-width="2.0"/>
<path d="M1844.4,430.1L1853.6,415.5L1862.8,430.1Z" fill="none" stroke="#000" stroke-width="2.0"/>
<path d="M1845.0,434.4L1854.2,419.8L1863.4,434.4Z" fill="none" stroke="#000" stroke-width="2.0"/>
<path d="M1845.6,438.7L1854.8,424.1L1864.0,438.7Z" fill="none" stroke="#000" stroke-width="2.0"/>
<path d="M1846.3,443.0L1855.5,428.4L1864.7,443.0Z" fill="none" stroke="#000" stroke-width="2.0"/>
<path d="M1847.1,447.3L1856.3,432.7L1865.5,447.3Z" fill="none" stroke="#000" stroke-width="2.0"/>
<path d="M1847.9,451.5L1857.1,436.9L1866.3,451.5Z" fill="none" stroke="#000" stroke-width="2.0"/>
<path d="M1848.7,455.6L1857.9,441.0L1867.1,455.6Z" fill="none" stroke="#000" stroke-width="2.0"/>
<path d="M1849.6,459.8L1858.8,445.2L1868.0,459.8Z" fill="none" stroke="#000" stroke-width="2.0"/>
<path d="M1850.6,463.9L1859.8,449.3L1869.0,463.9Z" fill="none" stroke="#000" stroke-width="2.0"/>
<path d="M1851.6,468.0L1860.8,453.4L1870.0,468.0Z" fill="none" stroke="#000" stroke-width="2.0"/>
<path d="M1852.7,472.1L1861.9,457.5L1871.1,472.1Z" fill="none" stroke="#000" stroke-width="2.0"/>
<path d="M1853.8,476.1L1863.0,461.5L1872.2,476.1Z" fill="none" stroke="#000" stroke-width="2.0"/>
<path d="M1855.1,480.1L1864.3,465.5L1873.5,480.1Z" fill="none" stroke="#000" stroke-width="2.0"/>
<path d="M1856.4,484.1L1865.6,469.5L1874.8,484.1Z" fill="none" stroke="#000" stroke-width="2.0"/>
<path d="M1857.8,488.1L1867.0,473.5L1876.2,488.1Z" fill="none" stroke="#000" stroke-width="2.0"/>
<path d="M1859.3,492.1L1868.5,477.5L1877.7,492.1Z" fill="none" stroke="#000" stroke-width="2.0"/>
<path d="M1860.9,496.0L1870.1,481.4L1879.3,496.0Z" fill="none" stroke="#000" stroke-width="2.0"/>
<path d="M1862.7,499.9L1871.9,485.3L1881.1,499.9Z" fill="none" stroke="#000" stroke-width="2.0"/>
<path d="M1864.5,503.8L1873.7,489.2L1882.9,503.8Z" fill="none" stroke="#000" stroke-width="2.0"/>
<path d="M1866.4,507.7L1875.6,493.1L1884.8,507.7Z" fill="none" stroke="#000" stroke-width="2.0"/>
<path d="M1868.5,511.6L1877.7,497.0L1886.9,511.6Z" fill="none" stroke="#000" stroke-width="2.0"/>
<path d="M1870.8,515.5L1880.0,500.9L1889.2,515.5Z" fill="none" stroke="#000" stroke-width="2.0"/>
<path d="M1873.1,519.3L1882.3,504.7L1891.5,519.3Z" fill="none" stroke="#000" stroke-width="2.0"/>
<path d="M1875.7,523.2L1884.9,508.6L1894.1,523.2Z" fill="none" stroke="#000" stroke-width="2.0"/>
<path d="M1878.4,527.0L1887.6,512.4L1896.8,527.0Z" fill="none" stroke="#000" stroke-width="2.0"/>
<path d="M1881.3,530.9L1890.5,516.3L1899.7,530.9Z" fill="none" stroke="#000" stroke-width="2.0"/>
<path d="M1884.3,534.7L1893.5,520.1L1902.7,534.7Z" fill="none" stroke="#000" stroke-width="2.0"/>
<path d="M1887.6,538.5L1896.8,523.9L1906.0,538.5Z" fill="none" stroke="#000" stroke-width="2.0"/>
<path d="M1891.1,542.4L1900.3,527.8L1909.5,542.4Z" fill="none" stroke="#000" stroke-width="2.0"/>
<path d="M1894.9,546.2L1904.1,531.6L1913.3,546.2Z" fill="none" stroke="#000" stroke-width="2.0"/>
<path d="M1898.9,550.0L1908.1,535.4L1917.3,550.0Z" fill="none" stroke="#000" stroke-width="2.0"/>
<path d="M1903.1,553.9L1912.3,539.3L1921.5,553.9Z" fill="none" stroke="#000" stroke-width="2.0"/>
<path d="M1907.7,557.7L1916.9,543.1L1926.1,557.7Z" fill="none" stroke="#000" stroke-width="2.0"/>
<path d="M1912.5,561.5L1921.7,546.9L1930.9,561.5Z" fill="none" stroke="#000" stroke-width="2.0"/>
<path d="M1917.7,565.3L1926.9,550.7L1936.1,565.3Z" fill="none" stroke="#000" stroke-width="2.0"/>
<path d="M1923.2,569.1L1932.4,554.5L1941.6,569.1Z" fill="none" stroke="#000" stroke-width="2.0"/>
<path d="M1929.1,572.9L1938.3,558.3L1947.5,572.9Z" fill="none" stroke="#000" stroke-width="2.0"/>
<path d="M1935.4,576.7L1944.6,562.1L1953.8,576.7Z" fill="none" stroke="#000" stroke-width="2.0"/>
<path d="M1942.1,580.5L1951.3,565.9L1960.5,580.5Z" fill="none" stroke="#000" stroke-width="2.0"/>
<path d="M1949.3,584.3L1958.5,569.7L1967.7,584.3Z" fill="none" stroke="#000" stroke-width="2.0"/>
<path d="M1956.9,588.1L1966.1,573.5L1975.3,588.1Z" fill="none" stroke="#000" stroke-width="2.0"/>
<path d="M1965.0,591.9L1974.2,577.3L1983.4,591.9Z" fill="none" stroke="#000" stroke-width="2.0"/>
<path d="M1973.7,595.7L1982.9,581.1L1992.1,595.7Z" fill="none" stroke="#000" stroke-width="2.0"/>
<path d="M1983.0,599.4L1992.2,584.8L2001.4,599.4Z" fill="none" stroke="#000" stroke-width="2.0"/>
<path d="M1992.9,603.2L2002.1,588.6L2011.3,603.2Z" fill="none" stroke="#000" stroke-width="2.0"/>
<path d="M2003.5,606.9L2012.7,592.3L2021.9,606.9Z" fill="none" stroke="#000" stroke-width="2.0"/>
<path d="M2014.7,610.7L2023.9,596.1L2033.1,610.7Z" fill="none" stroke="#000" stroke-width="2.0"/>
<path d="M2026.8,614.4L2036.0,599.8L2045.2,614.4Z" fill="none" stroke="#000" stroke-width="2.0"/>
<path d="M2039.6,618.1L2048.8,603.5L2058.0,618.1Z" fill="none" stroke="#000" stroke-width="2.0"/>
<path d="M2053.3,621.7L2062.5,607.1L2071.7,621.7Z" fill="none" stroke="#000" stroke-width="2.0"/>
<path d="M2067.9,625.4L2077.1,610.8L2086.3,625.4Z" fill="none" stroke="#000" stroke-width="2.0"/>
<path d="M2083.4,629.0L2092.6,614.4L2101.8,629.0Z" fill="none" stroke="#000" stroke-width="2.0"/>
<path d="M2100.0,633.5L2109.2,618.9L2118.4,633.5Z" fill="none" stroke="#000" stroke-width="2.0"/>
<path d="M2121.1,637.3L2130.3,622.7L2139.5,637.3Z" fill="none" stroke="#000" stroke-width="2.0"/>
<path d="M2137.2,641.0L2146.4,626.4L2155.6,641.0Z" fill="none" stroke="#000" stroke-width="2.0"/>
<path d="M2159.5,643.5L2168.7,628.9L2177.9,643.5Z" fill="none" stroke="#000" stroke-width="2.0"/>
<path d="M2181.8,646.0L2191.0,631.4L2200.2,646.0Z" fill="none" stroke="#000" stroke-width="2.0"/>
<path d="M2205.4,649.7L2214.6,635.1L2223.8,649.7Z" fill="none" stroke="#000" stroke-width="2.0"/>
<path d="M2227.8,652.2L2237.0,637.6L2246.2,652.2Z" fill="none" stroke="#000" stroke-width="2.0"/>
<path d="M2257.5,658.4L2266.7,643.8L2275.9,658.4Z" fill="none" stroke="#000" stroke-width="2.0"/>
<path d="M2281.4,660.0L2290.6,645.4L2299.8,660.0Z" fill="none" stroke="#000" stroke-width="2.0"/>
<path d="M2312.5,663.3L2321.7,648.7L2330.9,663.3Z" fill="none" stroke="#000" stroke-width="2.0"/>
<path d="M2350.2,666.2L2359.4,651.6L2368.6,666.2Z" fill="none" stroke="#000" stroke-width="2.0"/>
<path d="M2381.0,669.2L2390.2,654.6L2399.4,669.2Z" fill="none" stroke="#000" stroke-width="2.0"/>
<path d="M2418.7,672.2L2427.9,657.6L2437.1,672.2Z" fill="none" stroke="#000" stroke-width="2.0"/>
<path d="M2457.0,674.2L2466.2,659.6L2475.4,674.2Z" fill="none" stroke="#000" stroke-width="2.0"/>
<path d="M2502.6,676.2L2511.8,661.6L2521.0,676.2Z" fill="none" stroke="#000" stroke-width="2.0"/>
<path d="M2547.7,678.2L2556.9,663.6L2566.1,678.2Z" fill="none" stroke="#000" stroke-width="2.0"/>
<path d="M2593.3,682.1L2602.5,667.5L2611.7,682.1Z" fill="none" stroke="#000" stroke-width="2.0"/>
<path d="M1838.9,122.6l11.2,10.4M1850.1,122.6l-11.2,10.4M1839.1,150.2l11.2,10.4M1850.3,150.2l-11.2,10.4M1839.2,165.6l11.2,10.4M1850.4,165.6l-11.2,10.4M1839.4,178.6l11.2,10.4M1850.6,178.6l-11.2,10.4M1839.5,191.0l11.2,10.4M1850.7,191.0l-11.2,10.4M1839.7,203.0l11.2,10.4M1850.9,203.0l-11.2,10.4M1839.8,215.1l11.2,10.4M1851.0,215.1l-11.2,10.4M1840.0,226.1l11.2,10.4M1851.2,226.1l-11.2,10.4M1840.1,237.0l11.2,10.4M1851.3,237.0l-11.2,10.4M1840.3,245.5l11.2,10.4M1851.5,245.5l-11.2,10.4M1840.4,254.8l11.2,10.4M1851.6,254.8l-11.2,10.4M1840.6,262.8l11.2,10.4M1851.8,262.8l-11.2,10.4M1840.7,270.0l11.2,10.4M1851.9,270.0l-11.2,10.4M1840.9,276.1l11.2,10.4M1852.1,276.1l-11.2,10.4M1841.0,282.1l11.2,10.4M1852.2,282.1l-11.2,10.4M1841.2,296.9l11.2,10.4M1852.4,296.9l-11.2,10.4M1841.5,303.9l11.2,10.4M1852.7,303.9l-11.2,10.4M1841.7,311.1l11.2,10.4M1852.9,311.1l-11.2,10.4M1842.0,317.8l11.2,10.4M1853.2,317.8l-11.2,10.4M1842.2,323.5l11.2,10.4M1853.4,323.5l-11.2,10.4M1842.5,328.4l11.2,10.4M1853.7,328.4l-11.2,10.4M1842.7,333.5l11.2,10.4M1853.9,333.5l-11.2,10.4M1843.0,339.2l11.2,10.4M1854.2,339.2l-11.2,10.4M1843.2,344.1l11.2,10.4M1854.4,344.1l-11.2,10.4M1843.5,347.8l11.2,10.4M1854.7,347.8l-11.2,10.4M1843.7,353.0l11.2,10.4M1854.9,353.0l-11.2,10.4M1844.0,358.1l11.2,10.4M1855.2,358.1l-11.2,10.4M1844.3,361.0l11.2,10.4M1855.5,361.0l-11.2,10.4M1845.0,364.5l11.2,10.4M1856.2,364.5l-11.2,10.4M1845.4,370.5l11.2,10.4M1856.6,370.5l-11.2,10.4M1845.8,374.7l11.2,10.4M1857.0,374.7l-11.2,10.4M1846.5,381.0l11.2,10.4M1857.7,381.0l-11.2,10.4M1846.9,385.3l11.2,10.4M1858.1,385.3l-11.2,10.4M1847.3,388.9l11.2,10.4M1858.5,388.9l-11.2,10.4M1848.0,394.3l11.2,10.4M1859.2,394.3l-11.2,10.4M1848.6,398.4l11.2,10.4M1859.8,398.4l-11.2,10.4M1849.2,402.6l11.2,10.4M1860.4,402.6l-11.2,10.4M1849.9,406.7l11.2,10.4M1861.1,406.7l-11.2,10.4M1850.7,410.7l11.2,10.4M1861.9,410.7l-11.2,10.4M1851.5,414.8l11.2,10.4M1862.7,414.8l-11.2,10.4M1852.3,418.8l11.2,10.4M1863.5,418.8l-11.2,10.4M1853.2,422.7l11.2,10.4M1864.4,422.7l-11.2,10.4M1854.2,426.7l11.2,10.4M1865.4,426.7l-11.2,10.4M1855.2,430.6l11.2,10.4M1866.4,430.6l-11.2,10.4M1856.3,434.5l11.2,10.4M1867.5,434.5l-11.2,10.4M1857.4,438.3l11.2,10.4M1868.6,438.3l-11.2,10.4M1858.7,442.1l11.2,10.4M1869.9,442.1l-11.2,10.4M1860.0,445.9l11.2,10.4M1871.2,445.9l-11.2,10.4M1861.4,449.7l11.2,10.4M1872.6,449.7l-11.2,10.4M1862.9,453.4l11.2,10.4M1874.1,453.4l-11.2,10.4M1864.5,457.1l11.2,10.4M1875.7,457.1l-11.2,10.4M1866.3,460.7l11.2,10.4M1877.5,460.7l-11.2,10.4M1868.1,464.3l11.2,10.4M1879.3,464.3l-11.2,10.4M1870.0,467.9l11.2,10.4M1881.2,467.9l-11.2,10.4M1872.1,471.5l11.2,10.4M1883.3,471.5l-11.2,10.4M1874.4,475.0l11.2,10.4M1885.6,475.0l-11.2,10.4M1876.7,478.5l11.2,10.4M1887.9,478.5l-11.2,10.4M1879.3,482.0l11.2,10.4M1890.5,482.0l-11.2,10.4M1882.0,485.4l11.2,10.4M1893.2,485.4l-11.2,10.4M1884.9,488.8l11.2,10.4M1896.1,488.8l-11.2,10.4M1887.9,492.1l11.2,10.4M1899.1,492.1l-11.2,10.4M1891.2,495.5l11.2,10.4M1902.4,495.5l-11.2,10.4M1894.7,498.8l11.2,10.4M1905.9,498.8l-11.2,10.4M1898.5,502.1l11.2,10.4M1909.7,502.1l-11.2,10.4M1902.5,505.3l11.2,10.4M1913.7,505.3l-11.2,10.4M1906.7,508.5l11.2,10.4M1917.9,508.5l-11.2,10.4M1911.3,511.7l11.2,10.4M1922.5,511.7l-11.2,10.4M1916.1,514.9l11.2,10.4M1927.3,514.9l-11.2,10.4M1921.3,518.0l11.2,10.4M1932.5,518.0l-11.2,10.4M1926.8,521.1l11.2,10.4M1938.0,521.1l-11.2,10.4M1932.7,524.2l11.2,10.4M1943.9,524.2l-11.2,10.4M1939.0,527.2l11.2,10.4M1950.2,527.2l-11.2,10.4M1945.7,530.2l11.2,10.4M1956.9,530.2l-11.2,10.4M1952.9,533.2l11.2,10.4M1964.1,533.2l-11.2,10.4M1960.5,536.2l11.2,10.4M1971.7,536.2l-11.2,10.4M1968.6,539.1l11.2,10.4M1979.8,539.1l-11.2,10.4M1977.3,542.0l11.2,10.4M1988.5,542.0l-11.2,10.4M1986.6,544.9l11.2,10.4M1997.8,544.9l-11.2,10.4M1996.5,547.8l11.2,10.4M2007.7,547.8l-11.2,10.4M2007.1,550.6l11.2,10.4M2018.3,550.6l-11.2,10.4M2018.3,553.4l11.2,10.4M2029.5,553.4l-11.2,10.4M2030.4,556.2l11.2,10.4M2041.6,556.2l-11.2,10.4M2043.2,559.0l11.2,10.4M2054.4,559.0l-11.2,10.4M2056.9,561.7l11.2,10.4M2068.1,561.7l-11.2,10.4M2071.5,564.4l11.2,10.4M2082.7,564.4l-11.2,10.4M2087.0,567.1l11.2,10.4M2098.2,567.1l-11.2,10.4M2103.6,570.5l11.2,10.4M2114.8,570.5l-11.2,10.4M2124.7,573.0l11.2,10.4M2135.9,573.0l-11.2,10.4M2140.8,574.2l11.2,10.4M2152.0,574.2l-11.2,10.4M2163.1,576.7l11.2,10.4M2174.3,576.7l-11.2,10.4M2185.4,580.4l11.2,10.4M2196.6,580.4l-11.2,10.4M2209.0,582.9l11.2,10.4M2220.2,582.9l-11.2,10.4M2231.4,584.1l11.2,10.4M2242.6,584.1l-11.2,10.4M2261.1,586.6l11.2,10.4M2272.3,586.6l-11.2,10.4M2285.0,590.9l11.2,10.4M2296.2,590.9l-11.2,10.4M2316.1,592.5l11.2,10.4M2327.3,592.5l-11.2,10.4M2353.8,595.5l11.2,10.4M2365.0,595.5l-11.2,10.4M2384.6,594.5l11.2,10.4M2395.8,594.5l-11.2,10.4M2422.3,599.5l11.2,10.4M2433.5,599.5l-11.2,10.4M2460.6,600.5l11.2,10.4M2471.8,600.5l-11.2,10.4M2506.2,603.4l11.2,10.4M2517.4,603.4l-11.2,10.4M2551.3,604.4l11.2,10.4M2562.5,604.4l-11.2,10.4M2596.9,605.4l11.2,10.4M2608.1,605.4l-11.2,10.4" stroke="#000" stroke-width="5.2" stroke-linecap="round" fill="none"/>
<path d="M2179.5,105.6 V425.5" fill="none" stroke="#333" stroke-width="1.6"/>
<path d="M2178.7,425.5 H2602.5" fill="none" stroke="#111" stroke-width="2.2"/>
<path d="M2179.5,377.1h4M2179.5,349.0h4M2179.5,329.0h4M2179.5,313.5h4M2179.5,300.9h4M2179.5,290.2h4M2179.5,280.9h4M2179.5,272.7h4M2179.5,265.4h6M2179.5,217.3h4M2179.5,189.2h4M2179.5,169.2h4M2179.5,153.7h4M2179.5,141.1h4M2179.5,130.4h4M2179.5,121.1h4M2179.5,112.9h4M2179.5,105.6h6M2353.2,425.5v-6M2527.0,425.5v-6" stroke="#444" stroke-width="1.3" fill="none"/>
<text x="2111.3" y="441.8" font-size="43" letter-spacing="-1.3" >10</text>
<text x="2148.5" y="415.3" font-size="27.5" >2</text>
<text x="2111.3" y="282.0" font-size="43" letter-spacing="-1.3" >10</text>
<text x="2148.5" y="255.5" font-size="27.5" >3</text>
<text x="2111.3" y="122.2" font-size="43" letter-spacing="-1.3" >10</text>
<text x="2148.5" y="95.7" font-size="27.5" >4</text>
<text x="2179.5" y="475.8" font-size="43" text-anchor="middle">0</text>
<text x="2353.2" y="475.8" font-size="43" text-anchor="middle">5</text>
<text x="2528.0" y="475.8" font-size="43" text-anchor="middle">10</text>
<text x="2354" y="528.7" font-size="43">t (s)</text>
<text transform="translate(2082.5,315.6) rotate(-90)" font-size="43.5">τ (pa)</text>
<path d="M2186.1,196.0a6.6,6.6 0 1,0 -13.2,0a6.6,6.6 0 1,0 13.2,0M2193.0,221.3a6.6,6.6 0 1,0 -13.2,0a6.6,6.6 0 1,0 13.2,0M2200.0,236.8a6.6,6.6 0 1,0 -13.2,0a6.6,6.6 0 1,0 13.2,0M2206.9,250.9a6.6,6.6 0 1,0 -13.2,0a6.6,6.6 0 1,0 13.2,0M2213.9,260.5a6.6,6.6 0 1,0 -13.2,0a6.6,6.6 0 1,0 13.2,0M2220.8,269.5a6.6,6.6 0 1,0 -13.2,0a6.6,6.6 0 1,0 13.2,0M2227.8,277.6a6.6,6.6 0 1,0 -13.2,0a6.6,6.6 0 1,0 13.2,0M2234.8,285.2a6.6,6.6 0 1,0 -13.2,0a6.6,6.6 0 1,0 13.2,0M2241.7,291.7a6.6,6.6 0 1,0 -13.2,0a6.6,6.6 0 1,0 13.2,0M2248.7,297.5a6.6,6.6 0 1,0 -13.2,0a6.6,6.6 0 1,0 13.2,0M2255.6,302.9a6.6,6.6 0 1,0 -13.2,0a6.6,6.6 0 1,0 13.2,0M2262.5,307.7a6.6,6.6 0 1,0 -13.2,0a6.6,6.6 0 1,0 13.2,0M2269.5,312.3a6.6,6.6 0 1,0 -13.2,0a6.6,6.6 0 1,0 13.2,0M2276.4,316.5a6.6,6.6 0 1,0 -13.2,0a6.6,6.6 0 1,0 13.2,0M2283.4,321.2a6.6,6.6 0 1,0 -13.2,0a6.6,6.6 0 1,0 13.2,0M2293.8,327.5a6.6,6.6 0 1,0 -13.2,0a6.6,6.6 0 1,0 13.2,0M2305.3,332.2a6.6,6.6 0 1,0 -13.2,0a6.6,6.6 0 1,0 13.2,0M2316.8,336.6a6.6,6.6 0 1,0 -13.2,0a6.6,6.6 0 1,0 13.2,0M2328.2,341.2a6.6,6.6 0 1,0 -13.2,0a6.6,6.6 0 1,0 13.2,0M2339.7,344.5a6.6,6.6 0 1,0 -13.2,0a6.6,6.6 0 1,0 13.2,0M2351.2,348.4a6.6,6.6 0 1,0 -13.2,0a6.6,6.6 0 1,0 13.2,0M2362.6,352.8a6.6,6.6 0 1,0 -13.2,0a6.6,6.6 0 1,0 13.2,0M2374.1,357.0a6.6,6.6 0 1,0 -13.2,0a6.6,6.6 0 1,0 13.2,0M2385.6,360.8a6.6,6.6 0 1,0 -13.2,0a6.6,6.6 0 1,0 13.2,0M2396.3,366.0a6.6,6.6 0 1,0 -13.2,0a6.6,6.6 0 1,0 13.2,0M2413.2,369.2a6.6,6.6 0 1,0 -13.2,0a6.6,6.6 0 1,0 13.2,0M2430.1,373.5a6.6,6.6 0 1,0 -13.2,0a6.6,6.6 0 1,0 13.2,0M2464.9,377.7a6.6,6.6 0 1,0 -13.2,0a6.6,6.6 0 1,0 13.2,0M2481.7,380.8a6.6,6.6 0 1,0 -13.2,0a6.6,6.6 0 1,0 13.2,0M2499.7,384.0a6.6,6.6 0 1,0 -13.2,0a6.6,6.6 0 1,0 13.2,0M2533.4,388.2a6.6,6.6 0 1,0 -13.2,0a6.6,6.6 0 1,0 13.2,0M2550.3,391.4a6.6,6.6 0 1,0 -13.2,0a6.6,6.6 0 1,0 13.2,0M2568.2,393.5a6.6,6.6 0 1,0 -13.2,0a6.6,6.6 0 1,0 13.2,0" fill="#000"/>
<path d="M2173.9,159.5l11.2,10.4M2185.1,159.5l-11.2,10.4M2180.8,179.4l11.2,10.4M2192.0,179.4l-11.2,10.4M2187.8,190.4l11.2,10.4M2199.0,190.4l-11.2,10.4M2194.8,199.8l11.2,10.4M2205.9,199.8l-11.2,10.4M2201.7,208.7l11.2,10.4M2212.9,208.7l-11.2,10.4M2208.7,217.4l11.2,10.4M2219.8,217.4l-11.2,10.4M2215.6,226.0l11.2,10.4M2226.8,226.0l-11.2,10.4M2222.6,234.0l11.2,10.4M2233.8,234.0l-11.2,10.4M2229.5,241.8l11.2,10.4M2240.7,241.8l-11.2,10.4M2236.5,247.9l11.2,10.4M2247.7,247.9l-11.2,10.4M2243.4,254.5l11.2,10.4M2254.6,254.5l-11.2,10.4M2250.3,260.3l11.2,10.4M2261.5,260.3l-11.2,10.4M2257.3,265.5l11.2,10.4M2268.5,265.5l-11.2,10.4M2264.2,269.9l11.2,10.4M2275.4,269.9l-11.2,10.4M2271.2,274.2l11.2,10.4M2282.4,274.2l-11.2,10.4M2281.6,284.8l11.2,10.4M2292.8,284.8l-11.2,10.4M2293.1,289.9l11.2,10.4M2304.3,289.9l-11.2,10.4M2304.6,295.1l11.2,10.4M2315.8,295.1l-11.2,10.4M2316.0,299.8l11.2,10.4M2327.2,299.8l-11.2,10.4M2327.5,304.0l11.2,10.4M2338.7,304.0l-11.2,10.4M2339.0,307.5l11.2,10.4M2350.2,307.5l-11.2,10.4M2350.4,311.1l11.2,10.4M2361.6,311.1l-11.2,10.4M2361.9,315.2l11.2,10.4M2373.1,315.2l-11.2,10.4M2373.4,318.7l11.2,10.4M2384.6,318.7l-11.2,10.4M2384.1,320.8l11.2,10.4M2395.3,320.8l-11.2,10.4M2401.0,326.1l11.2,10.4M2412.2,326.1l-11.2,10.4M2417.9,330.3l11.2,10.4M2429.1,330.3l-11.2,10.4M2452.7,333.4l11.2,10.4M2463.9,333.4l-11.2,10.4M2469.5,337.7l11.2,10.4M2480.7,337.7l-11.2,10.4M2487.5,340.8l11.2,10.4M2498.7,340.8l-11.2,10.4M2521.2,344.0l11.2,10.4M2532.4,344.0l-11.2,10.4M2538.1,347.2l11.2,10.4M2549.3,347.2l-11.2,10.4M2556.0,351.4l11.2,10.4M2567.2,351.4l-11.2,10.4" stroke="#000" stroke-width="5.0" stroke-linecap="round" fill="none"/></g></svg></body></html>
